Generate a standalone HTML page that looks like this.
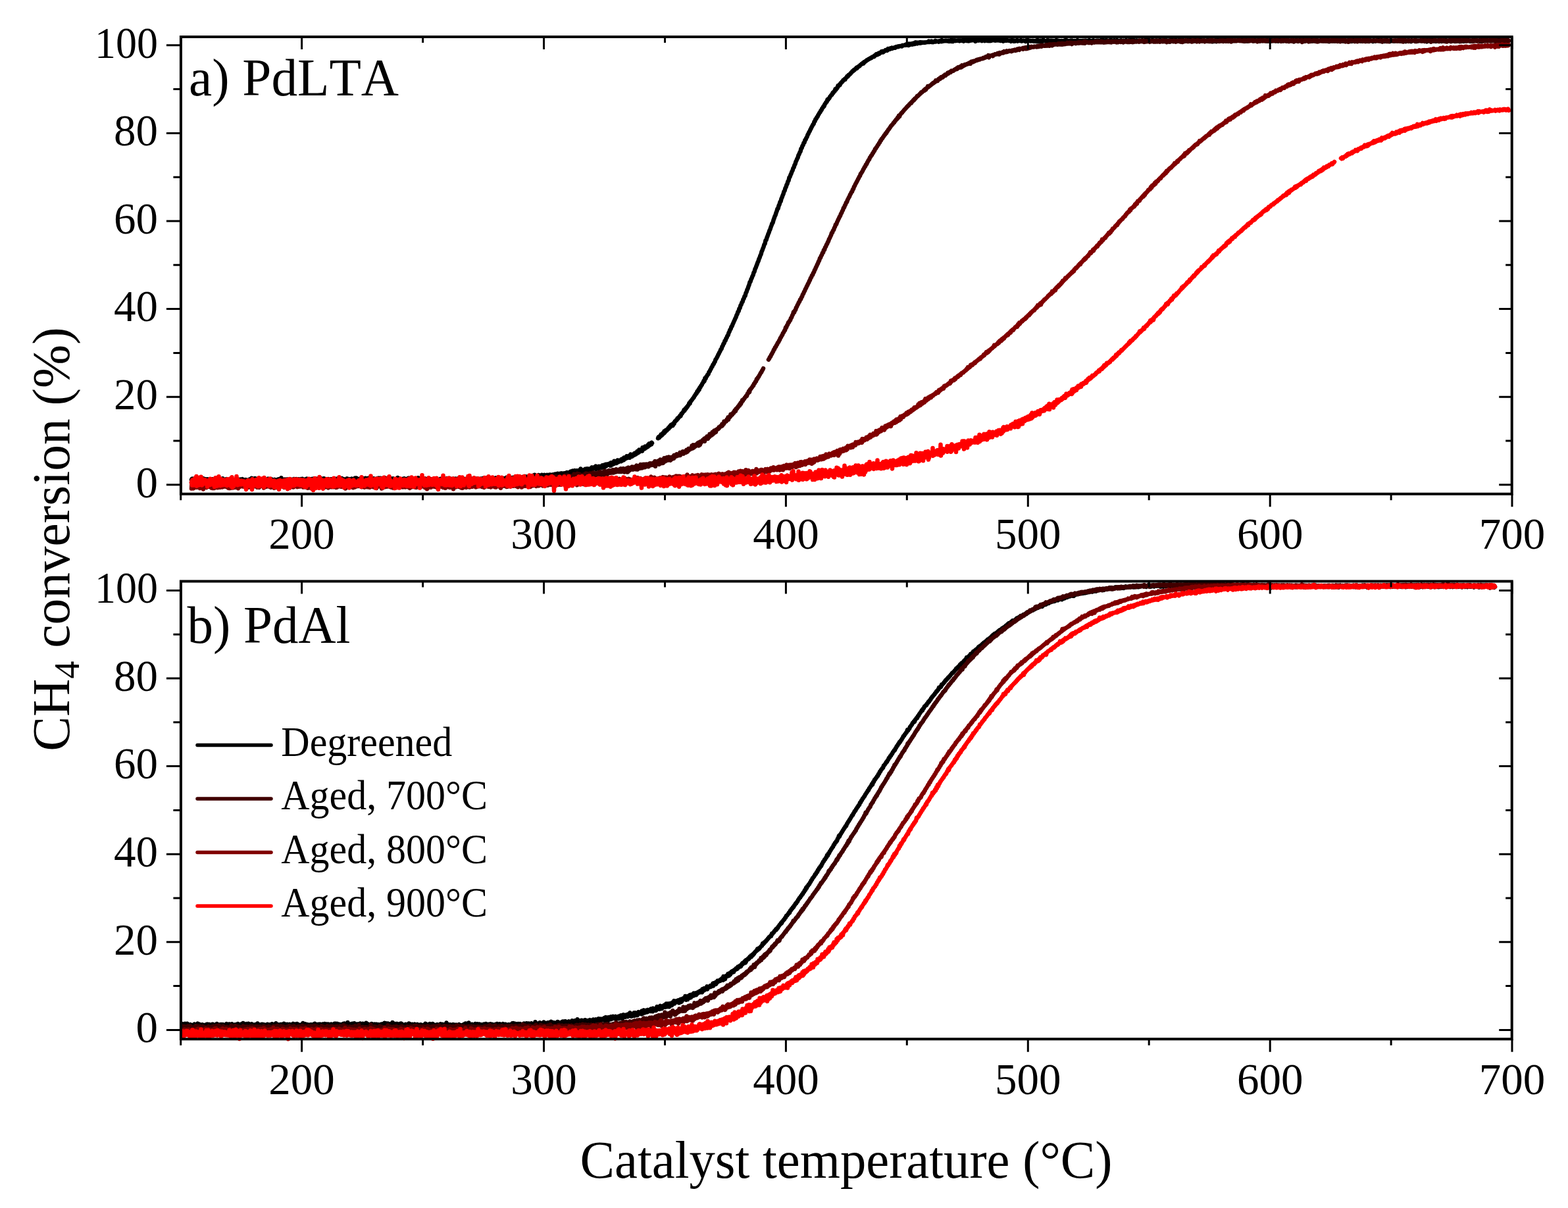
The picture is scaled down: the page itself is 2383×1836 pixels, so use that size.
<!DOCTYPE html>
<html><head><meta charset="utf-8"><title>CH4 conversion</title><style>html,body{margin:0;padding:0;background:#fff;overflow:hidden}svg{display:block}</style></head><body>
<svg xmlns="http://www.w3.org/2000/svg" width="2383" height="1836" viewBox="0 0 2383 1836">
<rect width="2383" height="1836" fill="#fff"/>
<g fill="none" stroke-linejoin="round" stroke-linecap="round">
<path d="M291 729.2l.5 -1.2l.5 1.2l.5 -1.7l.5 2.4l.5 -1.5l.5 1.1l.5 -1.2l.5 1l.5 -.7l.5 .4l.5 -.6l.5 1.4l.5 -1l.5 .7l.5 -1.1l.5 .7l.5 -.4l.5 1.2l.5 -1.1l.5 .3l.5 -.3l.5 1.7l.5 -2.5l.5 4.1l.5 -5l.5 2.2l.5 -.6l.5 .7l.5 -.5l.5 2.6l.5 -3.5l.5 1.6l.5 -2.6l.5 2.9l.5 -1.4l.5 1.3l.5 -2.4l.5 2.1l.5 -.3l.5 1.4l.5 -2.1l.5 .9l.5 -1.1l.5 1.1l.5 -.2l.5 .2l.5 -.6l.5 1.2l.5 -1.6l.5 1.3l.5 -1.2l.5 1.7l.5 -1.3l.5 1.5l.5 -2.2l.5 2.2l.5 -1l.5 1.4l.5 -1.7l.5 .4l.5 -.3l.5 1.4l.5 -2.3l.5 1.4l.5 -.7l.5 .8l.5 -1.1l.5 2.6l.5 -2.1l.5 1.7l.5 -1.7l.5 1.2l.5 -1.7l.5 1.1l.5 -1.2l.5 1.4l.5 -2l.5 1.7l.5 -.6l.5 1.4l.5 -1.1l.5 2l.5 -3.1l.5 2.3l.5 -1.7l.5 1.4l.5 -.7l.5 .5l.5 -1l.5 1.5l.5 -1.2l.5 .4l.5 -.4l.5 1.4l.5 -3.6l.5 2.6l.5 -.1l.5 1.6l.5 -2l.5 1.1l.5 -1.6l.5 1.1l.5 -.9l.5 2.1l.5 -1.8l.5 1.4l.5 -2.6l.5 3.6l.5 -2.1l.5 .9l.5 -.9l.5 .4l.5 -1.2l.5 1l.5 0l.5 .8l.5 -1.3l.5 1.6l.5 -1.8l.5 2.4l.5 -3.4l.5 4.4l.5 -3.4l.5 3.5l.5 -3.9l.5 2.5l.5 -2l.5 1.5l.5 -1.4l.5 .9l.5 -1l.5 1.1l.5 -.8l.5 .5l.5 -1.1l.5 1.3l.5 -1.4l.5 1.1l.5 -1.3l.5 2.5l.5 -2.8l.5 1.6l.5 -.1l.5 .6l.5 -1l.5 .7l.5 -.7l.5 .8l.5 -1.6l.5 2.2l.5 -1.6l.5 1.8l.5 -2.1l.5 1.4l.5 -2.2l.5 3.1l.5 -1.5l.5 2.5l.5 -2.3l.5 1l.5 -1.3l.5 1l.5 -1l.5 1.1l.5 -1.5l.5 2.9l.5 -2.4l.5 .9l.5 -.8l.5 .2l.5 -.2l.5 .1l.5 -.2l.5 2l.5 -2.7l.5 1.5l.5 -1.9l.5 2l.5 -2.1l.5 1.9l.5 -.7l.5 1.2l.5 -4.2l.5 4.2l.5 -2.2l.5 2.1l.5 -1l.5 1.8l.5 -1.9l.5 .7l.5 -1.8l.5 2.4l.5 -4.1l.5 3.1l.5 -1.9l.5 3l.5 -1.4l.5 .8l.5 -1.8l.5 3.2l.5 -4.2l.5 3.4l.5 -1.6l.5 1.1l.5 -.7l.5 1.4l.5 -3.5l.5 3.2l.5 -1.4l.5 .8l.5 -1.2l.5 1l.5 -.9l.5 .7l.5 -1.4l.5 1.8l.5 -.7l.5 .5l.5 -.4l.5 .4l.5 -1.2l.5 1.2l.5 -.5l.5 .9l.5 -1.3l.5 2l.5 -2l.5 1.8l.5 -2.1l.5 1.3l.5 -.9l.5 .9l.5 -2.7l.5 2.7l.5 -.7l.5 1.8l.5 -2.4l.5 1.6l.5 -2l.5 1.3l.5 -.3l.5 .5l.5 -2l.5 3.7l.5 -2.6l.5 2.3l.5 -2.4l.5 1.1l.5 -.7l.5 .7l.5 -.4l.5 .3l.5 -1.1l.5 1.6l.5 -1.3l.5 1.5l.5 -1.1l.5 .6l.5 -.8l.5 1.2l.5 -1.6l.5 2.6l.5 -3l.5 1.1l.5 -1.5l.5 1.5l.5 -.1l.5 1.1l.5 -2l.5 1.7l.5 -1.1l.5 3.1l.5 -6.2l.5 4.2l.5 -1.6l.5 1.8l.5 -1l.5 2l.5 -2.7l.5 1.7l.5 -1.5l.5 .8l.5 -.8l.5 1.5l.5 -1.5l.5 .7l.5 -.9l.5 2.2l.5 -1.7l.5 1.2l.5 -2.1l.5 1.2l.5 -1l.5 1l.5 -.4l.5 1.1l.5 -1.6l.5 2.7l.5 -2.3l.5 1l.5 -.8l.5 .7l.5 -1.3l.5 .9l.5 -.5l.5 1.9l.5 -1.6l.5 .4l.5 -1.4l.5 1.4l.5 -2l.5 2.3l.5 -1.6l.5 1.3l.5 -.5l.5 1.6l.5 -1.5l.5 1.8l.5 -3.3l.5 1.6l.5 -.8l.5 1.7l.5 -1.4l.5 .6l.5 -1.4l.5 2.2l.5 -1.2l.5 .7l.5 -1.6l.5 2.3l.5 -1.3l.5 .6l.5 -2l.5 2.1l.5 -.7l.5 .6l.5 -2.3l.5 4.2l.5 -2.8l.5 1.5l.5 -1.9l.5 2.1l.5 -2l.5 .8l.5 -.9l.5 .8l.5 -1l.5 1.5l.5 -1.6l.5 1l.5 -1.9l.5 2.8l.5 -1.4l.5 1.4l.5 -1.3l.5 1.2l.5 -2l.5 1.8l.5 -1.2l.5 1.3l.5 -1.9l.5 1.9l.5 -.8l.5 0l.5 -1.3l.5 2.1l.5 -2.2l.5 1.9l.5 -1.3l.5 3.1l.5 -4.2l.5 2.5l.5 -2.1l.5 3l.5 -2.9l.5 1.9l.5 -1.7l.5 1.9l.5 -1.4l.5 .8l.5 -1.8l.5 1.6l.5 -1.1l.5 2.1l.5 -1.2l.5 .3l.5 -1.3l.5 1.8l.5 -1.4l.5 1.5l.5 -1.6l.5 1l.5 -.4l.5 .5l.5 -2.1l.5 2.1l.5 -.5l.5 1.2l.5 -1.8l.5 2.4l.5 -2.2l.5 1.2l.5 -2.7l.5 3.9l.5 -2.4l.5 1.7l.5 -1.5l.5 1.7l.5 -2.4l.5 3.6l.5 -3.3l.5 2.1l.5 -1.7l.5 1.7l.5 -2.5l.5 2.1l.5 -1.7l.5 1.8l.5 -1.2l.5 .3l.5 -.2l.5 .3l.5 -.9l.5 1l.5 -.7l.5 1.5l.5 -1.8l.5 1l.5 -.8l.5 2.1l.5 -2.2l.5 2.4l.5 -2.1l.5 .4l.5 -.9l.5 1.4l.5 -.7l.5 1.2l.5 -2.4l.5 1.8l.5 -1.4l.5 2l.5 -2.7l.5 2.4l.5 -1.3l.5 .8l.5 -.5l.5 1l.5 -3.3l.5 3.4l.5 -1.4l.5 .4l.5 -.6l.5 1.4l.5 -1.1l.5 .5l.5 -2.3l.5 2.1l.5 -1.6l.5 3.5l.5 -2.1l.5 1.9l.5 -2.6l.5 1.3l.5 -.8l.5 .3l.5 -.2l.5 .4l.5 -.4l.5 .7l.5 -1.5l.5 1l.5 -1.7l.5 2l.5 -1l.5 .9l.5 -.5l.5 .9l.5 -1.4l.5 1l.5 -.8l.5 1.7l.5 -1.6l.5 3.3l.5 -2.9l.5 1.2l.5 -2.5l.5 1.5l.5 -1.1l.5 2.2l.5 -1.4l.5 1.4l.5 -1.6l.5 .5l.5 -.6l.5 1.1l.5 -3l.5 2.6l.5 -.3l.5 1.5l.5 -3.9l.5 3.9l.5 -2.7l.5 2.5l.5 -2.5l.5 2.2l.5 -1.7l.5 1.4l.5 -1l.5 1.7l.5 -2.1l.5 2.5l.5 -3.2l.5 2.3l.5 -1.1l.5 1.1l.5 -1.2l.5 1.1l.5 -2l.5 2.2l.5 -1.6l.5 2.3l.5 -3.4l.5 4.2l.5 -3.4l.5 .9l.5 -1.6l.5 3.2l.5 -3.8l.5 3.6l.5 -2l.5 1.2l.5 -1.3l.5 1l.5 -1.7l.5 2l.5 -2.7l.5 3.4l.5 -2.4l.5 1.1l.5 -1.1l.5 2.1l.5 -1.9l.5 1l.5 -1.4l.5 1.8l.5 -1.7l.5 1.3l.5 -1.5l.5 2.6l.5 -1.8l.5 1.4l.5 -2.5l.5 2.7l.5 -2.5l.5 2.4l.5 -1.2l.5 .3l.5 -.3l.5 1.1l.5 -1.8l.5 2.1l.5 -2.1l.5 1.6l.5 -.7l.5 .3l.5 -2.2l.5 2.2l.5 -2.3l.5 2.5l.5 -2.5l.5 2.8l.5 -1.7l.5 1l.5 -2.2l.5 4.2l.5 -3.4l.5 1.5l.5 -.4l.5 1.1l.5 -1.2l.5 1.5l.5 -1.4l.5 1.1l.5 -1.7l.5 1.9l.5 -4l.5 4.2l.5 -1.3l.5 3.5l.5 -3.8l.5 .8l.5 -1.9l.5 3.2l.5 -2.2l.5 1.1l.5 -2l.5 1.8l.5 -2.1l.5 2.7l.5 -1.7l.5 2.8l.5 -2.5l.5 .8l.5 -2.4l.5 2.1l.5 -.4l.5 1.9l.5 -2.1l.5 3l.5 -4l.5 1.6l.5 -1.6l.5 1.7l.5 -1.1l.5 1.3l.5 -1.1l.5 1.6l.5 -1.3l.5 2.4l.5 -2.8l.5 1.2l.5 -1l.5 1.6l.5 -1.4l.5 .9l.5 -3.4l.5 5.1l.5 -2.3l.5 .6l.5 -2.2l.5 3.9l.5 -2.5l.5 1.5l.5 -2l.5 1.5l.5 -.9l.5 1.1l.5 -.9l.5 .6l.5 -1.1l.5 .7l.5 -1.2l.5 2l.5 -2.4l.5 3.6l.5 -3.8l.5 2.4l.5 -1.7l.5 1.3l.5 -.8l.5 1.8l.5 -1.7l.5 1l.5 -1.1l.5 2.2l.5 -2.1l.5 1.7l.5 -3.5l.5 2.6l.5 -2.6l.5 2.6l.5 -1l.5 3.1l.5 -2.4l.5 2.1l.5 -2.1l.5 1.4l.5 -1.4l.5 2.5l.5 -2.9l.5 1l.5 -2.1l.5 2.5l.5 -1.2l.5 .9l.5 -1.5l.5 1.9l.5 -1.7l.5 1.8l.5 -1.6l.5 1.8l.5 -2.9l.5 1.9l.5 -1.8l.5 2.5l.5 -1.4l.5 1.4l.5 -3.9l.5 4.2l.5 -2.3l.5 1.6l.5 -1.6l.5 1.5l.5 -1l.5 1.4l.5 -2.3l.5 3.4l.5 -2.5l.5 1.2l.5 -1.3l.5 4.6l.5 -6l.5 2.7l.5 -.9l.5 1l.5 -1.6l.5 3.5l.5 -4.7l.5 3.4l.5 -3.1l.5 3.6l.5 -2l.5 .9l.5 -.7l.5 1.4l.5 -1.6l.5 .3l.5 -.6l.5 1.7l.5 -3l.5 2.3l.5 -1.5l.5 2l.5 -1.9l.5 1.7l.5 -1.7l.5 2.1l.5 -2.1l.5 2.4l.5 -1.4l.5 .4l.5 -1l.5 1.9l.5 -1.7l.5 .8l.5 -1.5l.5 1.8l.5 -2.5l.5 2.1l.5 -.9l.5 1.3l.5 -1.8l.5 2.2l.5 -1.6l.5 1.9l.5 -1.4l.5 1.5l.5 -1.8l.5 1.7l.5 -1.8l.5 1.8l.5 -1.6l.5 1l.5 -1.1l.5 .6l.5 -1.8l.5 1.8l.5 -.4l.5 .8l.5 -1.1l.5 .7l.5 -1.1l.5 1.9l.5 -1.8l.5 1.1l.5 -2.1l.5 2.9l.5 -3l.5 2.9l.5 -2l.5 1.9l.5 -2.5l.5 1.7l.5 -2l.5 2.3l.5 -2.8l.5 2.7l.5 -2.6l.5 2.6l.5 -1.9l.5 2l.5 -1.2l.5 1.6l.5 -1.8l.5 2.7l.5 -2.8l.5 1.3l.5 -1.9l.5 3.1l.5 -1.6l.5 .3l.5 -1.6l.5 3.5l.5 -2.7l.5 2l.5 -3.2l.5 3.4l.5 -1.6l.5 .9l.5 -.9l.5 3l.5 -4.8l.5 2.9l.5 -1.4l.5 .5l.5 -1.2l.5 1.7l.5 -2.5l.5 3.3l.5 -1.4l.5 .5l.5 -.8l.5 .4l.5 -.3l.5 1.2l.5 -1.1l.5 .8l.5 -.9l.5 .3l.5 -.8l.5 1.4l.5 -1.1l.5 1.5l.5 -1.4l.5 .6l.5 -1.2l.5 1.1l.5 -.3l.5 .2l.5 -1.6l.5 1.9l.5 -1.9l.5 2l.5 -2.3l.5 2l.5 -1.3l.5 1.3l.5 -.4l.5 1.5l.5 -2.8l.5 1.5l.5 -.9l.5 1.4l.5 -2.1l.5 2.7l.5 -2.9l.5 1.7l.5 -2.4l.5 2.9l.5 -1.3l.5 1.7l.5 -2.4l.5 1.9l.5 -.8l.5 .4l.5 -1.5l.5 3.1l.5 -2.2l.5 4.6l.5 -4.2l.5 .5l.5 -1.1l.5 1.4l.5 -1.3l.5 1.3l.5 -2.4l.5 1.6l.5 -1.7l.5 3.2l.5 -3l.5 2.6l.5 -2.3l.5 1.4l.5 -.3l.5 .3l.5 -1.2l.5 1.4l.5 -2l.5 3l.5 -1.8l.5 .5l.5 -.4l.5 .4l.5 -2.2l.5 3.3l.5 -2.3l.5 1.7l.5 -3.3l.5 2.8l.5 -1l.5 1l.5 -.9l.5 2.8l.5 -2.5l.5 .2l.5 -2.4l.5 3.2l.5 -2l.5 2.4l.5 -1.9l.5 1.6l.5 -1.9l.5 2.1l.5 -3.2l.5 2.1l.5 -1.9l.5 1.8l.5 -1.1l.5 2.5l.5 -3.5l.5 2.3l.5 -1.7l.5 1.5l.5 -1l.5 2.3l.5 -1.5l.5 1.5l.5 -2.9l.5 1.5l.5 -.7l.5 1.6l.5 -2.6l.5 1.9l.5 -2.5l.5 2.2l.5 -1.7l.5 1.7l.5 -1l.5 1l.5 -.3l.5 .5l.5 -1.4l.5 1.8l.5 -2.6l.5 1.7l.5 -.5l.5 1.2l.5 -2.8l.5 2.8l.5 -.9l.5 1.6l.5 -1.7l.5 .9l.5 -1.4l.5 1.3l.5 -1.8l.5 1.9l.5 -1l.5 2.4l.5 -3.2l.5 1.2l.5 -1l.5 1.3l.5 -1.6l.5 .8l.5 -2.1l.5 3.1l.5 -2.1l.5 1.5l.5 -1.4l.5 1.5l.5 -1.4l.5 1.6l.5 -2.2l.5 1.3l.5 -1l.5 1.2l.5 -.8l.5 1.7l.5 -2l.5 2.1l.5 -2.5l.5 2l.5 -2l.5 1.7l.5 -1.1l.5 2.8l.5 -3.9l.5 2.2l.5 -2l.5 2.1l.5 -1.3l.5 1.5l.5 -2.3l.5 1.3l.5 -1.3l.5 2l.5 -3.5l.5 3.4l.5 -1.7l.5 1l.5 -.7l.5 .6l.5 -.8l.5 3l.5 -2.7l.5 .5l.5 -.8l.5 .5l.5 -1.2l.5 .9l.5 -.9l.5 3.6l.5 -4l.5 3l.5 -3.2l.5 1.6l.5 -1.1l.5 1.7l.5 -1.8l.5 2.3l.5 -3.7l.5 3.5l.5 -3.3l.5 1.8l.5 -.4l.5 .7l.5 -1.6l.5 3.9l.5 -2.9l.5 .1l.5 -.6l.5 .8l.5 -1.1l.5 .8l.5 -1.1l.5 1.6l.5 -1.7l.5 1.6l.5 -1.6l.5 3l.5 -2.5l.5 .8l.5 -1.4l.5 2.3l.5 -3l.5 1.9l.5 -1l.5 .8l.5 -3.1l.5 2.8l.5 -3.4l.5 3.5l.5 -1l.5 1.2l.5 -2l.5 2.3l.5 -2l.5 2.2l.5 -2.5l.5 2l.5 -1.1l.5 1l.5 -3.3l.5 2.9l.5 -1.6l.5 1.1l.5 -.8l.5 2.2l.5 -2.8l.5 2.7l.5 -2l.5 1.7l.5 -3.6l.5 2.6l.5 -1.6l.5 1.6l.5 -1.3l.5 1.8l.5 -1.3l.5 0l.5 -1.7l.5 1.7l.5 -1l.5 1.6l.5 -1.5l.5 2.2l.5 -2l.5 .5l.5 -1.6l.5 1.8l.5 -1l.5 1.8l.5 -2.3l.5 2.6l.5 -3l.5 1.3l.5 -1.4l.5 1.2l.5 -1.3l.5 1l.5 -.6l.5 2.3l.5 -2.2l.5 .3l.5 -.6l.5 1.2l.5 -1.5l.5 .9l.5 -.5l.5 .8l.5 -1.1l.5 1.9l.5 -2.8l.5 2.4l.5 -2.4l.5 1l.5 -.6l.5 2.6l.5 -3.3l.5 1.3l.5 -1.9l.5 1.6l.5 -1.2l.5 1.3l.5 -.6l.5 1l.5 -1.7l.5 1l.5 -1.2l.5 .9l.5 -.4l.5 .8l.5 -1.9l.5 1.1l.5 -.8l.5 .9l.5 -.5l.5 1.1l.5 -1.3l.5 .9l.5 -1l.5 .9l.5 -1.3l.5 1.8l.5 -1.8l.5 1.9l.5 -2.3l.5 .5l.5 -1.3l.5 1.7l.5 -1.1l.5 .8l.5 -1l.5 .5l.5 -.5l.5 2.1l.5 -2.8l.5 .7l.5 -.5l.5 2.3l.5 -3.8l.5 4.1l.5 -4.4l.5 2.5l.5 -1.7l.5 1.7l.5 -3.1l.5 3.1l.5 -1.9l.5 2.3l.5 -2.3l.5 .9l.5 -2.6l.5 2.7l.5 -2l.5 2.2l.5 -1.3l.5 2l.5 -3.5l.5 3l.5 -2.1l.5 1.4l.5 -2.2l.5 2l.5 -1l.5 .2l.5 -1.7l.5 4l.5 -4.9l.5 3l.5 -4.3l.5 3.1l.5 -1.3l.5 3.3l.5 -2.5l.5 .9l.5 -1.4l.5 1.1l.5 -1l.5 .3l.5 -1l.5 2.4l.5 -2.6l.5 2l.5 -3.2l.5 2.5l.5 -2.1l.5 1.5l.5 -1.2l.5 .8l.5 -1.8l.5 2.7l.5 -1.9l.5 .8l.5 -1l.5 .8l.5 -1.1l.5 1.3l.5 -1.4l.5 1.1l.5 -.9l.5 1.3l.5 -1.7l.5 .9l.5 -2.9l.5 3.2l.5 -1.7l.5 .6l.5 -1.3l.5 1.2l.5 -2.2l.5 2.1l.5 -1.3l.5 1.1l.5 -1.2l.5 .8l.5 -3.2l.5 4.4l.5 -3.3l.5 1.6l.5 -2l.5 3.2l.5 -2.7l.5 1.3l.5 -1.9l.5 2.8l.5 -3l.5 2.2l.5 -2.1l.5 .9l.5 -.6l.5 .1l.5 -.4l.5 .3l.5 -.5l.5 2.1l.5 -3.6l.5 2l.5 -1.6l.5 1.2l.5 -2.1l.5 1.6l.5 -.8l.5 2.5l.5 -3.2l.5 2.6l.5 -3.8l.5 2.4l.5 -1.1l.5 .9l.5 -2.3l.5 1.6l.5 -1.2l.5 .6l.5 -1.3l.5 1.4l.5 -2l.5 1.1l.5 -.2l.5 -.1l.5 -.3l.5 2.6l.5 -4.5l.5 1.7l.5 -1.7l.5 2l.5 -1.3l.5 2.1l.5 -3.2l.5 2.4l.5 -2.2l.5 2l.5 -4.3l.5 3.3l.5 -1.9l.5 1.4l.5 -1.4l.5 .5l.5 -1.4l.5 2.7l.5 -2.9l.5 1.5l.5 -3.1l.5 2.8l.5 -2.7l.5 2.8l.5 -2.4l.5 .7l.5 -.6l.5 .8l.5 -1.2l.5 .5l.5 -.8l.5 1.9l.5 -3.2l.5 1l.5 -.8l.5 1.5l.5 -2.8l.5 2.6l.5 -2.3l.5 2.1l.5 -3.9l.5 2.5l.5 -.9l.5 -.1l.5 -.6l.5 .6l.5 -1l.5 .5l.5 -3.3l.5 2.5l.5 -.7l.5 .8l.5 -1l.5 .4l.5 -1.7l.5 1.3l.5 -2.3l.5 3.3l.5 -3.5l.5 2l.5 -3.8l.5 3.4l.5 -2.6l.5 2.3l.5 -1.6l.5 1.6l.5 -2.3l.5 .5l.5 -1l.5 .1l.5 -1.2l.5 2.1l.5 -2.9l.5 1.3l.5 -1.7l.5 2.2l.5 -2.3l.5 .3l.5 -1.3l.5 1.9l.5 -3.3l.5 1.9l.5 -1.3l.5 1.5l.5 -1.6l.5 1l.5 -3.9l.5 2.9l.5 -1.6l.5 .6l.5 -1.3l.5 .6l.5 -1.5l.5 1.3l.5 -1.7l.5 2.7l.5 -5.3l.5 3l.5 -1.2l.5 .7l.5 -2l.5 .6l.5 -1.4l.5 2.1l.5 -3.6l.5 2.7l.5 -1.7l.5 .4l.5 -1.2l.5 1.3l.5 -2l.5 1.3l.5 -2.8l.5 2.3l.5 -3.2l.5 1.7l.5 -3l.5 2.8l.5 -2.5l.5 .5l.5 -1.3l.5 2.1l.5 -2.1l.5 1.7l.5 -2.9l.5 .8M1000 666.2l.5 -1.6l.5 .8l.5 -1.6l.5 1.3l.5 -2l.5 .2l.5 -1l.5 .6l.5 -2.5l.5 1.3l.5 -1.3l.5 1.3l.5 -2.5l.5 .8l.5 -1.8l.5 1.3l.5 -2.3l.5 .8l.5 -2.8l.5 2.8l.5 -1.8l.5 .1l.5 -2.3l.5 1.2l.5 -1.5l.5 1l.5 -1.6l1 .1l1 -2.6l1 .7l1 -2.9l1 .7l1 -3l1 .7l1 -1.9l1 1.9l1 -3.5l1 .9l1 -3.7l1 0l1 -1.9l1 .1l1 -2.8l1 .3l1 -2.2l1 -.3l1 -2l1 .5l1 -3.4l1 .1l1 -2l1 -1.1l1 -2.7l1 .9l1 -2.9l1 .2l1 -2.5l1 -.2l1 -2.2l1 -.9l1 -3l1 .9l1 -3.5l1 -.5l1 -1.6l1 -1.3l1 -1.5l1 -.9l1 -2.5l1 -.7l1 -2.5l1 -.2l1 -3.2l1 .3l1 -3.2l1 .4l1 -3.5l1 -.5l1 -2.4l1 -.8l1 -2.6l1 -1.1l1 -2.7l1 .5l1 -4.9l1 .9l1 -3.2l1 -.8l1 -2.2l1 -.4l1 -3.4l1 -.7l1 -2.6l1 -1.4l1 -2.6l1 -1.1l1 -2.6l1 -.8l1 -2.6l1 -1.2l1 -3.5l1 -.9l1 -2l1 -1.8l1 -2.5l1 -1.5l1 -2.4l1 -1.5l1 -2.7l1 -.6l1 -3.6l1 -1.3l1 -2.9l1 -1l1 -3.5l1 -.4l1 -3.2l1 -1.4l1 -2.9l1 -.8l1 -3.5l1 -1.7l1 -3.1l1 -.9l1 -3.5l1 -.9l1 -2.9l1 -2l1 -2.5l1 -2.1l1 -2.4l1 -1.7l1 -3.4l1 -1.4l1 -3.6l1 -.7l1 -4l1 -.8l1 -4l1 -1.3l1 -3.3l1 -.9l1 -3.7l1 -1.3l1 -3.5l1 -.6l1 -4.3l1 -1.6l1 -3.4l1 -1.8l1 -3.3l1 -2.3l1 -4.1l1 -.8l1 -3.6l1 -1.7l1 -2.9l1 -1.7l1 -4l1 -1.1l1 -4.2l1 -1.7l1 -3l1 -2.3l1 -3.1l1 -1.8l1 -3.5l1 -1.8l1 -3.4l1 -1.7l1 -4.1l1 -1.9l1 -3.1l1 -2.3l1 -3.5l1 -1.2l1 -5.1l1 -.6l1 -3.7l1 -2.2l1 -3.2l1 -2.1l1 -3.3l1 -1.9l1 -3.3l1 -2.5l1 -3l1 -1l1 -4.1l1 -2.6l1 -3.1l1 -1.8l1 -3.5l1 -2.4l1 -3.9l1 -.2l1 -4.3l1 -1.8l1 -3.9l1 -.7l1 -4.3l1 -1.9l1 -3.1l1 -2.2l1 -3.7l1 -1.2l1 -3.9l1 -1.6l1 -3.4l1 -1.7l1 -3.6l1 -1.3l1 -4.6l1 -1.1l1 -2.9l1 -2l1 -3.1l1 -1.5l1 -3.7l1 -1l1 -3.7l1 -1.4l1 -3.7l1 -1.9l1 -2.5l1 -1.6l1 -3.8l1 -1.5l1 -2.9l1 -1.2l1 -4.6l1 -.6l1 -3.5l1 -.9l1 -3.5l1 -.5l1 -3.9l1 -.6l1 -2.8l1 -1.3l1 -3.2l1 -1.4l1 -2.6l1 -1.3l1 -2.5l1 -1.8l1 -2.2l1 -1.6l1 -2.2l1 -.6l1 -3.7l1 -.7l1 -3.3l1 -.6l1 -2.4l1 -.5l1 -2.8l1 -1.3l1 -2.1l1 -.8l1 -2.5l1 -.7l1 -2.7l1 -.8l1 -2.4l1 .1l1 -3.2l1 -1l1 -2l1 -.3l1 -3.7l1 .4l1 -1.9l1 -.6l1 -2.6l1 -.7l1 -1.7l1 -.1l1 -3.1l1 .1l1 -2.2l1 -.2l1 -3.3l1 .9l1 -2.4l1 .1l1 -3.7l1 .6l1 -2l1 .3l1 -2.8l1 -.3l1 -1.9l1 -.1l1 -2.4l1 .1l1 -1.6l1 .5l1 -2.2l1 -.8l1 -1.9l1 .6l1 -2.3l1 -.1l1 -1.6l1 0l1 -2l1 -.5l1 -1.9l1 .1l1 -1.8l1 .2l1 -1.4l1 -.4l1 -1.7l1 .7l1 -2l1 -.1l1 -1.2l1 0l1 -1.7l1 -.4l1 -1.3l1 0l1 -1.6l1 .9l1 -2.3l1 .2l1 -1.5l1 -.1l1 -1.4l1 0l1 -1.1l1 0l1 -1.1l1 0l1 -1.3l1 .2l1 -1.3l1 -.3l1 -.7l1 .6l1 -2l1 -.1l1 -1.6l1 .9l1 -1.6l1 1l1 -2l1 .8l1 -1.5l1 .2l1 -1.9l1 .9l1 -1.4l1 1.3l1 -1.5l1 0l1 -1.5l1 .6l1 -1l1 .9l1 -2.6l1 1.2l1 -1.2l1 .6l1 -1.3l1 .6l1 -1.2l1 .8l1 -.7l1 -.1l1 -.7l1 .6l1 -1.5l1 .3l1 -.8l1 .6l1 -.9l1 .4l1 -.8l1 .1l1 -.3l1 .6l1 -1.5l1 .4l1 -.5l1 0l1 -.7l1 .6l1 -1.2l1 .8l1 -1.1l1 1.7l1 -2.3l1 1.7l1 -1.7l1 .7l1 -.9l1 1.2l1 -1.6l1 1l1 -1.6l1 1.4l1 -2.4l1 1.6l1 -1.2l1 1.4l1 -1.3l1 .6l1 -1.1l1 1.1l1 -1.2l1 .8l1 -.6l1 .2l1 -.3l1 .5l1 -.6l1 .4l1 -.5l1 0l1 -.3l1 0l1 -1.2l1 1.2l1 -.8l1 .6l1 -1l1 1.3l1 -.8l1 .8l1 -1l1 .5l1 -1.6l1 1.4l1 -.8l1 .5l1 -.2l1 .7l1 -1.1l1 .6l1 -1.1l1 1.1l1 -1.9l1 1.7l1 -.5l1 .1l1 -.7l1 .6l1 -.8l1 .7l1 -.4l1 .7l1 -.9l1 1.2l1 -.9l1 .7l1 -1.9l1 2.3l1 -1.8l1 1.7l1 -1.6l1 .7l1 -.6l1 .7l1 -.7l1 .4l1 -.5l1 .6l1 -.5l1 .9l1 -1l1 .5l1 -.6l1 .7l1 -1.3l1 1.9l1 -1.8l1 1l1 -.8l1 .9l1 -.7l1 1l1 -1.4l1 1.5l1 -1.7l1 1.1l1 -.6l1 .4l1 -.3l1 .2l1 -.4l1 .6l1 -.7l1 2l1 -2.7l1 1.3l1 -1.1l1 1.2l1 -1.2l1 1.1l1 -.5l1 .6l1 -.9l1 1.4l1 -1.1l1 .4l1 -.2l1 .9l1 -1.2l1 .5l1 -.9l1 1.5l1 -1.5l1 1.6l1 -1.1l1 1.1l1 -1.3l1 1.1l1 -1.3l1 .8l1 -.3l1 .3l1 0l1 .4l1 -.7l1 .4l1 -1.8l1 1.8l1 -.5l1 .7l1 -.3l1 .7l1 -.9l1 .4l1 -.5l1 1.7l1 -1.3l1 .6l1 -1.1l1 .7l1 -1l1 1l1 -.4l1 .6l1 -.3l1 .3l1 -.3l1 1.4l1 -1.7l1 .8l1 -.6l1 1.1l1 -.9l1 1l1 -.9l1 .1l1 -.8l1 1.6l1 -1.1l1 .6l1 -.3l1 .3l1 -.9l1 1.3l1 -.7l1 .4l1 -.6l1 .5l1 -.1l1 1l1 -1.5l1 .9l1 -1l1 .8l1 -.7l1 .6l1 -.3l1 .7l1 -.6l1 .3l1 -.4l1 .9l1 -.6l1 .6l1 -.7l1 .9l1 -1.4l1 1.6l1 -2l1 2l1 -1l1 1.2l1 -1.7l1 1.4l1 -1l1 .7l1 -2.3l1 1.9l1 -.3l1 .4l1 -.1l1 .2l1 -1.1l1 1.4l1 -1.4l1 .9l1 -.2l1 1.1l1 -1.4l1 .9l1 -.8l1 1.1l1 -.9l1 .4l1 -.6l1 .6l1 -1.3l1 1.9l1 -1.5l1 .9l1 -.4l1 .4l1 -.3l1 1l1 -1.2l1 .4l1 -.1l1 .7l1 -1.4l1 1.5l1 -1.9l1 1.4l1 -1.2l1 1.1l1 -.2l1 .1l1 -.4l1 .8l1 -1l1 1.1l1 -1.3l1 1l1 -.4l1 .3l1 -.6l1 .4l1 -.3l1 .3l1 -1.2l1 1.5l1 -.6l1 1.1l1 -1l1 .3l1 -.5l1 .4l1 -.5l1 1.1l1 -1.1l1 .7l1 -.9l1 .6l1 -.4l1 .9l1 -.7l1 .8l1 -1.8l1 1.5l1 -.5l1 .3l1 -.5l1 .6l1 -1l1 1.8l1 -1.1l1 .1l1 -.2l1 .9l1 -1.2l1 1.1l1 -1.2l1 .6l1 -.2l1 .6l1 -1.6l1 1.3l1 -.8l1 2.2l1 -2.5l1 1.6l1 -1l1 1.5l1 -2.2l1 1.7l1 -1.2l1 1l1 -.6l1 .2l1 -1.3l1 1.7l1 -1.3l1 1l1 -.4l1 .5l1 -1.3l1 1.4l1 -.7l1 .7l1 -1.5l1 1.8l1 -1l1 .8l1 -.8l1 .4l1 -.7l1 1.3l1 -.9l1 .5l1 -.8l1 .7l1 -.5l1 .2l1 -1.1l1 1.1l1 -.3l1 .8l1 -1.1l1 .6l1 -.8l1 1.1l1 -1l1 1l1 -1l1 1.3l1 -1.4l1 .9l1 -.3l1 1.3l1 -1.8l1 .9l1 -.6l1 .8l1 -.7l1 .3l1 -.3l1 .3l1 -.7l1 1.6l1 -1.3l1 .7l1 -.9l1 1.7l1 -2l1 .8l1 -1l1 1.7l1 -1l1 .8l1 -.8l1 .3l1 -.3l1 .8l1 -1.8l1 1.3l1 -.4l1 .8l1 -.8l1 .9l1 -1l1 1.3l1 -1.1l1 .3l1 -.5l1 .9l1 -1.3l1 1.6l1 -1l1 1.2l1 -1.3l1 1.1l1 -1.4l1 1.3l1 -1.1l1 1.5l1 -1.6l1 .5l1 -.3l1 1.8l1 -1.9l1 1.9l1 -2.1l1 1l1 -1.6l1 2.2l1 -1.4l1 1.3l1 -2l1 1.3l1 -.9l1 .9l1 -.5l1 .4l1 -.7l1 1l1 -1.2l1 2.3l1 -2.2l1 2l1 -2.2l1 1l1 -.3l1 1.2l1 -1.2l1 .3l1 -.3l1 .1l1 -.6l1 1.4l1 -1.3l1 1.1l1 -1.2l1 .9l1 -.4l1 .3l1 -.5l1 .8l1 -1.1l1 1.1l1 -1.1l1 .6l1 -.3l1 .8l1 -1.2l1 1l1 -.7l1 .4l1 -.8l1 .8l1 -.3l1 .3l1 -.5l1 .5l1 -.3l1 .4l1 -.2l1 .5l1 -1.6l1 2.1l1 -1.3l1 .6l1 -.5l1 .4l1 -.9l1 2.4l1 -1.8l1 1.3l1 -1.2l1 .8l1 -1.3l1 1.9l1 -2.2l1 1.7l1 -1.2l1 1.1l1 -1.3l1 1.2l1 -1.7l1 1.4l1 -.5l1 .9l1 -1.5l1 1.2l1 -1.3l1 1.3l1 -.6l1 .9l1 -1.3l1 1l1 -.8l1 .8l1 -1.1l1 .7l1 -1.1l1 2.1l1 -1.3l1 .3l1 -.1l1 .4l1 -.6l1 .8l1 -.6l1 .1l1 -.4l1 .4l1 -.3l1 .6l1 -.6l1 .4l1 -1.4l1 1.7l1 -.8l1 1.2l1 -1.8l1 1.1l1 -.2l1 .8l1 -1.3l1 1.4l1 -1.2l1 .5l1 -.5l1 .4l1 -.5l1 .6l1 -.2l1 .8l1 -1.7l1 1.2l1 -.8l1 .6l1 -.3l1 .3l1 -.3l1 .5l1 -1.2l1 1l1 -.2l1 .5l1 -.7l1 .8l1 -1.4l1 1.1l1 -.4l1 .5l1 -.5l1 .8l1 -1.5l1 2l1 -1.2l1 .2l1 -.2l1 1.1l1 -1.7l1 1.4l1 -1l1 .9l1 -.9l1 .7l1 -.8l1 1.2l1 -1l1 .7l1 -1.2l1 1.8l1 -1.3l1 .3l1 -.6l1 .8l1 -.6l1 .6l1 -.9l1 1.4l1 -1.7l1 1.3l1 -.4l1 .4l1 -.9l1 1.2l1 -1.2l1 .7l1 -.3l1 .3l1 -.5l1 .9l1 -.8l1 .6l1 -1.1l1 2.4l1 -1.6l1 .1l1 -.8l1 .8l1 -.4l1 1.2l1 -.9l1 .4l1 -1l1 .7l1 -.7l1 .7l1 -.7l1 .8l1 -.8l1 1.6l1 -1.2l1 .6l1 -1l1 .8l1 -.6l1 .6l1 -.9l1 .9l1 -.8l1 1.1l1 -.9l1 1.2l1 -1.5l1 1l1 -.9l1 .9l1 -.7l1 1l1 -1.5l1 1.1l1 -.3l1 .4l1 -.3l1 .3l1 -1l1 1.1l1 -.4l1 .7l1 -.7l1 .5l1 -.9l1 .6l1 -.4l1 .5l1 -.7l1 1.4l1 -1.5l1 2l1 -1.5l1 .5l1 -.8l1 .6l1 -.6l1 1l1 -2.5l1 2.5l1 -1.7l1 1.2l1 -.8l1 1.4l1 -1.1l1 .6l1 -.6l1 1.2l1 -1.1l1 .8l1 -1.2l1 1.1l1 -1l1 1.4l1 -1.7l1 1.4l1 -.7l1 1.1l1 -1l1 .6l1 -1.2l1 1l1 -.3l1 .3l1 -.5l1 1.2l1 -1.9l1 1.1l1 -1l1 1.5l1 -.7l1 .5l1 -.5l1 .5l1 -.9l1 .7l1 -.7l1 .8l1 -.7l1 1.1l1 -.9l1 .8l1 -1.3l1 .9l1 -.2l1 .2l1 -.9l1 1.6l1 -1.7l1 .8l1 -.3l1 1.3l1 -1.6l1 .7l1 -.7l1 .7l1 -.3l1 1.3l1 -1.8l1 .8l1 -.5l1 1.1l1 -.7l1 .2l1 -1.4l1 1.3l1 -.8l1 .8l1 -1.5l1 1.8l1 -1l1 1.9l1 -1.6l1 1.1l1 -1l1 1.1l1 -1.2l1 .6l1 -1.4l1 1.3l1 -.4l1 .4l1 -.4l1 1.2l1 -1.8l1 1l1 -.2l1 .5l1 -.6l1 .9l1 -.9l1 .6l1 -.9l1 .5l1 -.4l1 .8l1 -.8l1 .4l1 -.8l1 1.3l1 -1.2l1 .9l1 -.9l1 1.6l1 -1.2l1 .6l1 -.8l1 1.5l1 -1.1l1 .3l1 -.8l1 .6l1 -.7l1 .9l1 -.3l1 1.1l1 -1.8l1 .7l1 0l1 0l1 -.2l1 .7l1 -1.1l1 1.4l1 -1.1l1 1l1 -1l1 .4l1 -.4l1 .5l1 -.2l1 .3l1 -.6l1 .4l1 -.9l1 .9l1 -1.2l1 1.1l1 -.2l1 1.5l1 -2.1l1 .9l1 -.7l1 .8l1 -.8l1 2l1 -2.1l1 1l1 -1.4l1 1.5l1 -1l1 1l1 -.9l1 1.5l1 -1.1l1 .1l1 -.5l1 .8l1 -.5l1 .5l1 -.7l1 1.3l1 -1.1l1 .7l1 -.5l1 .1l1 -.5l1 .7l1 -1.1l1 1.4l1 -.9l1 .6l1 -.4l1 .5l1 -1.1l1 .8l1 -.4l1 1.1l1 -.9l1 .2l1 -.2l1 .8l1 -1.1l1 1.2l1 -1.3l1 .6l1 -1.6l1 1.7l1 -.5l1 1.4l1 -1.4l1 1.1l1 -.9l1 .5l1 -1.5l1 2l1 -1l1 .6l1 -1l1 .8l1 -.4l1 .2l1 -.8l1 .9l1 -.5l1 1.2l1 -1.3l1 .6l1 -.8l1 .7l1 -1.1l1 1.2l1 -.9l1 .7l1 -.3l1 .3l1 -.4l1 .3l1 -.1l1 .9l1 -2l1 1.9l1 -1.1l1 1.2l1 -2l1 1.6l1 -.8l1 .6l1 -.3l1 .4l1 -1.2l1 .8l1 -.1l1 .2l1 -.3l1 .6l1 -.8l1 .9l1 -1l1 .7l1 -.4l1 .2l1 -.3l1 .6l1 -.7l1 .6l1 -1.4l1 1.8l1 -.8l1 .6l1 -1.7l1 2.1l1 -.9l1 .6l1 -1.1l1 .6l1 -.5l1 1.2l1 -.9l1 .4l1 -.6l1 .4l1 -.5l1 1.1" stroke="#000000" stroke-width="6.5"/>
<path d="M291 733.1l.5 -1.1l.5 1.5l.5 -4.6l.5 6.8l.5 -4.7l.5 2.3l.5 -1.7l.5 1.7l.5 -1.4l.5 2.5l.5 -2.1l.5 1.1l.5 -1.8l.5 2l.5 -.9l.5 1l.5 -1.8l.5 1.2l.5 -1.7l.5 2.8l.5 -1.6l.5 .8l.5 -1.2l.5 2.3l.5 -2.9l.5 4.6l.5 -5.9l.5 5.4l.5 -5.2l.5 3.8l.5 -1.6l.5 1.9l.5 -2.8l.5 1.5l.5 -.8l.5 .7l.5 -1.7l.5 3.2l.5 -2.4l.5 1l.5 -3.2l.5 4.1l.5 -3l.5 2.7l.5 -2.5l.5 1.9l.5 -2.5l.5 5.2l.5 -4.8l.5 3.4l.5 -3.9l.5 2.5l.5 -2.2l.5 2.1l.5 -1.7l.5 5.4l.5 -4.2l.5 .8l.5 -1.6l.5 2.2l.5 -1.3l.5 .6l.5 -.5l.5 1.2l.5 -2.7l.5 4.2l.5 -6.4l.5 5.8l.5 -2l.5 2.5l.5 -2.4l.5 1.2l.5 -1.9l.5 .9l.5 -2.2l.5 3.5l.5 -4.3l.5 3.4l.5 -1.2l.5 1.1l.5 -1.6l.5 2.6l.5 -1.6l.5 1.4l.5 -1.5l.5 1.7l.5 -1.7l.5 2.1l.5 -3.2l.5 3.6l.5 -3.3l.5 1.3l.5 -1.6l.5 1.7l.5 -.4l.5 .8l.5 -1.8l.5 2.2l.5 -2.4l.5 3.8l.5 -2.9l.5 1l.5 -2.1l.5 2.5l.5 -4.9l.5 4.4l.5 -1.2l.5 3.7l.5 -4.7l.5 3.2l.5 -3l.5 2.1l.5 -3.8l.5 4.6l.5 -1.7l.5 1.8l.5 -4.2l.5 3.9l.5 -1.3l.5 1.3l.5 -1.3l.5 .4l.5 -1.5l.5 2.5l.5 -2.4l.5 2l.5 -1.7l.5 3l.5 -3.1l.5 1.1l.5 -1.3l.5 3.2l.5 -3.4l.5 2.2l.5 -1.6l.5 4l.5 -3.4l.5 .9l.5 -2.3l.5 2.8l.5 -1.6l.5 .9l.5 -1.1l.5 3l.5 -3.5l.5 2.5l.5 -4.2l.5 3.2l.5 -2.2l.5 4l.5 -3l.5 2.1l.5 -2.2l.5 .9l.5 -.6l.5 1l.5 -1.7l.5 2.3l.5 -1.2l.5 2.3l.5 -3.5l.5 1.6l.5 -3.7l.5 4.6l.5 -1.6l.5 .8l.5 -1.9l.5 2.6l.5 -1.4l.5 1.9l.5 -2.1l.5 1.1l.5 -2l.5 3.1l.5 -2.5l.5 4l.5 -3.4l.5 2.3l.5 -3.9l.5 3.1l.5 -3l.5 3.1l.5 -1.5l.5 .5l.5 -2.8l.5 3.6l.5 -1.6l.5 1.3l.5 -4.1l.5 3.7l.5 -1.9l.5 1.7l.5 -1.4l.5 2l.5 -4l.5 3.5l.5 -2.2l.5 4.1l.5 -5.3l.5 3.8l.5 -1.7l.5 2.4l.5 -2.8l.5 3.4l.5 -2.6l.5 3.3l.5 -5.9l.5 3.6l.5 -2.6l.5 2.3l.5 -.3l.5 .5l.5 -1.6l.5 1.8l.5 -1l.5 2l.5 -3.5l.5 4.1l.5 -4.3l.5 5.8l.5 -4.8l.5 1.9l.5 -3.8l.5 4.1l.5 -2l.5 1.9l.5 -3.9l.5 4.7l.5 -2.7l.5 1.7l.5 -5.4l.5 8l.5 -4.9l.5 2.2l.5 -1.7l.5 4.6l.5 -3.8l.5 1.4l.5 -3.3l.5 4.6l.5 -3.3l.5 .9l.5 -.4l.5 1.6l.5 -2.7l.5 3.4l.5 -4.9l.5 3.4l.5 -1.7l.5 1.4l.5 -1.2l.5 2.9l.5 -2.7l.5 2l.5 -3.2l.5 4.9l.5 -4.3l.5 2.6l.5 -2.5l.5 1.4l.5 -2.4l.5 3l.5 -2.8l.5 2.7l.5 -2.3l.5 2.4l.5 -2.9l.5 4.7l.5 -4.1l.5 2.6l.5 -1.5l.5 .6l.5 -2.6l.5 3.8l.5 -1.8l.5 1.6l.5 -2.3l.5 3.5l.5 -3.2l.5 3l.5 -3.4l.5 2.5l.5 -5.6l.5 5.5l.5 -1.9l.5 3.8l.5 -4.8l.5 3.3l.5 -2.4l.5 1.3l.5 -4.7l.5 4.9l.5 -2.5l.5 2l.5 -.6l.5 2.3l.5 -4.9l.5 4.2l.5 -2.4l.5 3.8l.5 -3.5l.5 1.7l.5 -2.1l.5 3.8l.5 -4.6l.5 3l.5 -1l.5 1.7l.5 -3.9l.5 3l.5 -.8l.5 .8l.5 -1.4l.5 1.4l.5 -2.7l.5 4l.5 -4.8l.5 3.5l.5 -4.3l.5 6.3l.5 -2.9l.5 .8l.5 -2.2l.5 1.9l.5 -2.1l.5 3.7l.5 -2.9l.5 1.1l.5 -1.2l.5 1.8l.5 -3.6l.5 3.7l.5 -2.1l.5 1.4l.5 -.5l.5 2.1l.5 -2l.5 1.4l.5 -1.2l.5 3.1l.5 -3.4l.5 2l.5 -4.2l.5 4.4l.5 -1.9l.5 1.7l.5 -2.4l.5 3.3l.5 -4.6l.5 2.6l.5 -1l.5 2.2l.5 -3.7l.5 4.3l.5 -4.3l.5 3.5l.5 -1.9l.5 .8l.5 -2.3l.5 1.9l.5 -1l.5 1.1l.5 -1l.5 1.3l.5 -2.4l.5 4l.5 -3.6l.5 4.7l.5 -6.6l.5 3.6l.5 -.2l.5 .7l.5 -3.3l.5 2.7l.5 -.3l.5 2.2l.5 -2.2l.5 1.1l.5 -2.5l.5 1.9l.5 -1l.5 1.8l.5 -2.7l.5 2.9l.5 -2.2l.5 3.8l.5 -3.5l.5 1.1l.5 -1.1l.5 2.3l.5 -2.6l.5 3.7l.5 -3.3l.5 2l.5 -2.4l.5 2.5l.5 -3.6l.5 4l.5 -3.3l.5 3.3l.5 -4.9l.5 3.3l.5 -2l.5 2.2l.5 -.7l.5 1.3l.5 -4.3l.5 3.1l.5 -.5l.5 4.6l.5 -5l.5 1.8l.5 -1.7l.5 .9l.5 -.6l.5 1.8l.5 -1.9l.5 2.7l.5 -4.5l.5 2.7l.5 -.6l.5 1.4l.5 -1.9l.5 3l.5 -3.6l.5 1.4l.5 -.6l.5 2l.5 -6.3l.5 5.8l.5 -1.2l.5 .6l.5 -1l.5 2.7l.5 -2.8l.5 2.9l.5 -4l.5 3.5l.5 -3.3l.5 2.7l.5 -5.4l.5 4.9l.5 -2.1l.5 4.6l.5 -5.1l.5 3l.5 -2.6l.5 3.6l.5 -3.1l.5 1.5l.5 -2.7l.5 5l.5 -3.6l.5 2.4l.5 -3.9l.5 4.4l.5 -3.4l.5 2.6l.5 -1.5l.5 1.2l.5 -1.9l.5 1.5l.5 -.8l.5 .9l.5 -1.9l.5 2.3l.5 -1.7l.5 1.4l.5 -2.6l.5 4.3l.5 -2.5l.5 5l.5 -5.9l.5 2.4l.5 -2.1l.5 1.1l.5 -1.7l.5 2.6l.5 -1.5l.5 .5l.5 -.5l.5 1.2l.5 -2.6l.5 2.9l.5 -1.7l.5 1l.5 -2.4l.5 3l.5 -2l.5 1.9l.5 -1.7l.5 2.6l.5 -3l.5 2.3l.5 -2.5l.5 1.6l.5 -1.2l.5 4.7l.5 -5.7l.5 2.1l.5 -.9l.5 2l.5 -2.3l.5 3.1l.5 -2.9l.5 1.8l.5 -2.4l.5 2l.5 -1.4l.5 1.4l.5 -1.7l.5 2.8l.5 -3.2l.5 2l.5 -1.5l.5 2.7l.5 -4.7l.5 4.1l.5 -1.4l.5 1.3l.5 -3.5l.5 2.9l.5 -1l.5 2.8l.5 -4.2l.5 3.1l.5 -2.7l.5 2.4l.5 -1.6l.5 1l.5 -.5l.5 2.8l.5 -4.9l.5 2.8l.5 -2.5l.5 4l.5 -2.3l.5 .9l.5 -1.8l.5 2.4l.5 -1.4l.5 1.2l.5 -1l.5 1.3l.5 -2.2l.5 4.2l.5 -3.4l.5 1.8l.5 -2.6l.5 1l.5 -.6l.5 3.5l.5 -3.3l.5 2.6l.5 -2.5l.5 1.2l.5 -1.6l.5 1.7l.5 -2.2l.5 2l.5 -1.9l.5 4l.5 -4l.5 1.1l.5 -2l.5 2.4l.5 -1.1l.5 1.6l.5 -1.8l.5 3.4l.5 -3.5l.5 1l.5 -2.2l.5 4.6l.5 -3.2l.5 1l.5 -2.9l.5 3.2l.5 -2l.5 1.8l.5 -1.1l.5 1l.5 -.4l.5 1l.5 -1.2l.5 1.3l.5 -3l.5 4.1l.5 -4.3l.5 3l.5 -1.6l.5 3.3l.5 -4.9l.5 2.9l.5 -2.8l.5 4.1l.5 -3l.5 3.9l.5 -5.6l.5 4l.5 -1.8l.5 1.1l.5 -.6l.5 4.5l.5 -6l.5 2.3l.5 -.9l.5 1.5l.5 -3.2l.5 4.7l.5 -2.9l.5 3.1l.5 -3.9l.5 1.8l.5 -1.3l.5 2.9l.5 -2.4l.5 .6l.5 -1.1l.5 1.3l.5 -3.6l.5 5.9l.5 -3.3l.5 3.2l.5 -7.4l.5 4.8l.5 -2.2l.5 3.3l.5 -1.6l.5 1l.5 -2.4l.5 4.4l.5 -3.4l.5 2.9l.5 -2.9l.5 2.5l.5 -2.1l.5 1l.5 -2.4l.5 2.7l.5 -2l.5 2.2l.5 -3.2l.5 2.6l.5 -1.6l.5 1.3l.5 -1.7l.5 1.4l.5 -.2l.5 .3l.5 -.6l.5 1.5l.5 -2.1l.5 1.9l.5 -.8l.5 1.1l.5 -1.3l.5 1.1l.5 -.9l.5 1l.5 -2.2l.5 4.1l.5 -4.3l.5 3.2l.5 -3.1l.5 4.4l.5 -5.5l.5 2.7l.5 -2.1l.5 4.2l.5 -2.3l.5 1.2l.5 -4.2l.5 4.2l.5 -2.5l.5 3.1l.5 -2.8l.5 1.5l.5 -3.1l.5 3.2l.5 -2.7l.5 2.2l.5 -.7l.5 2.7l.5 -2.4l.5 1.6l.5 -5.1l.5 4.6l.5 -1.5l.5 1.8l.5 -2.3l.5 1.5l.5 -1.2l.5 1l.5 -2.3l.5 2.6l.5 -.7l.5 .6l.5 -.5l.5 1.2l.5 -3.1l.5 4.6l.5 -6l.5 3.6l.5 -1.2l.5 5.3l.5 -4.8l.5 1.6l.5 -1.6l.5 1.7l.5 -2.8l.5 3.7l.5 -2.4l.5 1.6l.5 -1.3l.5 .4l.5 -1.4l.5 1.2l.5 -1.2l.5 1.8l.5 -2l.5 1.9l.5 -2.4l.5 6.2l.5 -7.7l.5 3.4l.5 -.9l.5 1.6l.5 -2.9l.5 2.2l.5 -.4l.5 1.4l.5 -1.4l.5 1.3l.5 -4.7l.5 5.5l.5 -2.2l.5 2l.5 -2l.5 1.5l.5 -4.5l.5 4.9l.5 -4.1l.5 3l.5 -.5l.5 2.3l.5 -4l.5 2.1l.5 -1.5l.5 1.9l.5 -2.4l.5 4.6l.5 -3.7l.5 1.9l.5 -2.7l.5 2.3l.5 -1.3l.5 1.1l.5 -1.4l.5 1.4l.5 -2l.5 3.6l.5 -2.9l.5 4.6l.5 -6.5l.5 3l.5 -.4l.5 3.6l.5 -3.5l.5 .3l.5 -1.8l.5 3.2l.5 -2l.5 1.1l.5 -2.6l.5 3.3l.5 -3.4l.5 4.2l.5 -3.7l.5 2.5l.5 -2.3l.5 2.7l.5 -2.4l.5 4.3l.5 -5l.5 2.6l.5 -2.5l.5 3.3l.5 -2.9l.5 1.7l.5 -2.7l.5 4.4l.5 -4.5l.5 3.2l.5 -4.4l.5 3.9l.5 -1.2l.5 3.2l.5 -3.2l.5 2.3l.5 -1.9l.5 .8l.5 -2.9l.5 2.4l.5 -.2l.5 1.1l.5 -1l.5 1.7l.5 -4.7l.5 4.1l.5 -1.9l.5 .9l.5 -.6l.5 1.9l.5 -1.8l.5 1l.5 -1.1l.5 .5l.5 -.3l.5 .6l.5 -1.7l.5 1.6l.5 -.5l.5 2.3l.5 -2.2l.5 3.1l.5 -4.1l.5 2.6l.5 -3.5l.5 6.8l.5 -5.4l.5 2.7l.5 -2.7l.5 1.5l.5 -2.3l.5 2.3l.5 -3.2l.5 2.8l.5 -3l.5 4.1l.5 -2l.5 2.5l.5 -2.6l.5 1l.5 -2.5l.5 2.2l.5 -.4l.5 .4l.5 -3.2l.5 3.6l.5 -1.4l.5 2.2l.5 -3.4l.5 3.2l.5 -2.9l.5 2.1l.5 -2.8l.5 3.6l.5 -1.7l.5 1.4l.5 -1.6l.5 1.3l.5 -1.7l.5 2.6l.5 -2.8l.5 3.9l.5 -4.4l.5 2.2l.5 -2.4l.5 3.1l.5 -1.4l.5 .9l.5 -1.7l.5 3.4l.5 -3.1l.5 .7l.5 -4.2l.5 6l.5 -6.1l.5 6.8l.5 -3.3l.5 3.1l.5 -2.8l.5 1.7l.5 -2.7l.5 1.3l.5 -1.8l.5 4.1l.5 -2.9l.5 1.4l.5 -2l.5 3l.5 -2.3l.5 .3l.5 -.4l.5 3l.5 -3.1l.5 .4l.5 -.1l.5 1.8l.5 -4.9l.5 3.5l.5 -.9l.5 2.6l.5 -3.9l.5 4.1l.5 -2.9l.5 2.4l.5 -2.2l.5 1.3l.5 -2.5l.5 5.8l.5 -4.7l.5 2.4l.5 -4.3l.5 3.5l.5 -1.4l.5 .6l.5 -2l.5 3.6l.5 -3.1l.5 1.9l.5 -1.1l.5 .8l.5 -1.7l.5 1.6l.5 -1.9l.5 2.2l.5 -1.7l.5 1.1l.5 -1.9l.5 1.6l.5 -.9l.5 4.5l.5 -5.2l.5 6.2l.5 -5.7l.5 1.5l.5 -1.2l.5 3l.5 -3.7l.5 4.9l.5 -4.2l.5 .6l.5 -.9l.5 2.9l.5 -4l.5 3.5l.5 -4.4l.5 2.7l.5 -.7l.5 4.2l.5 -4.8l.5 3.8l.5 -3.8l.5 2.2l.5 -3.6l.5 3.6l.5 -2.6l.5 3.4l.5 -2.1l.5 1.7l.5 -3.9l.5 4.9l.5 -3.6l.5 2.2l.5 -2.9l.5 4l.5 -2.9l.5 .7l.5 -2.9l.5 3.1l.5 -1.7l.5 2.2l.5 -6.1l.5 6.3l.5 -3.4l.5 2.2l.5 -.6l.5 1.2l.5 -2.7l.5 3.8l.5 -4.1l.5 2.4l.5 -2.2l.5 2.9l.5 -2.6l.5 2.7l.5 -2.5l.5 2.3l.5 -1.2l.5 .1l.5 -3.1l.5 3l.5 -1.5l.5 2.9l.5 -3.4l.5 4.6l.5 -3.5l.5 1.4l.5 -4.6l.5 4.7l.5 -2.4l.5 1.9l.5 -1.8l.5 2.5l.5 -2l.5 4.1l.5 -4.5l.5 1.8l.5 -.7l.5 .3l.5 -.4l.5 .2l.5 -1.3l.5 3.7l.5 -3.5l.5 3.1l.5 -3.9l.5 2.5l.5 -1.7l.5 2.1l.5 -3.1l.5 2.2l.5 -1.8l.5 1.3l.5 -2.8l.5 6.1l.5 -4.7l.5 2.6l.5 -1.8l.5 2.1l.5 -4.1l.5 4.2l.5 -2.1l.5 .5l.5 -3.6l.5 4.3l.5 -3.8l.5 3.6l.5 -2.2l.5 1.2l.5 -2.6l.5 3l.5 -1.5l.5 2.1l.5 -1.6l.5 1l.5 -2.6l.5 2.5l.5 -1l.5 .6l.5 -.5l.5 3.7l.5 -3.7l.5 .5l.5 -2.2l.5 3.7l.5 -5.1l.5 3.4l.5 -.4l.5 1.6l.5 -4.1l.5 2.9l.5 -1.4l.5 3l.5 -2.7l.5 .6l.5 -.3l.5 1.3l.5 -2.4l.5 3.2l.5 -3.8l.5 2.4l.5 -1.8l.5 1.4l.5 -1l.5 2.6l.5 -4.6l.5 2.8l.5 -1.7l.5 2.1l.5 -.9l.5 .9l.5 -1.5l.5 .7l.5 -.4l.5 .7l.5 -1.5l.5 4l.5 -6.1l.5 3.2l.5 -2l.5 2.2l.5 -2.9l.5 3l.5 -3l.5 2.7l.5 -3l.5 3.8l.5 -3.8l.5 3l.5 -1.6l.5 1.4l.5 -3.1l.5 3.1l.5 -3.4l.5 3.5l.5 -1.3l.5 1.4l.5 -3.2l.5 2.6l.5 -1l.5 .9l.5 -1.5l.5 5.4l.5 -5.9l.5 2.4l.5 -3.1l.5 2.2l.5 -1.7l.5 4.4l.5 -3.6l.5 .7l.5 -.5l.5 2.6l.5 -3l.5 1.4l.5 -2.3l.5 1.8l.5 -1.6l.5 1.1l.5 -1.5l.5 2.4l.5 -3.9l.5 3.1l.5 -1.7l.5 1.2l.5 -.3l.5 1.2l.5 -2.1l.5 2l.5 -3.7l.5 5.7l.5 -3.5l.5 3.6l.5 -5.2l.5 2.5l.5 -1.8l.5 1.2l.5 -.9l.5 1.6l.5 -2.2l.5 2.2l.5 -2.1l.5 3.2l.5 -3l.5 .7l.5 -.4l.5 .3l.5 -1l.5 1.8l.5 -4.6l.5 4.3l.5 -1.7l.5 2l.5 -2.2l.5 1.9l.5 -1.3l.5 1.4l.5 -3.2l.5 1.9l.5 -3.8l.5 6.1l.5 -4.9l.5 3.5l.5 -2.9l.5 5.2l.5 -6.4l.5 2.7l.5 -.6l.5 3.1l.5 -3.7l.5 2.3l.5 -1.9l.5 1.3l.5 -1.5l.5 .6l.5 -.4l.5 3.8l.5 -3.7l.5 .3l.5 -1.3l.5 4.1l.5 -4.3l.5 2.2l.5 -1.5l.5 1.9l.5 -4.4l.5 4.9l.5 -3.8l.5 3.4l.5 -3.9l.5 2.5l.5 -1.4l.5 1.5l.5 -1.3l.5 .4l.5 -1.6l.5 4.5l.5 -3.7l.5 2.5l.5 -3.8l.5 1.6l.5 -.6l.5 2.1l.5 -3l.5 1.4l.5 -.6l.5 2.1l.5 -4.2l.5 2.9l.5 -2l.5 1.7l.5 -2.2l.5 3.7l.5 -3.3l.5 2.2l.5 -1.9l.5 2l.5 -2.1l.5 1.5l.5 -1l.5 .5l.5 -1.3l.5 3.7l.5 -4.5l.5 1.4l.5 -.2l.5 2.6l.5 -4l.5 2l.5 -3l.5 4l.5 -2.5l.5 3.6l.5 -4.5l.5 1.6l.5 -.7l.5 .6l.5 -.8l.5 1.8l.5 -2.5l.5 4l.5 -5.6l.5 3.3l.5 -1l.5 1.2l.5 -3.1l.5 1.8l.5 -1.2l.5 5.4l.5 -6.2l.5 3.3l.5 -3.1l.5 3.3l.5 -2.3l.5 1.5l.5 -4.1l.5 2.7l.5 -1.9l.5 1.9l.5 -2.4l.5 3.5l.5 -2.9l.5 2.6l.5 -3l.5 2.8l.5 -2.8l.5 3.1l.5 -4.5l.5 3.9l.5 -1.6l.5 2.1l.5 -2.9l.5 1.5l.5 -2.6l.5 2.9l.5 -3.1l.5 3.3l.5 -4.3l.5 3.6l.5 -2.1l.5 1.5l.5 -1.7l.5 2.2l.5 -1.8l.5 1.9l.5 -2.6l.5 2.8l.5 -3.4l.5 1.9l.5 -2.7l.5 3l.5 -3.4l.5 4.7l.5 -4.5l.5 2.5l.5 -.7l.5 1.7l.5 -3.5l.5 2.6l.5 -3.1l.5 3.9l.5 -3.2l.5 4.6l.5 -4.1l.5 2l.5 -1.7l.5 .5l.5 -2l.5 5.2l.5 -4.9l.5 4.1l.5 -3.7l.5 4.8l.5 -6.8l.5 5.4l.5 -5.4l.5 2.3l.5 -1.3l.5 3.3l.5 -3.2l.5 2l.5 -2.1l.5 1.7l.5 -1.8l.5 1.8l.5 -4l.5 2.7l.5 -.3l.5 1.8l.5 -4l.5 3.7l.5 -3.2l.5 1.6l.5 -1.9l.5 1.9l.5 -1.4l.5 2.7l.5 -2.8l.5 2.9l.5 -5.6l.5 3.4l.5 -1.1l.5 3.7l.5 -4l.5 1.5l.5 -1.3l.5 .7l.5 -1.2l.5 1.2l.5 -3l.5 4.2l.5 -5.8l.5 5.6l.5 -2.4l.5 1.4l.5 -2l.5 2.9l.5 -5.4l.5 4.7l.5 -3.1l.5 1.9l.5 -3.8l.5 3.1l.5 -1.5l.5 3l.5 -4.5l.5 3.9l.5 -2.1l.5 .5l.5 -2.6l.5 3l.5 -1.4l.5 .2l.5 -.5l.5 2.4l.5 -2.6l.5 2.5l.5 -4.2l.5 1.7l.5 -2.3l.5 3l.5 -2.1l.5 .8l.5 -1.6l.5 2.6l.5 -2.1l.5 1.8l.5 -2.1l.5 1l.5 -1.2l.5 2.5l.5 -3.7l.5 2.2l.5 -1.4l.5 2.9l.5 -5.9l.5 7.7l.5 -6.7l.5 3.2l.5 -2.6l.5 3.2l.5 -2.8l.5 .4l.5 -1.2l.5 1.6l.5 -3.3l.5 2.3l.5 -1.2l.5 4.2l.5 -6l.5 2.6l.5 -3.9l.5 3l.5 -2.3l.5 2.3l.5 -2.5l.5 5.1l.5 -4.2l.5 .9l.5 -1.9l.5 4.8l.5 -4l.5 .5l.5 -3.9l.5 4.2l.5 -2.2l.5 3.1l.5 -3.9l.5 1.8l.5 -.9l.5 .5l.5 -3.6l.5 3.4l.5 -1.6l.5 2.5l.5 -2.9l.5 1.6l.5 -3.7l.5 2.7l.5 -2l.5 3.1l.5 -3.3l.5 4.6l.5 -3.8l.5 1.4l.5 -2.2l.5 .4l.5 -.4l.5 2.4l.5 -3l.5 .3l.5 -1.5l.5 3.5l.5 -4.8l.5 3.3l.5 -3.3l.5 2.1l.5 -1.3l.5 .8l.5 -1.5l.5 1.4l.5 -3.2l.5 2.7l.5 -1.4l.5 .2l.5 -.9l.5 .4l.5 -1l.5 1.9l.5 -1.8l.5 .8l.5 -3.3l.5 4.1l.5 -3l.5 1.2l.5 -1.7l.5 1l.5 -1.9l.5 1l.5 -2.4l.5 1.9l.5 -.8l.5 2.3l.5 -2.8l.5 .9l.5 -1.4l.5 1.2l.5 -1.8l.5 2l.5 -2.5l.5 2.5l.5 -3.9l.5 3.3l.5 -2.7l.5 2l.5 -2.8l.5 .2l.5 -2l.5 2.6l.5 -1.9l.5 .9l.5 -1.6l.5 .9l.5 -1.3l.5 .2l.5 -.4l.5 .8l.5 -4.4l.5 3.4l.5 -3.8l.5 4l.5 -4.9l.5 3.5l.5 -2.3l.5 2.5l.5 -2.7l.5 1.1l.5 -1l.5 1l.5 -2.5l.5 1.6l.5 -1.4l.5 .3l.5 -2.2l.5 1.5l.5 -2.4l.5 3.4l.5 -3.2l.5 3.9l.5 -5.2l.5 1.5l.5 -1.4l.5 3.7l.5 -4.8l.5 2.6l.5 -2l.5 .2l.5 -1.1l.5 .3l.5 -2.1l.5 1.6l.5 -.9l.5 .2l.5 -2l.5 2.3l.5 -3.8l.5 4.2l.5 -3.1l.5 -.2l.5 -1.8l.5 1.4l.5 -1.6l.5 1l.5 -3l.5 3.1l.5 -1.8l.5 2.2l.5 -3.8l.5 1.9l.5 -2.1l.5 1.4l.5 -4.5l.5 3.1l.5 -2.8l.5 2.5l.5 -2.1l.5 1.5l.5 -3.2l.5 .9l.5 -2.8l.5 3.7l.5 -2.4l.5 .5l.5 -3l.5 3l.5 -4.3l.5 2.3l.5 -1.5l.5 .8l.5 -1.7l.5 2.6l.5 -4l.5 .8l.5 -.5l.5 -.1l.5 -1.3l.5 .4l.5 -1.1l.5 .6l.5 -2.3l.5 1.2l.5 -1.1l.5 -.3l.5 -1.2l.5 .4l.5 -.9l.5 0l.5 -1.3l.5 1.4l.5 -3.1l.5 2.5l.5 -3l.5 1l.5 -2l.5 1.4l.5 -3.9l.5 2.3l.5 -1.5l.5 .3l.5 -1.4l.5 .4l.5 -1.2l.5 .8l.5 -2.6l.5 1l.5 -2l.5 1l.5 -3.2l.5 3.5l.5 -2.8l.5 .1l.5 -1.5l.5 .6l.5 -2.3l.5 1.3l.5 -3.5l.5 2l.5 -1.1l.5 -.3l.5 -1.3l.5 1.1l.5 -1.8l.5 -.2l.5 -1.3l.5 1l.5 -1.8l.5 .3l.5 -2.7l.5 1.2l.5 -1.5l.5 1.5l.5 -3.4l.5 .4l.5 -1.2l.5 .4l.5 -1.5l.5 .3l.5 -1.7l.5 .3l.5 -1.4l.5 -.3l.5 -1.5l.5 1.2l.5 -2.3l.5 .2l.5 -2.2l.5 1.8l.5 -2.1l.5 .1l1 -3.6l1 .8l1 -2.6l1 -.3l1 -2.1l1 -.8l1 -1.8l1 .3l1 -3.5l1 -.6l1 -3.1l1 1.4l1 -4.3l1 -.4l1 -1.7l1 -1.1l1 -2l1 -.4l1 -3.1l1 -.5l1 -2.6l1 -.3l1 -3.8l1 .1l1 -2.5l1 -.8l1 -2.2l1 -1.5l1 -2.3l1 -.8l1 -2.3l1 -1.4l1 -2.2M1168 546.6l1 -1.4l1 -2.5l1 -.7l1 -2.6l1 -1.4l1 -2.1l1 -1.6l1 -2.8l1 -.7l1 -3l1 -.7l1 -2.3l1 -1.3l1 -2.6l1 -.7l1 -2.3l1 -1.5l1 -2.8l1 -1.1l1 -2.3l1 -1.1l1 -3l1 -.9l1 -2.4l1 -.8l1 -4.4l1 .3l1 -3.3l1 -1l1 -3.4l1 -.3l1 -2.4l1 -.6l1 -3.4l1 -.9l1 -3.2l1 -1.4l1 -3.8l1 .7l1 -3l1 -.9l1 -3.5l1 -1.3l1 -2.6l1 -1.4l1 -2.7l1 -1l1 -3.1l1 -.6l1 -2.8l1 -1.3l1 -3.2l1 -1.2l1 -2.7l1 -1.4l1 -2.9l1 -1.4l1 -2.6l1 -1.5l1 -2.5l1 -1.5l1 -2.7l1 -1.5l1 -3.1l1 -1l1 -3l1 -.6l1 -3l1 -1.2l1 -3.1l1 -1.5l1 -2.8l1 -1.7l1 -2.4l1 -1.8l1 -2.9l1 -1.3l1 -3.7l1 -.7l1 -3.1l1 -1.3l1 -3.1l1 -.4l1 -4l1 0l1 -3.9l1 -1l1 -2.9l1 -1.3l1 -2.7l1 -1.5l1 -3.3l1 -1.4l1 -2.6l1 -1.8l1 -3.5l1 -.6l1 -3l1 -.9l1 -3.3l1 -1.5l1 -3.5l1 -.2l1 -3.1l1 -2l1 -2.3l1 -1.9l1 -2.5l1 -1l1 -3.4l1 -1l1 -3l1 -1.4l1 -3.5l1 -.5l1 -3.2l1 -1.3l1 -3.2l1 -.6l1 -3l1 -1.9l1 -2.1l1 -1.5l1 -2.9l1 -1.3l1 -2.5l1 -.5l1 -3.4l1 -.8l1 -3.5l1 -1.3l1 -2.5l1 -1.6l1 -2l1 -1.8l1 -2.2l1 -1.6l1 -2.3l1 -1.1l1 -3.3l1 -.8l1 -1.9l1 -1.4l1 -2.5l1 -1.3l1 -2.4l1 -.8l1 -2.8l1 -.5l1 -2.6l1 -1.7l1 -2l1 -.9l1 -2.9l1 -1l1 -2.2l1 -.5l1 -2.4l1 -1l1 -2.2l1 -.9l1 -2.9l1 -.6l1 -2l1 -1l1 -2.3l1 -.8l1 -2.2l1 -.9l1 -2.7l1 -.6l1 -2.5l1 -.5l1 -1.8l1 -1.1l1 -2.1l1 -.4l1 -2.5l1 .1l1 -2.4l1 -1l1 -2l1 -.8l1 -1.7l1 -1.2l1 -2.1l1 -.4l1 -1.6l1 -.9l1 -1.9l1 -.1l1 -2.5l1 -.3l1 -2.1l1 -.1l1 -2.6l1 .3l1 -3.3l1 1.4l1 -3l1 -1l1 -1.6l1 -.3l1 -1.7l1 -.7l1 -1.7l1 -.8l1 -1.2l1 -1l1 -1.6l1 -.5l1 -1.5l1 -.2l1 -2.1l1 -.5l1 -1.3l1 .2l1 -2.3l1 -.3l1 -2l1 .2l1 -2.2l1 .1l1 -1.7l1 -.8l1 -1.9l1 .2l1 -1.2l1 -.8l1 -1.4l1 -.4l1 -2l1 .3l1 -1.1l1 -.7l1 -1.6l1 .5l1 -2.2l1 .9l1 -2.2l1 -.4l1 -2.5l1 1.1l1 -1.5l1 0l1 -1.3l1 -.3l1 -1.4l1 -.2l1 -1.7l1 .2l1 -1.2l1 -.1l1 -2.4l1 .8l1 -1.1l1 .7l1 -2.4l1 .3l1 -1.7l1 .7l1 -2.2l1 .7l1 -1.3l1 .4l1 -2.1l1 -.1l1 -1.3l1 1.1l1 -1.8l1 -.2l1 -1.9l1 1l1 -1.9l1 .3l1 -1.4l1 .7l1 -2l1 .5l1 -.6l1 .2l1 -1.5l1 -.2l1 -1.1l1 .3l1 -1.7l1 1.1l1 -2.3l1 .6l1 -1.1l1 .6l1 -1.5l1 1.2l1 -2.9l1 1.6l1 -1.2l1 .1l1 -1.4l1 .4l1 -1.1l1 .1l1 -.9l1 .3l1 -1.1l1 .6l1 -1.4l1 1.5l1 -2.9l1 .7l1 -1.1l1 .7l1 -1.3l1 .4l1 -1l1 -.1l1 -1.1l1 .6l1 -1.2l1 .5l1 -1l1 .5l1 -1.1l1 0l1 -.5l1 .3l1 -1.1l1 .5l1 -1.1l1 .2l1 -1.3l1 .6l1 -1.1l1 .4l1 -2.2l1 3.3l1 -2.9l1 .5l1 -.4l1 -.2l1 -.6l1 1.4l1 -1.9l1 0l1 -.9l1 .5l1 -.6l1 0l1 -1.2l1 1.2l1 -1.5l1 1.7l1 -2.3l1 .9l1 -.9l1 .2l1 -1.2l1 1.1l1 -2.1l1 1.1l1 -.8l1 .6l1 -1.8l1 1.5l1 -.8l1 0l1 -.9l1 .4l1 -.3l1 .9l1 -1.4l1 .7l1 -1.1l1 0l1 -.7l1 1.3l1 -1.3l1 .8l1 -1.8l1 .6l1 -.9l1 1.6l1 -2l1 .6l1 -.4l1 0l1 -.8l1 1.4l1 -1.9l1 .6l1 -1l1 1.7l1 -1.9l1 1.7l1 -1.6l1 .9l1 -1.8l1 1.4l1 -1.7l1 1l1 -1.2l1 .7l1 -.4l1 .4l1 -1.1l1 .6l1 -.4l1 .7l1 -1.1l1 .7l1 -1.1l1 1l1 -1.1l1 .6l1 -1l1 1.1l1 -1.6l1 .8l1 -.5l1 .6l1 -.7l1 .5l1 -1.4l1 1.3l1 -1.1l1 1l1 -1.7l1 1.9l1 -2.2l1 1.2l1 -.9l1 1.5l1 -1.9l1 .8l1 -1l1 .6l1 -.5l1 .4l1 -.3l1 .5l1 -1.4l1 1l1 -1.3l1 1.3l1 -1l1 1.2l1 -1.8l1 1.7l1 -1.4l1 1l1 -.8l1 .7l1 -.7l1 .2l1 -1.5l1 1.4l1 -1l1 .8l1 -1.3l1 1.2l1 -.8l1 1.7l1 -1.7l1 .6l1 -.7l1 .3l1 -.3l1 1l1 -.9l1 .1l1 -.8l1 1l1 -1.2l1 1l1 -1l1 .7l1 -.5l1 .9l1 -.7l1 .7l1 -2.4l1 2.6l1 -2.2l1 1.2l1 -.7l1 .7l1 -.2l1 .7l1 -.9l1 .4l1 -.6l1 1.3l1 -1.1l1 .2l1 -.3l1 .5l1 -1.4l1 1l1 -.3l1 .3l1 -1.4l1 1.4l1 -.4l1 .4l1 -1l1 .9l1 -1.3l1 1.2l1 -.6l1 1l1 -.8l1 .7l1 -.6l1 .5l1 -.9l1 .6l1 -1.3l1 1.3l1 -.6l1 .8l1 -.7l1 .9l1 -1.3l1 .5l1 -.5l1 .6l1 -.7l1 .6l1 -.5l1 1.2l1 -1.1l1 1l1 -.8l1 .1l1 -.5l1 .9l1 -1.1l1 .8l1 -.8l1 1.6l1 -1.5l1 .7l1 -.7l1 .6l1 -.6l1 .9l1 -1.3l1 1.4l1 -1.4l1 1.4l1 -.9l1 .7l1 -1l1 1.3l1 -1.7l1 1.5l1 -.8l1 .4l1 -.6l1 .5l1 -.4l1 .3l1 -.6l1 1l1 -2l1 1.5l1 -.8l1 .7l1 -.8l1 .8l1 -1.1l1 2l1 -1.1l1 .4l1 -.8l1 .9l1 -.5l1 .1l1 -.1l1 .9l1 -1.9l1 1.4l1 -.6l1 .2l1 -.4l1 1l1 -1.3l1 1.1l1 -1.3l1 1.5l1 -1l1 .8l1 -1.3l1 1.1l1 -.9l1 1.5l1 -1.2l1 .5l1 -.3l1 .6l1 -1.8l1 1.7l1 -.8l1 .7l1 -.7l1 1.8l1 -1.9l1 .4l1 0l1 .7l1 -1.3l1 .8l1 -.7l1 .6l1 -.3l1 .7l1 -1.5l1 1l1 -.2l1 1.2l1 -1.4l1 .7l1 -.9l1 .7l1 -.6l1 1l1 -1.1l1 1.2l1 -1.5l1 2.3l1 -2.1l1 1.1l1 -.8l1 .5l1 -1.4l1 1.3l1 -.6l1 1l1 -1.4l1 1.2l1 -.7l1 .4l1 -.3l1 1.2l1 -1.9l1 1.5l1 -1.5l1 .8l1 -.6l1 .6l1 -.5l1 1.5l1 -2.1l1 1.1l1 -.4l1 1.3l1 -1.2l1 .3l1 -.4l1 .8l1 -1l1 .7l1 -.7l1 1.6l1 -1.4l1 .6l1 -.7l1 .8l1 -.7l1 .9l1 -1.4l1 1.3l1 -1.1l1 1.2l1 -2.1l1 1.6l1 -.5l1 .6l1 -.6l1 .5l1 -.5l1 .6l1 -.3l1 .5l1 -.6l1 .9l1 -1.2l1 .8l1 -.8l1 .7l1 -.7l1 1.2l1 -1.3l1 .5l1 -.3l1 1l1 -1.1l1 .4l1 -1.3l1 2.1l1 -1.4l1 .9l1 -.9l1 1.8l1 -1.8l1 .7l1 -.6l1 .5l1 -.8l1 .9l1 -.3l1 .2l1 -.8l1 .7l1 -.3l1 .3l1 -1.6l1 1.6l1 -.4l1 .7l1 -.4l1 .4l1 -.9l1 1.3l1 -1.3l1 1.1l1 -.8l1 .3l1 -.8l1 1l1 -1l1 1.2l1 -.7l1 .3l1 -.7l1 .7l1 -1l1 1.4l1 -.9l1 .8l1 -.5l1 .3l1 -.5l1 1.7l1 -1.7l1 1l1 -.9l1 .9l1 -1.4l1 .7l1 -.2l1 .4l1 -.9l1 1l1 -.6l1 .8l1 -1l1 .8l1 -.7l1 .6l1 -.4l1 .9l1 -1.5l1 1.2l1 -.4l1 .2l1 -.4l1 .4l1 -.6l1 .5l1 -.5l1 .7l1 -1l1 .8l1 -.7l1 .7l1 -.1l1 .2l1 -.5l1 1.2l1 -1.9l1 1.4l1 -1.3l1 1.1l1 -.4l1 .5l1 -1.2l1 1.7l1 -1.8l1 1l1 -.4l1 1.5l1 -1.4l1 .8l1 -.8l1 .5l1 -1.2l1 1.9l1 -1.1l1 1.2l1 -1.3l1 .7l1 -.7l1 .7l1 -.9l1 1.4l1 -1l1 .2l1 -.4l1 .6l1 -.9l1 2.7l1 -2.3l1 1.2l1 -1.1l1 .9l1 -1.8l1 1.2l1 -.7l1 .6l1 -.8l1 2.1l1 -2.7l1 2.4l1 -1.4l1 1l1 -.9l1 .3l1 -.8l1 1l1 -1.1l1 1.5l1 -1l1 1.4l1 -1.7l1 2l1 -1.5l1 .8l1 -1l1 .4l1 -.7l1 1.1l1 -1.6l1 1.5l1 -1.2l1 1.2l1 -1.2l1 1.4l1 -1.5l1 1.6l1 -.8l1 .6l1 -1.1l1 1.4l1 -.8l1 .5l1 -1.8l1 2l1 -1.3l1 .7l1 -1l1 1.6l1 -1.2l1 .9l1 -1.1l1 1.7l1 -1l1 .6l1 -.7l1 1.4l1 -1.7l1 1l1 -1.1l1 .6l1 -.9l1 1.6l1 -1.6l1 2.2l1 -1.7l1 .5l1 -.5l1 1.9l1 -2l1 1.7l1 -2.5l1 1.3l1 -.9l1 1.1l1 -.5l1 .5l1 -.5l1 1.3l1 -2.3l1 1.9l1 -1l1 1.6l1 -2.3l1 1.3l1 -1.4l1 1.6l1 -1.1l1 .8l1 -.2l1 .8l1 -1.4l1 1l1 -1.5l1 2.2l1 -1.7l1 .8l1 -.8l1 1.5l1 -1.3l1 1.1l1 -.9l1 .3l1 -.1l1 .4l1 -.6l1 .3l1 -.4l1 .6l1 -.4l1 .4l1 -.8l1 .7l1 -.1l1 .3l1 -.4l1 .7l1 -1.1l1 .9l1 -.6l1 1.5l1 -1.6l1 .6l1 -.9l1 .9l1 -.6l1 1.1l1 -1.2l1 1.2l1 -1l1 1.3l1 -1.4l1 .6l1 -.8l1 .6l1 -.3l1 .2l1 -.4l1 .5l1 -.8l1 .8l1 -.6l1 1l1 -.9l1 .6l1 -1.4l1 1.8l1 -1.7l1 1.1l1 -.8l1 1.8l1 -1.3l1 1.5l1 -2l1 1.1l1 -1l1 .9l1 -.5l1 .7l1 -.5l1 1l1 -1.3l1 .7l1 -.7l1 .8l1 -.6l1 .2l1 -.3l1 .3l1 -1l1 1.9l1 -1.1l1 1.1l1 -1.1l1 .3l1 -.2l1 .2l1 -.5l1 .6l1 -1.4l1 1.7l1 -.8l1 .6l1 -.8l1 1.3l1 -1.4l1 1.1l1 -.6l1 .1l1 -.5l1 .6l1 -.6l1 1l1 -.8l1 1.8l1 -1.7l1 .8l1 -.7l1 .5l1 -1.3l1 1.2l1 -1.1l1 .8l1 -.2l1 .6l1 -.6l1 1.2l1 -2.4l1 1.6l1 -1.2l1 1.4l1 -1l1 .7l1 -.9l1 1.4l1 -.7l1 1.1l1 -1.4l1 1.8l1 -1.5l1 .1l1 -.6l1 .8l1 -.6l1 1.4l1 -1.9l1 .8l1 -1.6l1 1.6l1 -.3l1 1.2l1 -1.5l1 1.2l1 -1l1 1l1 -1.1l1 1l1 -1l1 .9l1 -1.2l1 1.7l1 -.9l1 0l1 -1.1l1 1.4l1 -.8l1 .6l1 -1l1 1.5l1 -.9l1 .4l1 -.5l1 .5l1 -.5l1 .5l1 -.3l1 1.1l1 -1.2l1 1.2l1 -1.4l1 .7l1 -.3l1 .4l1 -.9l1 1.2l1 -1l1 .7l1 -.4l1 .2l1 -.8l1 .7l1 -.2l1 .6l1 -1.5l1 1.4l1 -1l1 1l1 -.8l1 .6l1 -.9l1 1.3l1 -.8l1 .4l1 -.9l1 1l1 -.8l1 .8l1 -1l1 .8l1 -.9l1 1.4l1 -1.1l1 1.7l1 -2.2l1 1.2l1 -.5l1 .4l1 -.3l1 .5l1 -.5l1 .1l1 -.9l1 1.2l1 -.4l1 .4l1 -1l1 .6l1 -.4l1 .7l1 -.9l1 .6l1 -.4l1 .5" stroke="#400000" stroke-width="6.5"/>
<path d="M291 742.5l.5 -7.3l.5 4.7l.5 -1.6l.5 1.6l.5 -1l.5 3.5l.5 -3.6l.5 1.8l.5 -6.8l.5 5.7l.5 -.9l.5 1l.5 -1.5l.5 2.7l.5 -2.3l.5 1.4l.5 -1.2l.5 1.9l.5 -1.8l.5 .3l.5 -2.5l.5 3.3l.5 -1.7l.5 1.1l.5 -1.1l.5 3.9l.5 -3.5l.5 .8l.5 -2l.5 3l.5 -1.9l.5 1.9l.5 -2.4l.5 1.1l.5 -1.2l.5 5.6l.5 -6.2l.5 3.1l.5 -4.2l.5 3.1l.5 -1.5l.5 1.8l.5 -2.5l.5 1.8l.5 -.1l.5 2.3l.5 -3.5l.5 1.5l.5 -2.1l.5 2.1l.5 -1.8l.5 2.4l.5 -1.8l.5 1.2l.5 -1.6l.5 1.6l.5 -4.3l.5 5.1l.5 -1.9l.5 3.4l.5 -2.8l.5 1.7l.5 -2.8l.5 4.5l.5 -4.8l.5 2.6l.5 -3l.5 5.3l.5 -4.2l.5 1.3l.5 -1.5l.5 3.5l.5 -4.5l.5 2.5l.5 -2.2l.5 3.9l.5 -2.3l.5 .6l.5 -3.3l.5 5.4l.5 -3.9l.5 2.4l.5 -3l.5 2.3l.5 -1.5l.5 2.3l.5 -2.6l.5 3.5l.5 -4.6l.5 3.3l.5 -1.5l.5 .9l.5 -1.3l.5 2.9l.5 -4.7l.5 2.7l.5 -1.9l.5 3.1l.5 -1.5l.5 .8l.5 -1l.5 .9l.5 -1.7l.5 2.5l.5 -1.4l.5 .3l.5 -1l.5 1.2l.5 -4.4l.5 6.4l.5 -4.8l.5 5.7l.5 -3.8l.5 1.5l.5 -1.8l.5 4.5l.5 -5.6l.5 3.6l.5 -3.8l.5 3.7l.5 -2.9l.5 1.4l.5 -1.1l.5 4.2l.5 -3.5l.5 1.5l.5 -1.5l.5 3.1l.5 -4l.5 3.3l.5 -3.9l.5 2l.5 -1.6l.5 3.7l.5 -3.4l.5 1.5l.5 -1.2l.5 1.5l.5 -1.9l.5 2.6l.5 -2.3l.5 4.7l.5 -4.3l.5 1.3l.5 -2.8l.5 4l.5 -3l.5 2.2l.5 -1.3l.5 .5l.5 -.7l.5 .4l.5 -2.7l.5 3.2l.5 -.9l.5 1.4l.5 -2l.5 2l.5 -1.8l.5 1.9l.5 -2l.5 .9l.5 -1.6l.5 2.4l.5 -3.8l.5 6.1l.5 -4.8l.5 2.2l.5 -1l.5 1.5l.5 -3l.5 3.4l.5 -2l.5 2.9l.5 -3.1l.5 .7l.5 -1.5l.5 2.2l.5 -4.4l.5 5.1l.5 -5.1l.5 3.5l.5 -.6l.5 .8l.5 -1.4l.5 2.1l.5 -1.6l.5 .7l.5 -2.6l.5 3.6l.5 -2.7l.5 2.7l.5 -2.6l.5 2.7l.5 -3.1l.5 2.2l.5 -1.9l.5 1.9l.5 -1.3l.5 3.6l.5 -3l.5 .7l.5 -.7l.5 3l.5 -3.8l.5 4l.5 -3.8l.5 1l.5 -1.8l.5 1.9l.5 -1.4l.5 1.9l.5 -1.5l.5 1.2l.5 -.4l.5 .3l.5 -.5l.5 1.6l.5 -1.6l.5 3.7l.5 -3.7l.5 2.2l.5 -3.7l.5 3.8l.5 -5.1l.5 3.3l.5 -.4l.5 1.9l.5 -2.6l.5 1.6l.5 -3.6l.5 3.3l.5 -.7l.5 .4l.5 -2.1l.5 3l.5 -2.2l.5 3l.5 -2.9l.5 1.2l.5 -1l.5 3.7l.5 -3.2l.5 2l.5 -2.9l.5 1.4l.5 -3.8l.5 3.9l.5 -.4l.5 1l.5 -.9l.5 3.7l.5 -4.5l.5 2l.5 -1.4l.5 1.2l.5 -2.8l.5 4.7l.5 -3l.5 .2l.5 -1.5l.5 2.6l.5 -2.1l.5 2.5l.5 -2.8l.5 3.2l.5 -3.1l.5 1.2l.5 -1.4l.5 2.3l.5 -1.1l.5 1.3l.5 -3.2l.5 2.4l.5 -.9l.5 1.7l.5 -4.2l.5 3.4l.5 -.5l.5 .4l.5 -2.2l.5 4.9l.5 -3.5l.5 2.5l.5 -3.3l.5 3.7l.5 -3.2l.5 1.7l.5 -1.2l.5 2.8l.5 -3.4l.5 3.9l.5 -4.4l.5 4.4l.5 -3.1l.5 1.7l.5 -1.6l.5 3.6l.5 -4.5l.5 1.3l.5 -2.2l.5 4l.5 -2.7l.5 1.6l.5 -3.8l.5 3.8l.5 -2.4l.5 2.1l.5 -2.2l.5 3.9l.5 -2.5l.5 1.9l.5 -3.9l.5 2.1l.5 -1.5l.5 1.9l.5 -1.3l.5 1.6l.5 -1.2l.5 1.2l.5 -1.3l.5 2.6l.5 -4.6l.5 3.3l.5 -2.5l.5 3.3l.5 -2.6l.5 1.2l.5 -4.8l.5 6.2l.5 -2.5l.5 2.2l.5 -1.8l.5 1.7l.5 -2.9l.5 3l.5 -6.1l.5 6.1l.5 -2.2l.5 3.4l.5 -3.5l.5 3l.5 -4.4l.5 4.2l.5 -2l.5 2.6l.5 -2.5l.5 .3l.5 -.3l.5 1.5l.5 -2.6l.5 2.3l.5 -1.9l.5 4.6l.5 -4.2l.5 2l.5 -2.7l.5 1.8l.5 -1.1l.5 .7l.5 -2.1l.5 3l.5 -1.2l.5 4.2l.5 -5.5l.5 3.9l.5 -3.6l.5 2.2l.5 -3l.5 2.8l.5 -1.2l.5 2.2l.5 -2.9l.5 1.4l.5 -1.6l.5 2.3l.5 -3.9l.5 3.5l.5 -.9l.5 1.1l.5 -1.3l.5 1.8l.5 -1.8l.5 2.2l.5 -2.7l.5 3.1l.5 -3.5l.5 1.4l.5 -3.1l.5 3.5l.5 -1.7l.5 1.5l.5 -1.1l.5 1.6l.5 -1.4l.5 2.2l.5 -3.7l.5 2.4l.5 -1l.5 2.9l.5 -2.4l.5 2.6l.5 -3.1l.5 1.9l.5 -3.4l.5 4.6l.5 -3.9l.5 2.8l.5 -3.1l.5 2.7l.5 -2.1l.5 2.5l.5 -3.6l.5 2.8l.5 -3.7l.5 6.6l.5 -4.4l.5 2.7l.5 -2.2l.5 1.3l.5 -1.9l.5 2.1l.5 -1.8l.5 1.1l.5 -1.8l.5 3.7l.5 -2.2l.5 .2l.5 -.4l.5 2l.5 -3.4l.5 3.8l.5 -2.3l.5 2l.5 -2.7l.5 1.1l.5 -.9l.5 2.4l.5 -2.9l.5 4.1l.5 -3.7l.5 3.4l.5 -4.6l.5 3.1l.5 -1.7l.5 1.9l.5 -2l.5 1.5l.5 -.8l.5 .1l.5 -1.7l.5 2.8l.5 -1.9l.5 1.6l.5 -2.7l.5 3.5l.5 -3.7l.5 2.1l.5 -.3l.5 1.6l.5 -2l.5 2l.5 -2.5l.5 2.3l.5 -1.2l.5 .3l.5 -3l.5 6.9l.5 -4.3l.5 .2l.5 -3.7l.5 4l.5 -.3l.5 1.7l.5 -3l.5 3.8l.5 -2.8l.5 .5l.5 -2.2l.5 3.4l.5 -3.1l.5 3.9l.5 -4.4l.5 3.2l.5 -1l.5 2l.5 -2.4l.5 .6l.5 -.4l.5 1.6l.5 -2l.5 3.5l.5 -5.1l.5 3.3l.5 -2.8l.5 3.9l.5 -3.3l.5 3.1l.5 -3.3l.5 1.5l.5 -2.7l.5 2.7l.5 -1l.5 1.4l.5 -3.2l.5 3l.5 -.8l.5 1l.5 -1.2l.5 .9l.5 -.2l.5 .4l.5 -3.5l.5 3.7l.5 -.7l.5 .4l.5 -1.4l.5 3l.5 -3l.5 1.2l.5 -1l.5 1l.5 -.9l.5 2.2l.5 -2.2l.5 3.1l.5 -2.8l.5 .8l.5 -1l.5 2.2l.5 -2l.5 .9l.5 -.9l.5 .6l.5 -2l.5 3.7l.5 -4.5l.5 3.2l.5 -1.1l.5 1.1l.5 -1.7l.5 3.6l.5 -4.9l.5 3.3l.5 -2.8l.5 2.2l.5 -.8l.5 .9l.5 -1.7l.5 2.8l.5 -1.9l.5 1.3l.5 -3.5l.5 4.8l.5 -3l.5 1l.5 -1.9l.5 3.4l.5 -1.7l.5 2.9l.5 -4.3l.5 5.1l.5 -8.9l.5 7l.5 -3.3l.5 2.4l.5 -1.1l.5 1.4l.5 -2.4l.5 1.7l.5 -1.6l.5 2l.5 -1.3l.5 1.6l.5 -1.8l.5 1.5l.5 -2.8l.5 6.2l.5 -5.3l.5 4.7l.5 -4.2l.5 1.3l.5 -2.3l.5 3.4l.5 -2.9l.5 2.5l.5 -3.3l.5 3.8l.5 -3.5l.5 2.1l.5 -1.6l.5 2.3l.5 -2.3l.5 2.5l.5 -2.9l.5 2.1l.5 -.5l.5 .5l.5 -2.4l.5 2.4l.5 -1.6l.5 2.3l.5 -1.7l.5 1.7l.5 -2.5l.5 3.2l.5 -2.3l.5 .8l.5 -2.5l.5 2.5l.5 -1.5l.5 4l.5 -4.8l.5 4.6l.5 -3.2l.5 1.3l.5 -4.6l.5 5.8l.5 -3.4l.5 1.5l.5 -.3l.5 .5l.5 -4l.5 5l.5 -2.3l.5 1.3l.5 -.5l.5 1.7l.5 -1.9l.5 1.7l.5 -2.1l.5 3.1l.5 -2.7l.5 2.7l.5 -2.7l.5 1.3l.5 -3.3l.5 3.8l.5 -3l.5 2.5l.5 -1.6l.5 2.7l.5 -3.3l.5 3.1l.5 -2l.5 .3l.5 -.7l.5 1.4l.5 -3l.5 4.1l.5 -2.1l.5 1.6l.5 -2.4l.5 1.2l.5 -.3l.5 .5l.5 -3l.5 4.3l.5 -3.6l.5 2l.5 -.8l.5 3.1l.5 -2.9l.5 3.9l.5 -4.3l.5 2.2l.5 -3.8l.5 4.1l.5 -2.9l.5 2.2l.5 -2.1l.5 2.6l.5 -1.5l.5 1.6l.5 -5.5l.5 5.6l.5 -5.2l.5 4l.5 -.8l.5 2.6l.5 -4.9l.5 3.7l.5 -1l.5 2.4l.5 -2.6l.5 1.7l.5 -1.6l.5 1.1l.5 -3.2l.5 2.9l.5 -1.9l.5 2.2l.5 -1.3l.5 2.4l.5 -4.8l.5 2.9l.5 -.4l.5 1.5l.5 -4.7l.5 3.6l.5 -.3l.5 .8l.5 -2.8l.5 2.9l.5 -3.7l.5 3.5l.5 -.9l.5 .6l.5 -2.3l.5 4.7l.5 -3.5l.5 1.4l.5 -.6l.5 2.8l.5 -5.6l.5 7.5l.5 -5.2l.5 3.9l.5 -3.6l.5 .6l.5 -2.2l.5 4l.5 -4.2l.5 2.5l.5 -.7l.5 1.9l.5 -3.1l.5 3.7l.5 -3.3l.5 1.1l.5 -.7l.5 1.4l.5 -2.2l.5 1.9l.5 -1.3l.5 1.7l.5 -1.4l.5 1.8l.5 -1.6l.5 1l.5 -.8l.5 1.5l.5 -2.7l.5 3l.5 -1.7l.5 2.4l.5 -4.1l.5 1.8l.5 -2.6l.5 3.3l.5 -3.2l.5 3l.5 -1.4l.5 1l.5 -2.7l.5 3l.5 -1.5l.5 1.1l.5 -.5l.5 1.7l.5 -4.2l.5 3l.5 -2.7l.5 3.4l.5 -1.7l.5 3.5l.5 -3.3l.5 1.7l.5 -3l.5 3.5l.5 -1.9l.5 3.6l.5 -3.6l.5 2l.5 -2.6l.5 1.3l.5 -3.1l.5 3l.5 -1.4l.5 1.7l.5 -1.5l.5 3l.5 -4.8l.5 4.8l.5 -3.8l.5 4.2l.5 -2.8l.5 .4l.5 -.9l.5 1.2l.5 -1.2l.5 1.1l.5 -.5l.5 .3l.5 -3l.5 7.7l.5 -6.1l.5 3.9l.5 -3l.5 1.5l.5 -1.5l.5 1l.5 -.7l.5 2l.5 -3.1l.5 2.7l.5 -2.7l.5 1.6l.5 -2.8l.5 3.5l.5 -2.6l.5 2.9l.5 -2.7l.5 2.9l.5 -2.4l.5 2.2l.5 -1.5l.5 1.9l.5 -3.6l.5 4.7l.5 -3.3l.5 2.9l.5 -3.5l.5 4.4l.5 -3.7l.5 2.7l.5 -4.9l.5 2.6l.5 -1.9l.5 2.7l.5 -3.6l.5 2.8l.5 -1.9l.5 4l.5 -3.4l.5 3.7l.5 -5.1l.5 3.4l.5 -4l.5 3.2l.5 -.2l.5 1.3l.5 -2.1l.5 1.6l.5 -3.1l.5 4.7l.5 -2.4l.5 1.4l.5 -2.6l.5 1.9l.5 -2.2l.5 2.7l.5 -3.2l.5 3.5l.5 -1.5l.5 .9l.5 -3.2l.5 3.1l.5 -1.1l.5 .6l.5 -1.7l.5 1.5l.5 -.6l.5 2.7l.5 -3.2l.5 3l.5 -5.6l.5 3.7l.5 -2.1l.5 2.2l.5 -1.7l.5 2.1l.5 -2.9l.5 3.4l.5 -1.4l.5 1.2l.5 -3.3l.5 2.5l.5 -1.3l.5 2.3l.5 -2.2l.5 1.9l.5 -1.9l.5 2.9l.5 -2.1l.5 1.3l.5 -2.9l.5 3.3l.5 -4l.5 5.3l.5 -4.3l.5 2.4l.5 -2.9l.5 2.1l.5 -1.5l.5 2.4l.5 -2.8l.5 1.7l.5 -2.7l.5 2.9l.5 -2.8l.5 4.2l.5 -3.3l.5 3.5l.5 -4.3l.5 3.2l.5 -2.1l.5 2l.5 -2.4l.5 4.2l.5 -2.7l.5 1.9l.5 -2.1l.5 1.8l.5 -2.7l.5 2.1l.5 -4.3l.5 4.8l.5 -1.5l.5 .9l.5 -1.9l.5 3.4l.5 -7.2l.5 5.8l.5 -2.6l.5 4.5l.5 -3.2l.5 1.8l.5 -3.3l.5 2.7l.5 -2.2l.5 2.1l.5 -.9l.5 .3l.5 -.5l.5 .5l.5 -2.5l.5 5l.5 -5.4l.5 6.8l.5 -4.6l.5 2.5l.5 -3.2l.5 1.7l.5 -1.1l.5 .7l.5 -1.8l.5 2.6l.5 -2.6l.5 1.5l.5 -1.3l.5 2.5l.5 -1.7l.5 .8l.5 -.5l.5 1.8l.5 -3.6l.5 4.5l.5 -3.1l.5 .8l.5 -1.4l.5 3.3l.5 -5.2l.5 3.2l.5 -1.2l.5 2l.5 -4l.5 4.5l.5 -2.8l.5 3.3l.5 -2.8l.5 1.4l.5 -1.4l.5 1.6l.5 -1.7l.5 1.8l.5 -1.1l.5 1.4l.5 -4.8l.5 3.6l.5 -1l.5 1.8l.5 -2.3l.5 2.9l.5 -2.2l.5 2l.5 -3.8l.5 2.8l.5 -1.2l.5 .8l.5 -1l.5 4l.5 -8.3l.5 6.4l.5 -1.9l.5 2l.5 -2.9l.5 2l.5 -5.1l.5 6.2l.5 -3l.5 2.7l.5 -3l.5 5.3l.5 -5.7l.5 2.9l.5 -2.3l.5 1.5l.5 -.3l.5 1.9l.5 -2.2l.5 .9l.5 -1.4l.5 2.9l.5 -2.1l.5 .7l.5 -1.3l.5 1.6l.5 -3l.5 3.9l.5 -2.5l.5 .8l.5 -1.3l.5 2.8l.5 -2.8l.5 1.8l.5 -.9l.5 .8l.5 -1.9l.5 4.7l.5 -4l.5 1.9l.5 -2.9l.5 1.9l.5 -1.3l.5 .9l.5 -2.3l.5 4l.5 -2.5l.5 1.3l.5 -1.1l.5 .6l.5 -1.2l.5 1.1l.5 -.7l.5 2.3l.5 -4.4l.5 5.3l.5 -3.4l.5 2.8l.5 -4.1l.5 3.5l.5 -4l.5 3.7l.5 -2.1l.5 3l.5 -3.9l.5 2l.5 -2.5l.5 2.7l.5 -2l.5 1.9l.5 -2l.5 1.8l.5 -1.4l.5 2.4l.5 -3l.5 4l.5 -3.5l.5 2.9l.5 -4.2l.5 4.1l.5 -4.2l.5 3.5l.5 -2l.5 .9l.5 -3.5l.5 3.4l.5 -.4l.5 1.9l.5 -1.7l.5 2.1l.5 -2l.5 1.8l.5 -3.4l.5 2.3l.5 -1.3l.5 1.2l.5 -2.6l.5 2.7l.5 -1.9l.5 2.3l.5 -2.4l.5 1.9l.5 -2.5l.5 1.9l.5 -.4l.5 1.7l.5 -2.7l.5 3.6l.5 -4.5l.5 4.2l.5 -2.8l.5 3.9l.5 -5.5l.5 2.2l.5 -1.6l.5 2.3l.5 -1l.5 1l.5 -2.7l.5 2.9l.5 -4.2l.5 4.3l.5 -3.3l.5 3.7l.5 -2.7l.5 1.1l.5 -1.9l.5 3.2l.5 -2.7l.5 2.9l.5 -3.7l.5 3.6l.5 -3.1l.5 2.1l.5 -2.5l.5 2.2l.5 -1.2l.5 1l.5 -2.6l.5 3.2l.5 -3.2l.5 2.6l.5 -1.9l.5 1.8l.5 -.8l.5 .8l.5 -2.5l.5 3.9l.5 -5.2l.5 5l.5 -3.8l.5 4.6l.5 -2.9l.5 1.4l.5 -1.2l.5 2.3l.5 -3l.5 1.7l.5 -1.7l.5 4l.5 -5.6l.5 3.1l.5 -2.5l.5 2.7l.5 -2.7l.5 3.8l.5 -3.2l.5 3.5l.5 -3.1l.5 1.5l.5 -1.7l.5 2.2l.5 -1.6l.5 1.6l.5 -2.1l.5 1l.5 -2.3l.5 1.9l.5 -.9l.5 4.1l.5 -4.5l.5 3.1l.5 -3.6l.5 2.4l.5 -.9l.5 .6l.5 -1l.5 1.3l.5 -1.4l.5 1.8l.5 -3.1l.5 3l.5 -1.5l.5 .9l.5 -1.9l.5 1.2l.5 -.9l.5 1.2l.5 -1.2l.5 3.2l.5 -4.2l.5 2.9l.5 -1.9l.5 .9l.5 -1.8l.5 2.5l.5 -3.9l.5 5l.5 -2.4l.5 2.9l.5 -4.6l.5 2.5l.5 -1.2l.5 2.4l.5 -2.3l.5 2.1l.5 -2.4l.5 1.9l.5 -1.7l.5 1.1l.5 -1.2l.5 1.6l.5 -3.8l.5 3.2l.5 -2.7l.5 3.1l.5 -1.1l.5 1l.5 -2.3l.5 2.5l.5 -1.8l.5 .7l.5 -1.8l.5 2.9l.5 -3l.5 4.1l.5 -3.7l.5 1.2l.5 -2l.5 2.8l.5 -4.3l.5 4.1l.5 -.8l.5 1.7l.5 -3.3l.5 2.6l.5 -1.3l.5 1.4l.5 -3.5l.5 6l.5 -3.8l.5 .6l.5 -1.7l.5 1.3l.5 -4.1l.5 5.7l.5 -2.4l.5 1l.5 -1.3l.5 1.2l.5 -1.6l.5 2l.5 -3.6l.5 2.7l.5 -.3l.5 1.8l.5 -4.7l.5 4.5l.5 -2.5l.5 1.1l.5 -.2l.5 .7l.5 -1.6l.5 1.1l.5 -2.4l.5 5.1l.5 -5.1l.5 3.5l.5 -2.5l.5 3.3l.5 -4.1l.5 2.6l.5 -1.6l.5 .8l.5 -1.6l.5 2.4l.5 -1.2l.5 .5l.5 -1.6l.5 2.5l.5 -4.3l.5 5.5l.5 -5.2l.5 4.2l.5 -3.3l.5 3.9l.5 -3.4l.5 2.2l.5 -1.5l.5 2.2l.5 -2.8l.5 2.3l.5 -1.9l.5 2.5l.5 -2.9l.5 3.3l.5 -3.4l.5 1.1l.5 -3.4l.5 4.7l.5 -3l.5 3.4l.5 -2.4l.5 1.2l.5 -1.7l.5 2.3l.5 -1.5l.5 .9l.5 -2.6l.5 3l.5 -2.7l.5 3l.5 -2.9l.5 1.3l.5 -2.6l.5 3.7l.5 -2.6l.5 1.6l.5 -2.8l.5 2.4l.5 -.7l.5 4.8l.5 -4.2l.5 .1l.5 -1.7l.5 2.5l.5 -3.5l.5 2.6l.5 -2l.5 3.2l.5 -1.5l.5 1.3l.5 -2.4l.5 2.3l.5 -2l.5 1.4l.5 -1.6l.5 1.9l.5 -1.7l.5 .9l.5 -1.1l.5 2.8l.5 -2.3l.5 1.1l.5 -2.6l.5 1.7l.5 -.3l.5 .5l.5 -1.4l.5 1.4l.5 -1l.5 1.1l.5 -2.2l.5 2.2l.5 -3.9l.5 4.6l.5 -2.1l.5 1.2l.5 -2.2l.5 1.9l.5 -.9l.5 2.2l.5 -3.7l.5 3.5l.5 -1.7l.5 1.5l.5 -2l.5 1.2l.5 -1l.5 1.6l.5 -1.5l.5 .4l.5 -.4l.5 1.8l.5 -2.4l.5 1.4l.5 -2.6l.5 2l.5 -2.3l.5 2.3l.5 -1.9l.5 2.7l.5 -2.5l.5 2.1l.5 -2.3l.5 2.2l.5 -.7l.5 4l.5 -4.3l.5 .8l.5 -1.7l.5 1.4l.5 -.4l.5 .7l.5 -4.4l.5 6l.5 -3.9l.5 3.4l.5 -2.6l.5 .8l.5 -2l.5 2.3l.5 -2.2l.5 3l.5 -3.6l.5 3.7l.5 -2l.5 .8l.5 -.7l.5 1.9l.5 -1.6l.5 1.2l.5 -1.6l.5 3.1l.5 -2.7l.5 .5l.5 -.7l.5 .5l.5 -1l.5 .7l.5 -.4l.5 1.5l.5 -2.6l.5 1.9l.5 -1.8l.5 2.6l.5 -1.5l.5 1.4l.5 -2.4l.5 1.9l.5 -3.4l.5 3.7l.5 -2.2l.5 3.5l.5 -4.5l.5 3.9l.5 -3.3l.5 4.1l.5 -4.2l.5 3l.5 -3.5l.5 4.7l.5 -3.5l.5 1.9l.5 -2.2l.5 1.4l.5 -1.4l.5 2.9l.5 -3.1l.5 2.4l.5 -4.2l.5 3l.5 -2.4l.5 2.4l.5 -.9l.5 2.1l.5 -2.1l.5 2.1l.5 -2.7l.5 1.7l.5 -2.3l.5 2.4l.5 -2.8l.5 1.9l.5 -2.1l.5 2.5l.5 -.7l.5 1.8l.5 -2.5l.5 1l.5 -3.4l.5 5.8l.5 -3.4l.5 2l.5 -4.1l.5 2.6l.5 -1.7l.5 2.4l.5 -3.3l.5 4l.5 -2.8l.5 1.9l.5 -3l.5 3.1l.5 -1.5l.5 1.5l.5 -1l.5 1.6l.5 -1.6l.5 3.2l.5 -3.4l.5 .9l.5 -1.8l.5 1.2l.5 -.3l.5 .3l.5 -1.7l.5 2.2l.5 -2.2l.5 3.1l.5 -2.2l.5 1.4l.5 -2.9l.5 3.1l.5 -5.5l.5 4.8l.5 -1.9l.5 2.6l.5 -2.2l.5 3.3l.5 -3.8l.5 1.5l.5 -.6l.5 .3l.5 -1.4l.5 2.9l.5 -1.7l.5 2.3l.5 -3.4l.5 1.4l.5 -3.1l.5 2.9l.5 -2l.5 2.4l.5 -1.1l.5 .5l.5 -.5l.5 .8l.5 -.6l.5 1.2l.5 -3.1l.5 2.1l.5 -1.3l.5 2.6l.5 -3.2l.5 4l.5 -5.1l.5 4.8l.5 -2.3l.5 .7l.5 -2.1l.5 3.6l.5 -2.8l.5 2.9l.5 -3.9l.5 2.5l.5 -1.6l.5 3.6l.5 -6.2l.5 3.4l.5 -2.1l.5 3.3l.5 -2.5l.5 1.5l.5 -3l.5 3.1l.5 -1.8l.5 1.1l.5 -2.2l.5 2.1l.5 -2.6l.5 2.5l.5 -1l.5 2.2l.5 -2.6l.5 3.1l.5 -4.5l.5 5l.5 -4.7l.5 2.8l.5 -1.6l.5 2l.5 -2.6l.5 2.6l.5 -2.9l.5 3.9l.5 -3.3l.5 2.2l.5 -3.3l.5 2.4l.5 -2.1l.5 4.1l.5 -2.7l.5 .2l.5 -.8l.5 1.4l.5 -2.4l.5 1.7l.5 -1.1l.5 1.3l.5 -2.4l.5 2.3l.5 -1.3l.5 2.8l.5 -3.7l.5 2l.5 -1.5l.5 4l.5 -3l.5 2.3l.5 -5l.5 6.7l.5 -5.3l.5 1.7l.5 -2.3l.5 2l.5 -.5l.5 .9l.5 -.9l.5 2.5l.5 -4.1l.5 2.9l.5 -2.9l.5 4l.5 -2.9l.5 1.5l.5 -1.4l.5 1.4l.5 -2.4l.5 1.7l.5 -2.2l.5 5l.5 -4.8l.5 3.4l.5 -2.4l.5 .2l.5 -2.7l.5 3.4l.5 -3.3l.5 3.4l.5 -4.6l.5 7.2l.5 -5.2l.5 4.3l.5 -3.8l.5 1.5l.5 -1l.5 1.3l.5 -3l.5 2.9l.5 -2.4l.5 1.6l.5 -2l.5 2.7l.5 -1.9l.5 1.5l.5 -3.8l.5 3.4l.5 -1l.5 .9l.5 -3l.5 2.5l.5 -.6l.5 3.9l.5 -4.6l.5 .9l.5 -1.2l.5 1.7l.5 -2.3l.5 2.4l.5 -4.1l.5 4.4l.5 -2.8l.5 2.7l.5 -2.3l.5 1.3l.5 -4.1l.5 3.8l.5 -1.4l.5 1.5l.5 -.9l.5 4.3l.5 -6.9l.5 5.5l.5 -5l.5 3l.5 -.7l.5 1l.5 -2.6l.5 4.3l.5 -4.5l.5 2.7l.5 -5.6l.5 6.8l.5 -2.6l.5 2.7l.5 -4.3l.5 2.1l.5 -.8l.5 .5l.5 -3.8l.5 7l.5 -6l.5 2.8l.5 -2.1l.5 3.6l.5 -3.2l.5 1.8l.5 -1.8l.5 2.2l.5 -1.9l.5 2.9l.5 -4.2l.5 1.7l.5 -1.6l.5 3.5l.5 -2.5l.5 2.9l.5 -3.7l.5 3.1l.5 -3.7l.5 2.1l.5 -1.2l.5 .6l.5 -4.2l.5 6.4l.5 -3.1l.5 2.1l.5 -2.8l.5 1.4l.5 -2.1l.5 2.2l.5 -1.5l.5 1.6l.5 -2.2l.5 1.9l.5 -1.4l.5 .8l.5 -2.3l.5 1.9l.5 -1.9l.5 2.2l.5 -.7l.5 .2l.5 -.5l.5 4.1l.5 -4.2l.5 1l.5 -1.2l.5 2.4l.5 -2.2l.5 1.3l.5 -3.3l.5 2.7l.5 -2.1l.5 3.6l.5 -3.7l.5 2.1l.5 -2.8l.5 3.7l.5 -2.8l.5 1.9l.5 -2.3l.5 1.5l.5 -1.6l.5 2.9l.5 -2.3l.5 .5l.5 -2.8l.5 2.3l.5 -2l.5 2l.5 -1.9l.5 2.3l.5 -3.1l.5 3.3l.5 -4.3l.5 3.7l.5 -2l.5 2.5l.5 -2.2l.5 1.4l.5 -2l.5 1.6l.5 -1.7l.5 2.4l.5 -2l.5 2.4l.5 -3.7l.5 3.2l.5 -3.6l.5 2.7l.5 -3.5l.5 4.6l.5 -4.3l.5 4.7l.5 -5l.5 4.4l.5 -2.4l.5 1.2l.5 -1.6l.5 2.7l.5 -3.3l.5 3.2l.5 -4.8l.5 5.4l.5 -4.6l.5 3.3l.5 -4.9l.5 3.1l.5 -1.8l.5 1.8l.5 -2.1l.5 1.3l.5 -.8l.5 2l.5 -4.9l.5 4.9l.5 -3.1l.5 1.3l.5 -.5l.5 .1l.5 -1l.5 2.1l.5 -3.7l.5 5.3l.5 -3.9l.5 .8l.5 -2.4l.5 2.9l.5 -1.4l.5 .5l.5 -1.6l.5 3l.5 -3.1l.5 2.8l.5 -3.6l.5 1.7l.5 -.6l.5 .9l.5 -2l.5 1.8l.5 -3.9l.5 3.1l.5 -.7l.5 3.7l.5 -4.9l.5 1.9l.5 -.7l.5 2.6l.5 -5.3l.5 2.7l.5 -.7l.5 2.5l.5 -3l.5 .7l.5 -1.6l.5 3.8l.5 -5.8l.5 3.1l.5 -1l.5 1.2l.5 -3.4l.5 4.7l.5 -3.6l.5 1.2l.5 -.4l.5 .7l.5 -2l.5 2.8l.5 -3.5l.5 2.5l.5 -3.3l.5 4.8l.5 -4.1l.5 2.5l.5 -2.8l.5 2.6l.5 -3.3l.5 2.3l.5 -2.7l.5 2.1l.5 -1.7l.5 2.3l.5 -3.2l.5 3.6l.5 -5.2l.5 3.5l.5 -2.8l.5 3.8l.5 -4.2l.5 3.7l.5 -1.8l.5 4.2l.5 -6l.5 3.3l.5 -2.8l.5 1.6l.5 -1.5l.5 3.5l.5 -5.4l.5 2.8l.5 -1.5l.5 1.3l.5 -2l.5 1.7l.5 -1.1l.5 .2l.5 -2.3l.5 2.5l.5 -1.6l.5 2.1l.5 -2.1l.5 .3l.5 -.7l.5 1.6l.5 -2.6l.5 1.6l.5 -3.8l.5 3.3l.5 -1.9l.5 3l.5 -2.2l.5 1.9l.5 -4.6l.5 3.6l.5 -3.2l.5 2.8l.5 -3.6l.5 4.4l.5 -3.7l.5 1.1l.5 -1.1l.5 .9l.5 -1.4l.5 2.4l.5 -5.2l.5 3.7l.5 -3.2l.5 3.4l.5 -2.4l.5 1.5l.5 -1.6l.5 2.6l.5 -2.5l.5 .8l.5 -3.1l.5 2.6l.5 -2.2l.5 1.8l.5 -1.2l.5 1.9l.5 -2.7l.5 1.1l.5 -.6l.5 .7l.5 -2.7l.5 3.2l.5 -1.8l.5 .3l.5 -2.8l.5 4.6l.5 -3.4l.5 1.9l.5 -3.5l.5 2.5l.5 -1.2l.5 1.6l.5 -1.8l.5 .9l.5 -3.7l.5 4.1l.5 -2.8l.5 6.1l.5 -7.2l.5 1.2l.5 -1l.5 4.4l.5 -6.4l.5 2.3l.5 -2.5l.5 3.6l.5 -2.8l.5 2.2l.5 -2.5l.5 1.1l.5 -1.4l.5 .5l.5 -2.2l.5 3.8l.5 -3.6l.5 2.9l.5 -2.7l.5 .9l.5 -1.3l.5 .6l.5 -1.8l.5 3.6l.5 -3.5l.5 1.1l.5 -.8l.5 1.8l.5 -5l.5 3.1l.5 -1.9l.5 1.1l.5 -1.7l.5 1.1l.5 -1.6l.5 1.9l.5 -1.1l.5 1.7l.5 -3.6l.5 1.5l.5 -2l.5 1.8l.5 -1.4l.5 3l.5 -4.1l.5 2.2l.5 -1.6l.5 .8l.5 -1.5l.5 .2l.5 -1l.5 2.1l.5 -4.8l.5 2.6l.5 -.8l.5 .5l.5 -1.3l.5 .9l.5 -2.2l.5 1.5l.5 -.5l.5 1.1l.5 -2.3l.5 .7l.5 -.5l.5 .9l.5 -2l.5 .7l.5 -1.6l.5 1.4l.5 -2l.5 3.6l.5 -5.8l.5 2.7l.5 -1.8l.5 2.1l.5 -2.3l.5 2l.5 -2.2l.5 1.7l.5 -1.7l.5 .3l.5 -1l.5 .9l.5 -2.7l.5 2l.5 -1.9l.5 2.7l.5 -3.3l.5 1.1l.5 -1.3l.5 .6l.5 -1.6l.5 2.3l.5 -1.7l.5 1l.5 -4l.5 3.8l.5 -1.9l.5 .6l.5 -1.3l.5 .7l.5 -2.1l.5 .8l.5 -.5l.5 1.1l.5 -3.1l.5 1.6l.5 -.9l.5 .8l.5 -1.4l.5 .3l.5 -1.1l.5 1.9l.5 -5.1l.5 5.6l.5 -3.3l.5 2.3l.5 -2.6l.5 .5l.5 -1.9l.5 1.1l.5 -2.6l.5 2.7l.5 -3.2l.5 2.1l.5 -2.4l.5 1.7l.5 -1.6l.5 1.9l.5 -3.3l.5 1.8l.5 -3.8l.5 2.8l.5 -1.4l.5 1.5l.5 -1.5l.5 .8l.5 -1.2l.5 2.5l.5 -3.4l.5 .7l.5 -3.2l.5 3l.5 -1.5l.5 .1l.5 -2.3l.5 2.2l.5 -1.9l.5 .5l.5 -1.5l.5 1.8l.5 -2.8l.5 1.8l.5 -2.2l.5 1.6l.5 -1.2l.5 .5l.5 -1.1l.5 3.3l.5 -4.3l.5 .9l.5 -2l.5 1.9l.5 -2l.5 1.2l.5 -1.8l.5 .5l.5 -1.6l.5 .9l.5 -1.3l.5 2.5l.5 -3.3l.5 .7l.5 -2l.5 3.7l.5 -4.4l.5 1.9l.5 -1.3l.5 .3l.5 -1l.5 2.3l.5 -2.9l.5 1.5l.5 -2.4l.5 3l.5 -3.9l.5 1.5l.5 -3.4l.5 4.2l.5 -3.6l.5 1.1l.5 -2.2l.5 1.9l.5 -1.8l.5 1.1l.5 -1.9l.5 1.9l.5 -2l.5 -.1l.5 -1l.5 .4l.5 -1.3l.5 .6l.5 -1.2l.5 .9l.5 -2.5l.5 2.5l.5 -2.4l.5 1.6l.5 -2.2l.5 1.7l.5 -3l.5 2.1l.5 -2.4l.5 1.6l.5 -1.6l.5 .8l.5 -1.7l.5 1.4l.5 -1.7l.5 .2l.5 -1.7l.5 1.7l.5 -1.6l.5 .4l.5 -1.2l.5 .7l.5 -1.8l.5 .4l.5 -2.2l.5 2.3l.5 -2l.5 .7l.5 -.9l.5 .1l.5 -.8l.5 .9l.5 -1.3l.5 0l.5 -1.3l.5 1.2l.5 -3.2l.5 2.2l.5 -1.3l.5 .4l.5 -3.4l.5 3.6l.5 -1.9l.5 1.2l.5 -3.7l.5 2.3l.5 -3l.5 2.3l.5 -1.5l.5 1.3l.5 -1.6l.5 -.2l.5 -1.2l.5 1.3l.5 -2.2l.5 2.1l.5 -3.5l.5 1.9l.5 -4l.5 3.1l.5 -1.5l.5 1.2l.5 -1.5l.5 .5l.5 -1.3l.5 .7l.5 -2.8l.5 2.2l.5 -2.7l.5 1.6l.5 -2.2l.5 1.6l.5 -2.3l.5 1.3l.5 -.8l.5 1.1l.5 -2.3l.5 .4l.5 -1.1l.5 .3l.5 -.9l.5 .8l1 -1.9l1 0l1 -1.4l1 .6l1 -2.6l1 .2l1 -.9l1 1.4l1 -4.1l1 1.5l1 -2.1l1 .6l1 -2l1 -.3l1 -1.1l1 1.2l1 -3.6l1 .6l1 -1.5l1 .3l1 -1.3l1 -.2l1 -1.5l1 .1l1 -1.6l1 .9l1 -3.8l1 1.1l1 -1.9l1 .2l1 -1.4l1 .9l1 -3l1 1.5l1 -2.5l1 -.3l1 -1.5l1 .8l1 -2.3l1 .3l1 -1.6l1 .7l1 -2.6l1 0l1 -1.1l1 .1l1 -1.7l1 -.3l1 -1.3l1 0l1 -2.3l1 .4l1 -3.1l1 1.4l1 -1.4l1 0l1 -3.1l1 .9l1 -1.8l1 .6l1 -1.5l1 -.4l1 -1.9l1 .8l1 -2.2l1 -.2l1 -1.3l1 -.1l1 -1.5l1 .1l1 -1.7l1 .5l1 -2.3l1 -.1l1 -1.2l1 -.2l1 -2.3l1 .7l1 -2.3l1 .1l1 -2.6l1 1.5l1 -2l1 .5l1 -2.4l1 .5l1 -1.9l1 -.6l1 -1l1 -.2l1 -1.6l1 -.5l1 -2.8l1 1.3l1 -1.5l1 -.6l1 -.9l1 .1l1 -2.5l1 .8l1 -2.9l1 .5l1 -2l1 .9l1 -2.7l1 .9l1 -2.2l1 .5l1 -2.3l1 -.4l1 -1.6l1 0l1 -1.8l1 1.1l1 -2.6l1 .1l1 -2l1 .7l1 -3l1 0l1 -1.5l1 .8l1 -2.2l1 -.6l1 -2l1 0l1 -1.2l1 .9l1 -3.4l1 .7l1 -3.3l1 1.4l1 -1.6l1 -.9l1 -1.9l1 .6l1 -2.2l1 .1l1 -1.6l1 .3l1 -2.2l1 .4l1 -2.3l1 -.4l1 -1.6l1 .4l1 -2.3l1 .1l1 -2.2l1 -.2l1 -1.5l1 -.4l1 -1.2l1 .2l1 -2.4l1 -.4l1 -1.9l1 .5l1 -3.3l1 .9l1 -1.7l1 .4l1 -2.7l1 2l1 -3.3l1 -.3l1 -1.8l1 -.2l1 -2.1l1 -.1l1 -1.1l1 -.9l1 -1l1 -1l1 -1.7l1 0l1 -1.8l1 -.2l1 -1.6l1 .5l1 -3.6l1 1.5l1 -2.1l1 -.4l1 -1.9l1 1.3l1 -3.6l1 -.1l1 -1.8l1 .4l1 -2.5l1 .4l1 -2.1l1 .2l1 -2.5l1 .1l1 -2.9l1 .6l1 -1.9l1 0l1 -2.8l1 .8l1 -1.7l1 -.6l1 -1.8l1 -.1l1 -1.8l1 0l1 -1.8l1 -.1l1 -2.1l1 .3l1 -2l1 .4l1 -3.3l1 -.1l1 -1.8l1 .4l1 -1.8l1 -.5l1 -2l1 -.4l1 -1.8l1 .8l1 -2.8l1 -.4l1 -1.4l1 -.7l1 -1.9l1 .4l1 -2.4l1 .7l1 -2.3l1 -.4l1 -1.7l1 .1l1 -2.2l1 -.9l1 -2.5l1 1.5l1 -2.3l1 -.2l1 -2.7l1 1.4l1 -3.1l1 -.2l1 -1.5l1 -.5l1 -2.1l1 .7l1 -2.3l1 -.5l1 -2.4l1 .3l1 -2l1 .2l1 -3.8l1 1.5l1 -2.1l1 -.4l1 -1.7l1 .3l1 -2.4l1 -.6l1 -1.5l1 -.8l1 -2.2l1 1.2l1 -2.5l1 .4l1 -2.4l1 -.4l1 -2.7l1 .3l1 -1.5l1 -.7l1 -2l1 -.5l1 -1.4l1 .4l1 -2.8l1 -.3l1 -2.4l1 .1l1 -1.8l1 -.5l1 -1.3l1 -.3l1 -2.1l1 -.7l1 -1.2l1 -.1l1 -2.7l1 -.4l1 -2.1l1 0l1 -1.8l1 .1l1 -3.1l1 1l1 -3l1 .1l1 -1.3l1 -.4l1 -1.8l1 .4l1 -3.1l1 .5l1 -2.5l1 .9l1 -3.7l1 .2l1 -1.4l1 .3l1 -2.7l1 -.4l1 -1.7l1 -.4l1 -1.9l1 .7l1 -2.8l1 .5l1 -2.7l1 -.2l1 -1.6l1 -.6l1 -2.3l1 .1l1 -1.4l1 .2l1 -3.5l1 1.3l1 -3.5l1 .7l1 -2l1 .4l1 -3l1 1.5l1 -3.4l1 .4l1 -1.8l1 .1l1 -2.1l1 -.6l1 -1.6l1 .4l1 -2.1l1 -.9l1 -1.5l1 .2l1 -2.1l1 .2l1 -2.4l1 .6l1 -3.2l1 .8l1 -1.8l1 -.7l1 -1.9l1 .3l1 -1.8l1 .1l1 -1.7l1 -.4l1 -1.7l1 -.2l1 -2.6l1 .9l1 -1.9l1 0l1 -2.2l1 .9l1 -2.6l1 -.5l1 -1.2l1 -.3l1 -1.7l1 -.5l1 -1.1l1 -.1l1 -2.4l1 1.3l1 -3.8l1 1l1 -1.8l1 .8l1 -2.4l1 .4l1 -2.6l1 .5l1 -1.5l1 -.7l1 -1.2l1 0l1 -1.9l1 .1l1 -2l1 -.2l1 -1.8l1 .3l1 -1.4l1 .5l1 -2.2l1 -.2l1 -2.6l1 .9l1 -1.3l1 -.2l1 -1.5l1 -.5l1 -1.2l1 .2l1 -2l1 .1l1 -1.8l1 .1l1 -1.1l1 -.5l1 -1.6l1 1.1l1 -2.9l1 .3l1 -2.3l1 .7l1 -1.2l1 0l1 -1.9l1 .7l1 -2.6l1 .7l1 -2.4l1 1.4l1 -2.7l1 .5l1 -1.9l1 .6l1 -1.5l1 0l1 -1.2l1 .6l1 -2.1l1 -.1l1 -1.5l1 .4l1 -2.8l1 2l1 -2.4l1 -.1l1 -2.2l1 1.2l1 -2.3l1 1.6l1 -2.2l1 -.3l1 -1.3l1 .9l1 -2l1 .6l1 -2.6l1 .9l1 -1.6l1 .2l1 -1.3l1 .5l1 -1.9l1 -.2l1 -1.1l1 .5l1 -1.9l1 0l1 -1.4l1 .9l1 -2.4l1 .2l1 -1.1l1 -.1l1 -1.1l1 0l1 -1.2l1 -.1l1 -1.1l1 -.3l1 -2.5l1 2l1 -2l1 .2l1 -1.1l1 -.2l1 -1.9l1 .7l1 -1.7l1 1l1 -2.1l1 .7l1 -1.2l1 .3l1 -2.3l1 .5l1 -1.3l1 1.5l1 -2.9l1 1.5l1 -1.9l1 .3l1 -3.5l1 1.9l1 -.8l1 -.1l1 -1.2l1 .8l1 -2l1 .5l1 -2.6l1 1.2l1 -1.2l1 .9l1 -2.4l1 .5l1 -1.1l1 .6l1 -2.3l1 .8l1 -.8l1 .2l1 -1.6l1 .3l1 -1.2l1 1.4l1 -2.2l1 .2l1 -1.7l1 .4l1 -.7l1 .8l1 -2l1 .1l1 -1l1 .7l1 -2.6l1 1.1l1 -1.8l1 1.4l1 -1.5l1 .7l1 -2.3l1 1.2l1 -2.1l1 1.9l1 -2.3l1 .2l1 -2.2l1 1.3l1 -2.2l1 1.5l1 -1.7l1 1.9l1 -2.9l1 .8l1 -1l1 .3l1 -.8l1 -.3l1 -1l1 1l1 -1.8l1 .9l1 -1.9l1 .4l1 -.6l1 0l1 -.9l1 1.2l1 -2.3l1 .9l1 -1.9l1 .9l1 -1l1 .4l1 -1.1l1 -.1l1 -1.3l1 .6l1 -1l1 .9l1 -1.5l1 1.1l1 -2.2l1 1.1l1 -1.4l1 .4l1 -1.4l1 .5l1 -1.5l1 1.5l1 -1.7l1 .4l1 -1l1 .4l1 -1l1 1.9l1 -3l1 1.3l1 -1.9l1 1l1 -1.8l1 2.4l1 -2.5l1 1.1l1 -2l1 .7l1 -.9l1 .1l1 -1.4l1 1l1 -1l1 .8l1 -1.7l1 1.2l1 -2.4l1 1.1l1 -.5l1 .6l1 -1.9l1 1.3l1 -1.2l1 0l1 -1.7l1 2.5l1 -2.2l1 .5l1 -.7l1 .1l1 -2l1 2.1l1 -1.2l1 1.2l1 -2.5l1 .9l1 -.8l1 .3l1 -.7l1 .5l1 -1.2l1 .5l1 -1.3l1 1.6l1 -1.6l1 .4l1 -1.3l1 .7l1 -.6l1 1.3l1 -2.6l1 .8l1 -.5l1 .7l1 -1.5l1 1.1l1 -1.6l1 .6l1 -.8l1 1.6l1 -2l1 .3l1 -.6l1 .8l1 -1.6l1 .9l1 -1l1 .4l1 -1.5l1 1.7l1 -1.5l1 1.5l1 -1.8l1 .5l1 -.9l1 .8l1 -.9l1 1.3l1 -1.9l1 .9l1 -1.2l1 .7l1 -1.1l1 1.1l1 -1.4l1 1.1l1 -1.7l1 1.3l1 -1.3l1 1.4l1 -2.8l1 2l1 -2.5l1 2.1l1 -.9l1 .2l1 -2.4l1 2.6l1 -1.6l1 1.2l1 -2.3l1 2.2l1 -1.4l1 .9l1 -.9l1 0l1 -1l1 .9l1 -1l1 1.2l1 -1.1l1 .5l1 -1.3l1 1.4l1 -2.6l1 1.9l1 -1.2l1 1l1 -.7l1 .2l1 -1.1l1 .8l1 -1.4l1 1.4l1 -1.6l1 1.7l1 -1.7l1 .9l1 -.8l1 1.9l1 -2.7l1 1.2l1 -.8l1 1l1 -.9l1 .4l1 -1.8l1 1.4l1 -.6l1 .4l1 -.7l1 2l1 -2.5l1 1.6l1 -1.7l1 1l1 -1l1 .3l1 -.2l1 .1l1 -.6l1 1l1 -1.2l1 2.3l1 -2.7l1 1.4l1 -1.6l1 1.4l1 -2.4l1 2l1 -.9l1 .5l1 -.8l1 .4l1 -.5l1 .6l1 -1l1 .7l1 -1.8l1 2.2l1 -1.1l1 .7l1 -2.6l1 2.8l1 -1.5l1 .6l1 -.9l1 .7l1 -1.3l1 1.3l1 -.8l1 .7l1 -.8l1 1l1 -2.3l1 1.3l1 -.2l1 .5l1 -1.1l1 1.5l1 -1.1l1 1l1 -1.4l1 1.3l1 -1.2l1 .1l1 -.8l1 1.9l1 -2.2l1 2l1 -2.5l1 1.5l1 -.8l1 1.3l1 -1.5l1 .4l1 -1l1 1.2l1 -1.1l1 .8l1 -.3l1 .3l1 -.4l1 .1l1 -.5l1 1l1 -1.2l1 1.2l1 -1.6l1 2.2l1 -2.7l1 2.7l1 -2.5l1 .9l1 -.8l1 1.1l1 -1.9l1 2.1l1 -1.5l1 1l1 -1.4l1 1.6l1 -1.4l1 1.1l1 -.7l1 .5l1 -1.4l1 1.1l1 -.7l1 .7l1 -1.5l1 1.4l1 -.6l1 .7l1 -.9l1 1.5l1 -1.5l1 .6l1 -.9l1 .5l1 -.5l1 2.5l1 -2.3l1 .5l1 -1.1l1 1.7l1 -2l1 2.2l1 -2.2l1 .7l1 -.9l1 .8l1 -1.8l1 2.4l1 -.9l1 .6l1 -1.2l1 1.3l1 -1.5l1 1.2l1 -.9l1 .8l1 -.8" stroke="#800000" stroke-width="6.5"/>
<path d="M291 734l.5 -2.9l.5 6.5l.5 -8.2l.5 8.1l.5 -5.7l.5 2.2l.5 -2.7l.5 6.1l.5 -6.4l.5 1.7l.5 -6.3l.5 6.6l.5 -2.9l.5 7l.5 -13.1l.5 14.6l.5 -10.5l.5 5l.5 -4.2l.5 5.4l.5 -4.6l.5 3.7l.5 -1.7l.5 5.5l.5 -11.5l.5 6.4l.5 -3.1l.5 5.8l.5 -10.1l.5 8.6l.5 -1.9l.5 6l.5 -8.7l.5 4.1l.5 -4.1l.5 6.9l.5 -6.8l.5 6.2l.5 -3.5l.5 3.4l.5 -5.6l.5 5.5l.5 -4.6l.5 4.9l.5 -4.8l.5 2.9l.5 -1.3l.5 7.7l.5 -9l.5 2.8l.5 -2.6l.5 5l.5 -4.7l.5 1.4l.5 -2.7l.5 7.3l.5 -9.4l.5 6l.5 -1.8l.5 3.6l.5 -5.3l.5 6.1l.5 -4.3l.5 .6l.5 -1.1l.5 4.6l.5 -7.7l.5 6.9l.5 -7.1l.5 11.6l.5 -7.6l.5 4.6l.5 -10.6l.5 7.6l.5 -4.8l.5 6.6l.5 -3.7l.5 6.7l.5 -12.5l.5 10.1l.5 -3.7l.5 3.1l.5 -11.3l.5 12.1l.5 -7.1l.5 5.6l.5 -2.6l.5 5.7l.5 -10.3l.5 7.9l.5 -6.9l.5 4.2l.5 -2.5l.5 6.9l.5 -4.9l.5 1.1l.5 -4.5l.5 5.8l.5 -2l.5 .5l.5 -.7l.5 4.2l.5 -6.5l.5 4l.5 -4.1l.5 4.7l.5 -3.7l.5 6.8l.5 -9.7l.5 5.1l.5 -1l.5 2.8l.5 -2.1l.5 .9l.5 -5.1l.5 4.6l.5 -3.6l.5 4.8l.5 -7.5l.5 11.7l.5 -6.3l.5 .7l.5 -8l.5 15.4l.5 -7.9l.5 2.6l.5 -6l.5 9.7l.5 -6.3l.5 .9l.5 -4.7l.5 5.2l.5 -3.6l.5 4.8l.5 -6.1l.5 7l.5 -12.2l.5 10.1l.5 -5.6l.5 8.6l.5 -8.2l.5 7.8l.5 -3.6l.5 .2l.5 -.3l.5 3.3l.5 -4l.5 1.1l.5 -2.3l.5 5l.5 -5.4l.5 5.5l.5 -5.6l.5 3.3l.5 -1.9l.5 1.4l.5 -.5l.5 1.4l.5 -2.9l.5 4.3l.5 -3l.5 4l.5 -3.7l.5 7.1l.5 -7.4l.5 11.1l.5 -11.9l.5 7.3l.5 -5.8l.5 1.6l.5 -4.6l.5 7.7l.5 -8.2l.5 5.9l.5 -3.8l.5 6.5l.5 -7.9l.5 7.2l.5 -7l.5 3.3l.5 -1l.5 3.1l.5 -2.8l.5 10.4l.5 -15.7l.5 9.1l.5 -4.1l.5 1.7l.5 -2l.5 5.2l.5 -5.5l.5 1.9l.5 -2.1l.5 4.5l.5 -5.6l.5 6.3l.5 -8.6l.5 6.5l.5 -2l.5 3.3l.5 -5.6l.5 8.2l.5 -11.3l.5 9.7l.5 -11.6l.5 8.7l.5 -2.5l.5 6.1l.5 -10.1l.5 6l.5 -3.7l.5 4.7l.5 -6.3l.5 7.4l.5 -8.9l.5 6.6l.5 -1.2l.5 2.9l.5 -3.2l.5 7.6l.5 -14.2l.5 9.6l.5 -2.5l.5 4.7l.5 -6.7l.5 2.7l.5 -.4l.5 .5l.5 -.2l.5 1.8l.5 -6.5l.5 8.3l.5 -7.5l.5 6.9l.5 -4.8l.5 6.4l.5 -6.9l.5 3.3l.5 -7.3l.5 9.3l.5 -3l.5 3.8l.5 -6.2l.5 2.8l.5 -.9l.5 4.8l.5 -4.7l.5 1l.5 -.8l.5 3.2l.5 -6.2l.5 10.1l.5 -7l.5 4.7l.5 -6.7l.5 4.4l.5 -2.7l.5 6.7l.5 -8.4l.5 3.7l.5 -3.6l.5 3.5l.5 -2.3l.5 1.8l.5 -4l.5 13l.5 -10.5l.5 4.2l.5 -7.5l.5 7.6l.5 -4l.5 .7l.5 -3.3l.5 6.3l.5 -5.4l.5 7.6l.5 -8.5l.5 6.3l.5 -6.5l.5 4.6l.5 -2.9l.5 7.7l.5 -8.5l.5 3.1l.5 -4.6l.5 7.7l.5 -4.1l.5 3.1l.5 -5.2l.5 4.9l.5 -5.2l.5 11.8l.5 -14.2l.5 9.7l.5 -5.1l.5 1.3l.5 -1.5l.5 8.4l.5 -13.8l.5 8.2l.5 -5.7l.5 5l.5 -4.7l.5 7.7l.5 -5.7l.5 2.9l.5 -1.8l.5 3.5l.5 -4.1l.5 .9l.5 -5.5l.5 9.3l.5 -9.4l.5 6.3l.5 -4.5l.5 6.4l.5 -5.1l.5 4.9l.5 -6.9l.5 4.9l.5 -6.1l.5 7.9l.5 -2.4l.5 2.4l.5 -4.3l.5 3.7l.5 -4l.5 4.7l.5 -2.7l.5 3.5l.5 -8.3l.5 5.3l.5 -1.2l.5 4.1l.5 -4.8l.5 1.9l.5 -.9l.5 4.5l.5 -8.4l.5 5.7l.5 -5.4l.5 4.9l.5 -2.1l.5 7.1l.5 -6.9l.5 2.9l.5 -1.8l.5 6.4l.5 -10l.5 6.2l.5 -4.4l.5 5.9l.5 -7.8l.5 6.2l.5 -2.9l.5 1.9l.5 -7.6l.5 8.9l.5 -3.1l.5 1.5l.5 -3.6l.5 4.8l.5 -4.3l.5 4.4l.5 -7.1l.5 13.2l.5 -9.2l.5 1.9l.5 -4.3l.5 14.1l.5 -11.1l.5 .1l.5 -3.4l.5 5l.5 -8.7l.5 7.1l.5 -3l.5 10.9l.5 -13.1l.5 5.9l.5 -1l.5 2.9l.5 -3.5l.5 1.4l.5 -5.6l.5 5.9l.5 -5.7l.5 12.7l.5 -16.8l.5 12l.5 -4l.5 7.3l.5 -12l.5 7.5l.5 -2.4l.5 1.7l.5 -2.3l.5 1.3l.5 -2.9l.5 11.5l.5 -12.6l.5 9.3l.5 -7.6l.5 6.4l.5 -6.8l.5 3.7l.5 -4.7l.5 4.4l.5 -1.1l.5 1.4l.5 -6.9l.5 9.1l.5 -5.5l.5 7.5l.5 -8.8l.5 5.4l.5 -2.6l.5 .7l.5 -5.4l.5 5.9l.5 -2.7l.5 6.7l.5 -5.1l.5 3.9l.5 -5.6l.5 2.7l.5 -2.4l.5 4.8l.5 -4.8l.5 7.7l.5 -11.4l.5 9.9l.5 -11.4l.5 9.6l.5 -4.2l.5 6.9l.5 -6l.5 2.3l.5 -2.2l.5 4.3l.5 -6.9l.5 5.3l.5 -5l.5 5.6l.5 -3.8l.5 5.5l.5 -5.3l.5 2.2l.5 -9.8l.5 8.7l.5 -3.3l.5 7.6l.5 -9.7l.5 8.8l.5 -6.7l.5 3.8l.5 -5.7l.5 8.1l.5 -6.5l.5 5.2l.5 -5l.5 8l.5 -8l.5 10.4l.5 -9.2l.5 3.6l.5 -2.4l.5 .8l.5 -1l.5 3l.5 -4.3l.5 5.2l.5 -3.1l.5 5.3l.5 -8.8l.5 6l.5 -5l.5 9.2l.5 -11.1l.5 12.2l.5 -11.6l.5 5.7l.5 -5l.5 7.5l.5 -5.3l.5 1.8l.5 -3.2l.5 6.9l.5 -6.5l.5 3.1l.5 -1.7l.5 .8l.5 -4.3l.5 7.6l.5 -3.6l.5 .5l.5 -1.3l.5 4.6l.5 -5l.5 5.5l.5 -5.4l.5 1.8l.5 -1.1l.5 4.5l.5 -5.8l.5 5.4l.5 -5.8l.5 2.7l.5 -4.2l.5 4.5l.5 -1.7l.5 4.3l.5 -3.8l.5 1.4l.5 -2.4l.5 7.7l.5 -14.7l.5 11.9l.5 -3.7l.5 3l.5 -3.7l.5 2.9l.5 -2.3l.5 1l.5 -2.9l.5 6.9l.5 -6.7l.5 3.6l.5 -4.2l.5 4.8l.5 -6.3l.5 6.9l.5 -4.7l.5 3.1l.5 -2.5l.5 2.7l.5 -4.7l.5 6.3l.5 -8.2l.5 5.7l.5 -5.3l.5 6l.5 -1.9l.5 4.8l.5 -14.3l.5 14.8l.5 -7.9l.5 4.2l.5 -4l.5 5.5l.5 -2.9l.5 2.1l.5 -2.2l.5 2.8l.5 -3.2l.5 1.2l.5 -5.6l.5 10l.5 -5.8l.5 9.3l.5 -11.2l.5 8.9l.5 -11.8l.5 6.8l.5 -6.9l.5 6.5l.5 -4.5l.5 5.3l.5 -2.6l.5 3.5l.5 -5.5l.5 3.7l.5 -1.9l.5 3.1l.5 -7.7l.5 6.6l.5 -1.8l.5 7.1l.5 -10.1l.5 7.3l.5 -3.4l.5 7.9l.5 -9.6l.5 2.2l.5 -7.9l.5 9.7l.5 -5.1l.5 5.9l.5 -7.8l.5 8.6l.5 -6.7l.5 6.9l.5 -4.9l.5 2l.5 -1.6l.5 3.9l.5 -3.9l.5 3.3l.5 -10.4l.5 9.3l.5 -10.8l.5 14.8l.5 -9.9l.5 7.6l.5 -5.7l.5 7.5l.5 -7.6l.5 2.5l.5 -1.6l.5 4.2l.5 -3l.5 1.7l.5 -2.1l.5 2.6l.5 -2.5l.5 3.8l.5 -4.7l.5 10.2l.5 -14.3l.5 5.7l.5 -2l.5 4.8l.5 -7.4l.5 12.4l.5 -11.9l.5 5.5l.5 -3l.5 6l.5 -4.8l.5 4.9l.5 -6.1l.5 9.8l.5 -9.2l.5 2.2l.5 -7.1l.5 6.4l.5 -2.4l.5 4.1l.5 -5.5l.5 4.8l.5 -4.1l.5 6.8l.5 -5.3l.5 5.8l.5 -5.7l.5 1.2l.5 -4.9l.5 6.2l.5 -2.3l.5 3.1l.5 -6.1l.5 3.7l.5 -3.9l.5 9.2l.5 -8.4l.5 7.6l.5 -6.2l.5 6.8l.5 -7.1l.5 3l.5 -6.9l.5 9l.5 -5.6l.5 3.4l.5 -1.9l.5 6.6l.5 -9.1l.5 4.6l.5 -8.9l.5 11l.5 -5.5l.5 3.2l.5 -2.1l.5 1.8l.5 -3.4l.5 9.3l.5 -7.5l.5 2l.5 -5.6l.5 6.9l.5 -9l.5 9.8l.5 -7.5l.5 6.2l.5 -2.9l.5 2.4l.5 -3.9l.5 2.7l.5 -2.2l.5 1.6l.5 -.4l.5 3.4l.5 -6.5l.5 12.2l.5 -12.3l.5 5l.5 -4.8l.5 6.2l.5 -4.6l.5 1.8l.5 -10.6l.5 12.3l.5 -5.2l.5 4.2l.5 -2.6l.5 4l.5 -7.6l.5 10.4l.5 -8.7l.5 3.8l.5 -3.9l.5 7.2l.5 -3.8l.5 5.4l.5 -7.9l.5 7.7l.5 -7l.5 5.3l.5 -5.4l.5 6l.5 -10.1l.5 10.7l.5 -5.3l.5 4.3l.5 -3.5l.5 .1l.5 -1.3l.5 1.6l.5 -2.4l.5 4.8l.5 -3.4l.5 4.9l.5 -8.9l.5 5.4l.5 -2.4l.5 2.3l.5 -6.3l.5 7.7l.5 -4.4l.5 6.5l.5 -8.8l.5 5.6l.5 -2.1l.5 4.3l.5 -9l.5 12.1l.5 -8.9l.5 5l.5 -4.8l.5 13.7l.5 -12l.5 1.5l.5 -3.8l.5 3.8l.5 -2.4l.5 2.3l.5 -.9l.5 1.8l.5 -2.7l.5 2.3l.5 -4.9l.5 7.2l.5 -6.6l.5 5.8l.5 -12.5l.5 10.1l.5 -.9l.5 3.9l.5 -5.6l.5 7.3l.5 -9.6l.5 5.8l.5 -3.1l.5 6.8l.5 -6.8l.5 2.9l.5 -5.8l.5 6.5l.5 -7l.5 9l.5 -8.5l.5 9.5l.5 -10.6l.5 8.6l.5 -4.3l.5 6.6l.5 -8.5l.5 5.2l.5 -3l.5 2.9l.5 -4.5l.5 8.4l.5 -7.3l.5 6.2l.5 -9.4l.5 9.1l.5 -6l.5 4.4l.5 -6.4l.5 7l.5 -4.1l.5 3.6l.5 -6.4l.5 3.7l.5 -3.9l.5 10.5l.5 -8.9l.5 2.7l.5 -3.5l.5 3.3l.5 -.7l.5 .6l.5 -3.1l.5 6l.5 -10.1l.5 9.8l.5 -5.3l.5 9.2l.5 -7.2l.5 1.8l.5 -4l.5 4.9l.5 -9.1l.5 7.2l.5 -3.3l.5 4.3l.5 -3l.5 6.8l.5 -5.9l.5 1l.5 -1.8l.5 2.4l.5 -3.2l.5 2.6l.5 -4.6l.5 5.3l.5 -4.1l.5 4.1l.5 -2l.5 1.6l.5 -9l.5 14.2l.5 -8.9l.5 9.7l.5 -15.8l.5 12.3l.5 -5.4l.5 2.9l.5 -4.2l.5 5.2l.5 -3l.5 4.9l.5 -7l.5 3.9l.5 -4.4l.5 4.7l.5 -3.7l.5 3.2l.5 -6.2l.5 7.7l.5 -2.9l.5 2.2l.5 -1.4l.5 1.3l.5 -2l.5 1.2l.5 -2.2l.5 2.8l.5 -2.7l.5 4l.5 -6.9l.5 11.6l.5 -7.5l.5 6.6l.5 -8.7l.5 4.9l.5 -3.8l.5 5.9l.5 -8.3l.5 5.3l.5 -4.2l.5 3.2l.5 -2.2l.5 3.6l.5 -2.2l.5 3.6l.5 -3.4l.5 .5l.5 -2.1l.5 4.9l.5 -9l.5 10.2l.5 -5.1l.5 8.2l.5 -9.1l.5 3.8l.5 -6.4l.5 6.9l.5 -4.2l.5 1.9l.5 -.6l.5 5.5l.5 -12.8l.5 12.6l.5 -7.6l.5 5.7l.5 -8.7l.5 7.8l.5 -5.5l.5 4.6l.5 -3.6l.5 6.7l.5 -6.1l.5 2l.5 -6.7l.5 7.7l.5 -4.2l.5 6.6l.5 -5.5l.5 2.1l.5 -3.8l.5 6.2l.5 -3.4l.5 4.6l.5 -7.4l.5 3.6l.5 -4.2l.5 8.2l.5 -5.1l.5 1.9l.5 -4l.5 7.2l.5 -11.1l.5 13.2l.5 -6.7l.5 4.9l.5 -8.3l.5 7.1l.5 -5.5l.5 6.3l.5 -6.8l.5 6.1l.5 -9.4l.5 11.7l.5 -5.9l.5 3.9l.5 -5.6l.5 3l.5 -2.9l.5 6.2l.5 -5.2l.5 4.9l.5 -4.4l.5 1.8l.5 -3l.5 4.1l.5 -4.4l.5 1.6l.5 -1.5l.5 8.4l.5 -12.5l.5 7.4l.5 -3.6l.5 5.6l.5 -12.3l.5 12.8l.5 -6l.5 8.8l.5 -7.3l.5 8.2l.5 -9.5l.5 3l.5 -2.1l.5 3.5l.5 -7.3l.5 7.5l.5 -3.5l.5 1.4l.5 -3.3l.5 8.3l.5 -8l.5 4.7l.5 -4.2l.5 6.2l.5 -12.3l.5 10l.5 -6.5l.5 5.5l.5 -7.6l.5 10.7l.5 -12.3l.5 8.4l.5 -2.7l.5 2.7l.5 -3.4l.5 5.5l.5 -10.4l.5 11l.5 -10.3l.5 9.2l.5 -4l.5 5.9l.5 -6.2l.5 6.8l.5 -5l.5 3.4l.5 -5.9l.5 2.7l.5 -3.8l.5 5.5l.5 -9.3l.5 9.3l.5 -3.9l.5 3.3l.5 -3.9l.5 3.9l.5 -1.7l.5 2.9l.5 -5l.5 2.8l.5 -1.5l.5 4.1l.5 -4.8l.5 11l.5 -11.8l.5 4.8l.5 -10.9l.5 13.9l.5 -5l.5 1.4l.5 -7.1l.5 6.6l.5 -.9l.5 5.4l.5 -13.7l.5 8.7l.5 -5.5l.5 7.5l.5 -3.4l.5 2.9l.5 -3l.5 6.6l.5 -7.8l.5 7.7l.5 -5.7l.5 4.1l.5 -8.8l.5 6.9l.5 -2.8l.5 3.3l.5 -11l.5 8.9l.5 -1.8l.5 1.9l.5 -4.8l.5 8.3l.5 -6.1l.5 5.4l.5 -6.4l.5 3.4l.5 -.2l.5 4.3l.5 -9.1l.5 7.4l.5 -7.1l.5 6l.5 -4.2l.5 7.7l.5 -5.9l.5 5.2l.5 -7l.5 6.8l.5 -4.5l.5 7.9l.5 -9.7l.5 4.6l.5 -4.7l.5 4.1l.5 -7.7l.5 6.7l.5 -3.8l.5 7.3l.5 -4.3l.5 1.5l.5 -1.5l.5 3.3l.5 -8.6l.5 8.5l.5 -8.5l.5 7.1l.5 -2.3l.5 1l.5 -1.4l.5 2.5l.5 -9l.5 9.9l.5 -8.7l.5 8.8l.5 -8.8l.5 9.2l.5 -3.3l.5 14.7l.5 -16.8l.5 7.7l.5 -9.2l.5 11.4l.5 -11l.5 4.1l.5 -.6l.5 6l.5 -9.6l.5 6.6l.5 -4.9l.5 5.3l.5 -4.2l.5 3.5l.5 -6.5l.5 6.2l.5 -9l.5 8.1l.5 -2l.5 3l.5 -6.9l.5 7.2l.5 -2.7l.5 5l.5 -7l.5 3.4l.5 -2.4l.5 2.6l.5 -4l.5 3.5l.5 -8l.5 12.1l.5 -8.7l.5 10.5l.5 -8l.5 12.8l.5 -16.1l.5 6.2l.5 -5.2l.5 8.4l.5 -5.7l.5 2l.5 -1.4l.5 7.5l.5 -15.1l.5 10.5l.5 -3l.5 1.8l.5 -1.8l.5 2.6l.5 -4l.5 4.2l.5 -3.3l.5 3.4l.5 -5.1l.5 9.1l.5 -8.9l.5 2.9l.5 -4.6l.5 5.5l.5 -3.3l.5 5.2l.5 -6.4l.5 7l.5 -6.8l.5 4.1l.5 -5.9l.5 5.3l.5 -.9l.5 3.1l.5 -5.8l.5 3.6l.5 -4.2l.5 4.2l.5 -8l.5 7.5l.5 -4.6l.5 5.2l.5 -2.4l.5 6.3l.5 -6.3l.5 3.7l.5 -3l.5 2.5l.5 -9.2l.5 10.3l.5 -7l.5 7.3l.5 -6.5l.5 4.2l.5 -3.5l.5 5.8l.5 -5.1l.5 4.5l.5 -6.7l.5 9.6l.5 -10.8l.5 10.9l.5 -6.7l.5 4.6l.5 -3.6l.5 1.3l.5 -8.8l.5 12.1l.5 -8.6l.5 9.2l.5 -13.4l.5 9l.5 -2.5l.5 4.5l.5 -7l.5 8.9l.5 -6.6l.5 3l.5 -3.6l.5 3.5l.5 -4.4l.5 5.8l.5 -6.9l.5 5.2l.5 -.3l.5 5.3l.5 -8.8l.5 7.2l.5 -6.1l.5 3.4l.5 -4.6l.5 6.1l.5 -3.7l.5 3.1l.5 -1.7l.5 1.7l.5 -4.4l.5 3.9l.5 -6.1l.5 7.8l.5 -4.2l.5 5l.5 -8.5l.5 9.3l.5 -4.5l.5 4.6l.5 -6.7l.5 3.8l.5 -3.9l.5 3l.5 -5.2l.5 5.5l.5 -3.3l.5 11.5l.5 -13.5l.5 9.1l.5 -8.4l.5 7.1l.5 -3.5l.5 4.9l.5 -7l.5 8.5l.5 -12.1l.5 8.4l.5 -3.5l.5 1.8l.5 -3.8l.5 9.1l.5 -8.6l.5 6.3l.5 -5.3l.5 2.7l.5 -6.9l.5 11.2l.5 -6.2l.5 8.1l.5 -10l.5 5.5l.5 -9.5l.5 12.1l.5 -9.7l.5 9.8l.5 -11.5l.5 10.5l.5 -4.7l.5 4.7l.5 -6.6l.5 6.4l.5 -4.7l.5 .6l.5 -3.2l.5 6.8l.5 -10.3l.5 7.3l.5 -2.6l.5 6.3l.5 -5.6l.5 1.1l.5 -1.6l.5 4.7l.5 -5.4l.5 6.3l.5 -5.2l.5 2.4l.5 -3.5l.5 4.4l.5 -2.9l.5 5.2l.5 -8.4l.5 7.3l.5 -4.9l.5 5.4l.5 -7.7l.5 6.1l.5 -9.1l.5 7.5l.5 -6.9l.5 8l.5 -3.7l.5 6.7l.5 -5.2l.5 1.8l.5 -1.4l.5 2l.5 -3.9l.5 3.1l.5 -2.9l.5 3.3l.5 -3.9l.5 4.3l.5 -3.2l.5 2.1l.5 -1l.5 .9l.5 -1.5l.5 4.6l.5 -4l.5 2.7l.5 -4.6l.5 5.2l.5 -4.9l.5 3.9l.5 -5.4l.5 5.1l.5 -2.5l.5 2.2l.5 -2.1l.5 1.5l.5 -8.8l.5 8.6l.5 -4.7l.5 4.5l.5 -2.7l.5 3.2l.5 -2.6l.5 2l.5 -1.9l.5 4.7l.5 -5.5l.5 4l.5 -7.1l.5 5.7l.5 -3.1l.5 5.7l.5 -2.9l.5 .2l.5 -4.8l.5 4.9l.5 -1l.5 9.9l.5 -9.6l.5 1.4l.5 -1.5l.5 1.5l.5 -5l.5 6.9l.5 -3.7l.5 4.2l.5 -5.2l.5 5.9l.5 -7.3l.5 4.8l.5 -7.6l.5 6.9l.5 -4.5l.5 4.4l.5 -1l.5 .6l.5 -6.2l.5 6.7l.5 -1.9l.5 8.1l.5 -9.2l.5 3.9l.5 -2.6l.5 3.2l.5 -2.8l.5 .7l.5 -4.9l.5 6.5l.5 -3.5l.5 5.1l.5 -4.9l.5 8.1l.5 -10.9l.5 5.9l.5 -3.9l.5 7.3l.5 -8.5l.5 7.7l.5 -5.1l.5 5.2l.5 -5.3l.5 3.2l.5 -6.8l.5 6.4l.5 -2.1l.5 4.1l.5 -8.6l.5 5.8l.5 -1.4l.5 2.6l.5 -2.4l.5 2.6l.5 -2.4l.5 .1l.5 -1.7l.5 7l.5 -11.2l.5 6.7l.5 -3.7l.5 4l.5 -6.5l.5 6.4l.5 -2.2l.5 1.9l.5 -6.4l.5 12.2l.5 -8.3l.5 2.8l.5 -4.8l.5 7.9l.5 -8.1l.5 6.3l.5 -3.1l.5 6.3l.5 -9.2l.5 9.5l.5 -10l.5 7.2l.5 -5.7l.5 6.2l.5 -4.9l.5 4.6l.5 -7.9l.5 5.8l.5 -2.9l.5 4.5l.5 -5.4l.5 3.4l.5 -1l.5 .4l.5 -1.2l.5 2.6l.5 -2.9l.5 3.3l.5 -5.4l.5 7.2l.5 -8.2l.5 9l.5 -7.2l.5 8.3l.5 -11.9l.5 6.4l.5 -3.7l.5 4.1l.5 -4.1l.5 4.9l.5 -2l.5 1l.5 -5.7l.5 6.3l.5 -7.2l.5 13.4l.5 -8.3l.5 2.3l.5 -7.4l.5 8.3l.5 -3.9l.5 5.6l.5 -7.2l.5 4.9l.5 -2.3l.5 2.2l.5 -7.1l.5 5.8l.5 -8.4l.5 11l.5 -4.9l.5 3.3l.5 -3.5l.5 5.4l.5 -5.7l.5 6.3l.5 -4.8l.5 3l.5 -2.5l.5 3.6l.5 -7.1l.5 9l.5 -9.8l.5 10.2l.5 -12.1l.5 6.9l.5 -2.2l.5 3.6l.5 -2.5l.5 4.6l.5 -3.8l.5 6.1l.5 -7.8l.5 7.1l.5 -8.6l.5 8.6l.5 -11.7l.5 9.5l.5 -5.7l.5 3.6l.5 -2.6l.5 4.9l.5 -3.7l.5 .9l.5 -.9l.5 .6l.5 -6.8l.5 8.8l.5 -4.8l.5 3.7l.5 -2.6l.5 2.7l.5 -1.9l.5 1.9l.5 -2.2l.5 4.7l.5 -4.3l.5 3.3l.5 -5.2l.5 5.2l.5 -5.3l.5 6.7l.5 -7.8l.5 3.8l.5 -1l.5 1.1l.5 -2.3l.5 3.6l.5 -7l.5 6.2l.5 -1.1l.5 2.5l.5 -2.6l.5 4.1l.5 -4.7l.5 3.5l.5 -4.3l.5 5.1l.5 -6l.5 5l.5 -3.7l.5 1.6l.5 -4.8l.5 7.7l.5 -5.3l.5 3.7l.5 -6.7l.5 8.9l.5 -5.1l.5 7.6l.5 -12.8l.5 10.4l.5 -4.9l.5 7.3l.5 -11.7l.5 7.8l.5 -10.6l.5 9.5l.5 -5l.5 4.3l.5 -3.4l.5 4.6l.5 -9.3l.5 13.4l.5 -11.7l.5 5.9l.5 -5.6l.5 6.4l.5 -1.5l.5 2l.5 -4l.5 6.8l.5 -6.6l.5 3.3l.5 -2.7l.5 2.4l.5 -8.2l.5 7.9l.5 -4.3l.5 3.7l.5 -4.1l.5 4.4l.5 -5.1l.5 5.1l.5 -1.8l.5 2.5l.5 -2l.5 1.7l.5 -3.6l.5 2.6l.5 -4.5l.5 8.5l.5 -6.7l.5 3.9l.5 -4.8l.5 4l.5 -1.8l.5 7.5l.5 -9l.5 3.7l.5 -6.8l.5 12.7l.5 -9.3l.5 2.3l.5 -3.5l.5 3.6l.5 -1.1l.5 1.1l.5 -2.3l.5 4.1l.5 -3.5l.5 4.1l.5 -3.6l.5 2.5l.5 -7.4l.5 10.9l.5 -9.1l.5 4.6l.5 -4.7l.5 10.4l.5 -8.4l.5 5.5l.5 -4.9l.5 2.6l.5 -2.4l.5 1l.5 -2.5l.5 3l.5 -2.5l.5 4.9l.5 -4.2l.5 3.8l.5 -8l.5 6.7l.5 -3.8l.5 3.7l.5 -4.1l.5 5l.5 -7.7l.5 6.2l.5 -4.9l.5 4.9l.5 -8.5l.5 10.1l.5 -5.5l.5 3.7l.5 -.9l.5 .4l.5 -6.4l.5 9.1l.5 -3.5l.5 6.1l.5 -6.2l.5 .8l.5 -3l.5 6.3l.5 -4.2l.5 1.4l.5 -3.3l.5 5.9l.5 -3.9l.5 2.7l.5 -4.5l.5 5l.5 -3.5l.5 2.6l.5 -7.5l.5 7l.5 -3.9l.5 5.8l.5 -4.9l.5 4.6l.5 -4.9l.5 7.7l.5 -8l.5 2.8l.5 -1.3l.5 5l.5 -6.7l.5 7.5l.5 -6.1l.5 4.8l.5 -6.1l.5 2.1l.5 -6.2l.5 7.2l.5 -1.6l.5 7.2l.5 -7.8l.5 2.6l.5 -4.3l.5 7.4l.5 -6.4l.5 5.4l.5 -5.3l.5 4.5l.5 -4.4l.5 1l.5 -.5l.5 1.9l.5 -1.7l.5 1.3l.5 -4.6l.5 9.5l.5 -9.9l.5 4.6l.5 -5.4l.5 9.5l.5 -12.4l.5 9.6l.5 -4.2l.5 2.9l.5 -2.5l.5 3.3l.5 -4.4l.5 7.1l.5 -5.3l.5 5.5l.5 -9.2l.5 9.4l.5 -6.1l.5 4.6l.5 -4.9l.5 1.5l.5 -2.2l.5 4.7l.5 -5.9l.5 5.9l.5 -9.1l.5 10.1l.5 -6.8l.5 7.8l.5 -7.7l.5 5.3l.5 -5.4l.5 5.3l.5 -3.1l.5 2.2l.5 -4.7l.5 4.6l.5 -4.5l.5 5.2l.5 -4l.5 2.4l.5 -3.8l.5 3.5l.5 -4.2l.5 3.5l.5 -2.3l.5 3.6l.5 -2.3l.5 5.3l.5 -7.1l.5 6.7l.5 -6.4l.5 2.2l.5 -1l.5 4.9l.5 -5.9l.5 5.5l.5 -6.2l.5 4.7l.5 -4.8l.5 3.8l.5 -1.7l.5 .6l.5 -5.1l.5 10.1l.5 -6.9l.5 3.3l.5 -3.6l.5 2.7l.5 -3.9l.5 3.6l.5 -3.3l.5 6.4l.5 -5.4l.5 5.8l.5 -5.1l.5 5.8l.5 -8l.5 9.1l.5 -6.8l.5 .1l.5 -3.8l.5 4.4l.5 -2.5l.5 2.2l.5 -1.5l.5 3l.5 -3.3l.5 3.2l.5 -2.1l.5 .9l.5 -1.4l.5 2l.5 -5.3l.5 5.6l.5 -9.5l.5 11.5l.5 -9.7l.5 6.5l.5 -10.3l.5 10.8l.5 -3.1l.5 3l.5 -2.2l.5 1.2l.5 -3.7l.5 3.4l.5 -.5l.5 3.3l.5 -4.8l.5 2.9l.5 -1.9l.5 2.8l.5 -6.1l.5 4.7l.5 -9.4l.5 13.3l.5 -8l.5 3.9l.5 -3.6l.5 6.2l.5 -5.8l.5 2.6l.5 -4.9l.5 5.2l.5 -3.8l.5 4.2l.5 -7.1l.5 10.1l.5 -4.8l.5 3.1l.5 -8.1l.5 8.7l.5 -4.5l.5 1.4l.5 -1.1l.5 .7l.5 -2.4l.5 3.6l.5 -6.3l.5 9.1l.5 -8.1l.5 4.5l.5 -3.9l.5 6.1l.5 -7.5l.5 6.6l.5 -4.8l.5 3.1l.5 -7.9l.5 8.9l.5 -8.3l.5 7.4l.5 -3.5l.5 4l.5 -4.3l.5 4.4l.5 -4.8l.5 9l.5 -8.3l.5 3l.5 -1.8l.5 2.1l.5 -3l.5 7.9l.5 -8.8l.5 4.6l.5 -7.4l.5 5.6l.5 -3.4l.5 4.7l.5 -5.2l.5 8.1l.5 -6.7l.5 4l.5 -8.2l.5 10.4l.5 -12.2l.5 10.7l.5 -6.1l.5 3.1l.5 -.9l.5 4.9l.5 -11.3l.5 12.2l.5 -8.3l.5 2.7l.5 -7.5l.5 7.6l.5 -2.8l.5 3.9l.5 -5.4l.5 6.5l.5 -5.7l.5 4.5l.5 -2.3l.5 3.9l.5 -9.6l.5 8l.5 -4.5l.5 4.3l.5 -2.1l.5 2.1l.5 -4.6l.5 4.8l.5 -5.3l.5 7.5l.5 -5.8l.5 3.1l.5 -2.7l.5 1.5l.5 -6.3l.5 5.9l.5 -4.5l.5 5.2l.5 -2.3l.5 2.1l.5 -3.5l.5 5.5l.5 -7l.5 6l.5 -4.2l.5 7.2l.5 -6.2l.5 6.8l.5 -10.7l.5 4.8l.5 -3.1l.5 2.3l.5 -3.9l.5 4.1l.5 -8.4l.5 8.5l.5 -2l.5 1.4l.5 -7.1l.5 10.5l.5 -6.3l.5 6.9l.5 -6.3l.5 1.6l.5 -4.1l.5 6.9l.5 -3.9l.5 5.4l.5 -7.1l.5 2.5l.5 -3l.5 10l.5 -9.5l.5 5.7l.5 -4.7l.5 3.9l.5 -3.7l.5 2.8l.5 -11.4l.5 12.5l.5 -4.9l.5 5.3l.5 -6.7l.5 5.4l.5 -3.5l.5 5.6l.5 -9.4l.5 9.8l.5 -8.1l.5 5.9l.5 -7.5l.5 7.8l.5 -7.8l.5 5.8l.5 -7.4l.5 11.2l.5 -8.7l.5 3.3l.5 -3.7l.5 5.3l.5 -6.9l.5 7.5l.5 -6l.5 7l.5 -9.2l.5 5.8l.5 -4.2l.5 7.1l.5 -4.8l.5 2.7l.5 -6.5l.5 5.8l.5 -8.6l.5 8.1l.5 -7.2l.5 7.4l.5 -6.5l.5 8.8l.5 -7.3l.5 3.8l.5 -7.2l.5 10l.5 -5.6l.5 9.2l.5 -9.3l.5 8.6l.5 -8.3l.5 3l.5 -2.2l.5 7.8l.5 -11.8l.5 8.7l.5 -9.1l.5 4.4l.5 -4.3l.5 6.9l.5 -5.4l.5 11.3l.5 -11.7l.5 4.1l.5 -3.3l.5 7l.5 -7.8l.5 5.5l.5 -8.8l.5 6.4l.5 -7.4l.5 8.3l.5 -5.9l.5 4.7l.5 -1.3l.5 2.2l.5 -5.9l.5 6l.5 -11.5l.5 10l.5 -7.6l.5 6.8l.5 -4l.5 3.8l.5 -1l.5 1.4l.5 -3l.5 3.5l.5 -5.1l.5 3.5l.5 -6l.5 8.6l.5 -3.7l.5 1.8l.5 -6.2l.5 5.9l.5 -4.4l.5 4.3l.5 -4.9l.5 6.3l.5 -5.9l.5 3.1l.5 -9.8l.5 10l.5 -4.5l.5 4.4l.5 -3.4l.5 5.7l.5 -6.7l.5 5.3l.5 -2.6l.5 2.6l.5 -3.8l.5 5.8l.5 -4.6l.5 .4l.5 -3.7l.5 3.4l.5 -4.7l.5 7.5l.5 -8.6l.5 9.8l.5 -5.5l.5 .7l.5 -3.8l.5 7.6l.5 -6l.5 3.7l.5 -7.7l.5 6l.5 -5.5l.5 8.3l.5 -4.7l.5 5.6l.5 -5.7l.5 1.4l.5 -4.1l.5 4.7l.5 -1.7l.5 3l.5 -6l.5 5.1l.5 -6.9l.5 7l.5 -4.3l.5 2.5l.5 -2.1l.5 9.1l.5 -8.4l.5 1.7l.5 -6.1l.5 5.6l.5 -2.6l.5 2.9l.5 -3.5l.5 3.8l.5 -4.9l.5 6l.5 -4.8l.5 2.5l.5 -3.4l.5 5.9l.5 -6.6l.5 6.1l.5 -6.9l.5 4.1l.5 -3.3l.5 2.4l.5 -4.3l.5 7.6l.5 -7.8l.5 3.7l.5 -.9l.5 2.4l.5 -7l.5 6l.5 -4.6l.5 3.9l.5 -.7l.5 2.6l.5 -8.1l.5 10.1l.5 -10.2l.5 9.1l.5 -9l.5 5.6l.5 -3.9l.5 4.6l.5 -3.3l.5 3l.5 -2.6l.5 7.1l.5 -10.3l.5 7l.5 -3.9l.5 3.7l.5 -8l.5 4.6l.5 -2l.5 2.8l.5 -3.8l.5 7.9l.5 -10.3l.5 5.9l.5 -7.8l.5 7.1l.5 -3.9l.5 5.9l.5 -8.5l.5 5.3l.5 -1.6l.5 4.3l.5 -5l.5 2.9l.5 -2.7l.5 3.2l.5 -2.3l.5 3.9l.5 -7.2l.5 3.8l.5 -8.9l.5 8.3l.5 -2l.5 3.5l.5 -4.2l.5 5.4l.5 -5.1l.5 7l.5 -8.6l.5 8.2l.5 -6.9l.5 3.3l.5 -8.5l.5 9.6l.5 -9.1l.5 9l.5 -5.5l.5 2.8l.5 -6.6l.5 10.1l.5 -6l.5 7.2l.5 -7.4l.5 1.3l.5 -2.4l.5 2.5l.5 -4.6l.5 5.6l.5 -8.4l.5 7.6l.5 -2.9l.5 1.3l.5 -2.6l.5 2.7l.5 -5.3l.5 4.6l.5 -6.3l.5 12.7l.5 -7.3l.5 5l.5 -5.6l.5 .7l.5 -2.3l.5 2.4l.5 -3.4l.5 3.2l.5 -1.6l.5 2l.5 -3.4l.5 2.5l.5 -9.8l.5 11.9l.5 -3.5l.5 1.7l.5 -2.6l.5 3.3l.5 -2.9l.5 .6l.5 -.7l.5 1.8l.5 -4.9l.5 4.3l.5 -3.5l.5 2l.5 -4.2l.5 4l.5 -1.9l.5 4.6l.5 -5.6l.5 2.6l.5 -4.1l.5 5.6l.5 -5.8l.5 5.5l.5 -13.4l.5 16.8l.5 -8.9l.5 5.8l.5 -4.3l.5 2.4l.5 -5.7l.5 6.9l.5 -3.6l.5 2.1l.5 -4.9l.5 2.8l.5 -2.4l.5 3l.5 -3.2l.5 2.6l.5 -2.2l.5 2.8l.5 -1.9l.5 .8l.5 -6.7l.5 8.8l.5 -3.9l.5 1.1l.5 -1.5l.5 2l.5 -2.5l.5 2.2l.5 -6.1l.5 5.2l.5 -1.8l.5 5.2l.5 -7.9l.5 6.8l.5 -10.4l.5 7.3l.5 -3.2l.5 4.3l.5 -6.6l.5 4l.5 -.6l.5 1.5l.5 -3l.5 3.3l.5 -2.1l.5 2.8l.5 -4.7l.5 8.8l.5 -10.3l.5 4.1l.5 -4.9l.5 5l.5 -4.4l.5 2.5l.5 -3.1l.5 5.5l.5 -6.1l.5 3.8l.5 -2.1l.5 1.3l.5 -3.4l.5 3l.5 -1.2l.5 1.5l.5 -1.4l.5 .7l.5 -7l.5 8.3l.5 -2.7l.5 2.7l.5 -8.3l.5 12l.5 -11.9l.5 7.1l.5 -4.1l.5 3l.5 -2.9l.5 5.2l.5 -7.2l.5 7.8l.5 -7.8l.5 8.7l.5 -6.9l.5 2.6l.5 -6.5l.5 6l.5 -2.4l.5 1.5l.5 -4.6l.5 5.3l.5 -4.1l.5 2.1l.5 -4.1l.5 3.7l.5 -1.1l.5 1l.5 -3l.5 2.2l.5 -1.1l.5 .9l.5 -2.2l.5 2.6l.5 -2.4l.5 .9l.5 -2.1l.5 3.9l.5 -7.6l.5 6.3l.5 -3.5l.5 2.2l.5 -5.1l.5 6.5l.5 -3.6l.5 4.9l.5 -7.4l.5 6.4l.5 -4.9l.5 1.7l.5 -7.7l.5 10.1l.5 -5.7l.5 2.2l.5 -5.5l.5 5.7l.5 -4.3l.5 5.4l.5 -2.7l.5 1.7l.5 -2.9l.5 2.2l.5 -5.6l.5 6.4l.5 -8l.5 6l.5 -5l.5 4.4l.5 -1.2l.5 2.1l.5 -4.7l.5 2.5l.5 -4.4l.5 8.7l.5 -6.8l.5 2.1l.5 -1.9l.5 1.1l.5 -1.6l.5 4.2l.5 -9.1l.5 7.7l.5 -5.9l.5 3.5l.5 -3.2l.5 4.3l.5 -3.5l.5 2.1l.5 -4.3l.5 7.6l.5 -7.8l.5 3.5l.5 -3.4l.5 4l.5 -2.3l.5 1.1l.5 -.9l.5 2.2l.5 -3.6l.5 2.6l.5 -2l.5 1.9l.5 -4.3l.5 6.3l.5 -6.3l.5 4l.5 -3.5l.5 2.3l.5 -4.3l.5 3.2l.5 -2.5l.5 3.3l.5 -4.3l.5 2.2l.5 -1.9l.5 5.8l.5 -5.4l.5 3.5l.5 -4.1l.5 4.5l.5 -5.6l.5 3.7l.5 -6.5l.5 5.7l.5 -6.6l.5 4.8l.5 -1.3l.5 .9l.5 -1.5l.5 .7l.5 -1.3l.5 2l.5 -2.5l.5 1.3l.5 -3.8l.5 4.8l.5 -3.1l.5 1.6l.5 -2.3l.5 1.2l.5 -1.9l.5 2.1l.5 -1.8l.5 .7l.5 -2.1l.5 3.7l.5 -5.5l.5 3l.5 -2.3l.5 1.2l.5 -1l.5 .9l.5 -3.6l.5 3.2l.5 -1.4l.5 2.3l.5 -4.1l.5 5.4l.5 -5.8l.5 3l.5 -5.7l.5 3.9l.5 -3.2l.5 5.6l.5 -3.5l.5 2.4l.5 -3.2l.5 6.3l.5 -9.1l.5 8.5l.5 -7.5l.5 4.9l.5 -6.8l.5 6.3l.5 -6.2l.5 2.3l.5 -1.2l.5 1.1l.5 -1.4l.5 2.4l.5 -5.1l.5 7l.5 -6.5l.5 2.9l.5 -4.2l.5 4.2l.5 -4l.5 3.6l.5 -2.3l.5 1.5l.5 -4.4l.5 3.6l.5 -2.6l.5 2l.5 -3.9l.5 2.2l.5 -1.8l.5 3.3l.5 -4.9l.5 2.8l.5 -2.4l.5 4l.5 -4.8l.5 3.7l.5 -4.1l.5 3.3l.5 -5l.5 5.8l.5 -4.1l.5 1.6l.5 -6.4l.5 7.5l.5 -4.4l.5 1.4l.5 -1.8l.5 2.5l.5 -2.8l.5 2l.5 -2.2l.5 .9l.5 -3.2l.5 4.4l.5 -4.3l.5 3.5l.5 -2.5l.5 1.6l.5 -2.7l.5 1.3l.5 -3.6l.5 4.2l.5 -3.7l.5 3.6l.5 -2.6l.5 3.3l.5 -5.1l.5 1.9l.5 -3.3l.5 2.3l.5 -1.1l.5 .3l.5 -1.2l.5 1.1l.5 -2.2l.5 2l.5 -1.8l.5 1.5l.5 -2.6l.5 2.8l.5 -4.2l.5 1.8l.5 -2.2l.5 2.5l.5 -2.2l.5 1.8l.5 -4.2l.5 4l.5 -3.8l.5 1.7l.5 -3.1l.5 5.4l.5 -3.8l.5 2.9l.5 -7.2l.5 8.5l.5 -7l.5 3.8l.5 -3.4l.5 1.9l.5 -2l.5 1.2l.5 -1.8l.5 1.1l.5 -2.1l.5 2.8l.5 -3.6l.5 6.4l.5 -6.9l.5 3.1l.5 -4.5l.5 3.3l.5 -3l.5 3.9l.5 -3.9l.5 1.1l.5 -2.5l.5 1.1l.5 -3.8l.5 5l.5 -3.5l.5 .8l.5 -1l.5 2.1l.5 -3.6l.5 2.2l.5 -2.2l.5 .9l.5 -1l.5 .3l.5 -.7l.5 1.2l.5 -2.9l.5 .9l.5 -1.4l.5 1.7l.5 -2.5l.5 1.3l.5 -2.4l.5 1.6l.5 -2.6l.5 2.2l.5 -1.6l.5 2.5l.5 -3.9l.5 1.7l.5 -4l.5 2.8l.5 -1.5l.5 1.4l.5 -1.2l.5 .7l.5 -2l.5 1.2l.5 -2.1l.5 .9l.5 -1.8l.5 1.6l.5 -1.9l.5 2.1l.5 -2.1l.5 2l.5 -4.5l.5 4.8l.5 -6.9l.5 5.1l.5 -5.5l.5 3.9l.5 -4.3l.5 4.1l.5 -2.6l.5 1.5l.5 -2.4l.5 1.8l.5 -3.1l.5 1.5l.5 -2.4l.5 3.4l.5 -4.1l.5 1.3l.5 -.6l.5 -.1l.5 -3l.5 3l.5 -1.8l.5 .7l.5 -2.4l.5 1.5l.5 -1.7l.5 1.6l.5 -2.6l.5 3l.5 -4.5l.5 2l.5 -1.7l.5 1.1l.5 -1.6l.5 .2l.5 -1.3l.5 1.5l.5 -1.6l.5 .1l.5 -.8l.5 .9l.5 -2.2l.5 .4l.5 -1.5l.5 2.8l.5 -3.3l.5 1.2l.5 -2l.5 .6l.5 -2.4l.5 1.5l.5 -.8l.5 .3l.5 -2.8l.5 1.8l.5 -1.3l.5 1.1l1 -2.2l1 .4l1 -2.9l1 1.2l1 -1.5l1 -.2l1 -1.5l1 .1l1 -2.5l1 .3l1 -1.5l1 -.2l1 -2.1l1 1.2l1 -2.6l1 -.1l1 -1.5l1 .7l1 -2.6l1 .4l1 -3.2l1 1.3l1 -2.1l1 .5l1 -3.2l1 1.1l1 -1.6l1 .2l1 -1.6l1 .3l1 -2.4l1 -.6l1 -1.5l1 .7l1 -2.5l1 .5l1 -2l1 0l1 -3l1 1.4l1 -2.7l1 0l1 -2.1l1 .8l1 -2.1l1 -.5l1 -2.1l1 .5l1 -1.5l1 -.5l1 -1.3l1 -.8l1 -1.5l1 -.4l1 -1.6l1 -.5l1 -1.2l1 -.5l1 -2.5l1 .7l1 -2.8l1 .5l1 -1.5l1 0l1 -2l1 -.3l1 -1.7l1 .2l1 -2.5l1 .2l1 -1.7l1 -.7l1 -1.7l1 -.4l1 -3.1l1 1.4l1 -2.2l1 .2l1 -1.8l1 -.3l1 -2.8l1 1.9l1 -2.7l1 -.9l1 -1.4l1 .4l1 -2.4l1 -.1l1 -2l1 -.2l1 -3.2l1 1.9l1 -3l1 .5l1 -2.3l1 1.8l1 -4.4l1 0l1 -1.6l1 -.1l1 -2.3l1 0l1 -2.3l1 1l1 -2.6l1 .5l1 -3.2l1 .2l1 -2.2l1 .6l1 -1.9l1 -.6l1 -2l1 -.2l1 -3l1 .6l1 -2.1l1 1.7l1 -3.3l1 -.3l1 -2.1l1 .3l1 -2.8l1 1.4l1 -3l1 0l1 -3.3l1 1l1 -1.7l1 .3l1 -2.8l1 .5l1 -1.8l1 -.3l1 -1.8l1 -1l1 -1.4l1 -.5l1 -2.8l1 1l1 -2.7l1 .4l1 -1.5l1 -.6l1 -1.7l1 0l1 -2.5l1 .2l1 -1.8l1 .4l1 -3l1 .7l1 -2.4l1 -.3l1 -2l1 -.1l1 -2.1l1 .7l1 -2.3l1 -.3l1 -2.5l1 .4l1 -2.7l1 .5l1 -2.3l1 .2l1 -1.4l1 -.5l1 -2.6l1 .5l1 -1.3l1 -.5l1 -1.9l1 .9l1 -2.5l1 -.6l1 -1.6l1 -.4l1 -1.7l1 .3l1 -2.1l1 0l1 -2l1 -.3l1 -2.7l1 1.1l1 -3.4l1 .9l1 -1.4l1 .1l1 -1.9l1 .6l1 -2.4l1 -.4l1 -2.6l1 1.1l1 -1.9l1 -.5l1 -1.9l1 .1l1 -1.9l1 .2l1 -2l1 .6l1 -2.1l1 .5l1 -3.9l1 .6l1 -2.3l1 1.2l1 -2.7l1 1.5l1 -2.9l1 -.3l1 -2.1l1 1l1 -2.5l1 -.1l1 -1.5l1 .7l1 -2.6l1 0l1 -1.1l1 -.6l1 -2l1 .3l1 -1.3l1 -.5l1 -1.6l1 .4l1 -2.3l1 .1l1 -2.1l1 0l1 -1.4l1 .3l1 -2.2l1 .2l1 -2.5l1 1.5l1 -2.9l1 0l1 -1.3l1 .3l1 -1.7l1 -.7l1 -1.8l1 .5l1 -1.6l1 .5l1 -2.7l1 .5l1 -2l1 .3l1 -1.7l1 -.1l1 -1.4l1 .4l1 -2.1l1 .6l1 -2.4l1 -.4l1 -1.7l1 .3l1 -1.8l1 .1l1 -1.7l1 1.4l1 -2.5l1 .8l1 -3l1 .4l1 -1.3l1 .1l1 -2.3l1 0l1 -1l1 .3l1 -2l1 .3l1 -1.7l1 -.1l1 -1.3l1 .2l1 -2.2l1 .3l1 -1.4l1 0l1 -1.8l1 .2l1 -1.5l1 -.2l1 -1.9l1 .5l1 -1.4l1 -.4l1 -1.3l1 1.2l1 -3.6l1 1.3l1 -2.6l1 1.8l1 -3.2l1 .6l1 -2l1 .6l1 -1.4l1 -.1l1 -1.3l1 -.3l1 -2.1l1 1.6l1 -2.4l1 .9l1 -1.8l1 -.2l1 -1.2l1 -.2l1 -1l1 .7l1 -2.3l1 .3l1 -1.6l1 .4l1 -2.1l1 .1l1 -1.9l1 1.6l1 -2.8l1 .4l1 -1.4l1 .5l1 -1.9l1 .6l1 -2l1 .8l1 -1.6l1 .9l1 -2.8l1 1.1l1 -1.7l1 .3l1 -2.2l1 .6l1 -1.3l1 0l1 -2.2l1 .5l1 -1.6l1 .9l1 -1.9l1 .9l1 -2.4l1 .9l1 -3l1 1.4l1 -.9l1 -.1l1 -2.1l1 1l1 -1.6l1 .5l1 -2.1l1 .3l1 -.9l1 -.1l1 -1.8l1 1.4l1 -2.1l1 0l1 -1.4M2038 240.5l1 .8l1 -2.3l1 1.7l1 -1.9l1 -.3l1 -1l1 .4l1 -2l1 .8l1 -2.6l1 1.1l1 -1.8l1 1l1 -1.2l1 -.1l1 -1.4l1 1.1l1 -2.3l1 .5l1 -.7l1 -.4l1 -2l1 1.1l1 -.8l1 1.1l1 -2.6l1 .4l1 -1.2l1 -.1l1 -1.2l1 1.2l1 -2.1l1 .3l1 -1.2l1 .6l1 -2.8l1 1.6l1 -.9l1 .8l1 -2.1l1 1.5l1 -2.5l1 .7l1 -1.2l1 0l1 -1l1 0l1 -1.3l1 1l1 -2.8l1 2.2l1 -2.2l1 1.2l1 -2l1 .5l1 -1.2l1 1l1 -2l1 1.2l1 -1.6l1 1.9l1 -4l1 2.2l1 -1.9l1 0l1 -.8l1 1.2l1 -2l1 .4l1 -1.6l1 .5l1 -1.2l1 1.5l1 -2.1l1 .5l1 -2.1l1 1.1l1 -3.2l1 2.1l1 -1.3l1 .7l1 -1l1 .8l1 -2.5l1 1.8l1 -2.2l1 .6l1 -1.6l1 2.4l1 -3.5l1 1.8l1 -2.2l1 1.5l1 -1.6l1 .5l1 -1.8l1 2.3l1 -3.1l1 1.7l1 -1.8l1 .8l1 -1.3l1 .8l1 -1.3l1 .5l1 -1.4l1 1.5l1 -2l1 .5l1 -1.7l1 .9l1 -1.1l1 .9l1 -1.4l1 1l1 -3.3l1 3l1 -1.8l1 .2l1 -1l1 1.2l1 -1.7l1 .1l1 -1.9l1 1.8l1 -1.3l1 .3l1 -.9l1 .5l1 -1l1 .9l1 -1.5l1 .8l1 -1.9l1 1.3l1 -1.7l1 .7l1 -1.2l1 .7l1 -1.2l1 .8l1 -1.5l1 .5l1 -2l1 2.7l1 -1.7l1 .2l1 -1.2l1 1.6l1 -2.3l1 .9l1 -1.6l1 1.4l1 -1.1l1 .3l1 -1.2l1 1.7l1 -1.4l1 .9l1 -1.7l1 .4l1 -.6l1 .2l1 -.6l1 .1l1 -1l1 1.3l1 -2l1 1.9l1 -2.2l1 1.5l1 -1.3l1 .4l1 -.9l1 .6l1 -1.7l1 1.5l1 -1l1 0l1 -.9l1 2.2l1 -3l1 1l1 -.9l1 1.4l1 -1.9l1 .7l1 -.9l1 1.5l1 -1.9l1 .5l1 -.7l1 1.1l1 -1.1l1 .2l1 -.7l1 .5l1 -1.4l1 1.2l1 -.6l1 .6l1 -1.3l1 .9l1 -1.1l1 1.1l1 -1.3l1 .2l1 -1.3l1 2.2l1 -2.4l1 1.2l1 -.4l1 0l1 -.5l1 .4l1 -.6l1 1.4l1 -1.4l1 .3l1 -1.9l1 1.9l1 -1.9l1 2.3l1 -1.7l1 1.3l1 -3.1l1 2.1l1 -1l1 .9l1 -.4l1 .2l1 -.5l1 .3l1 -1.1l1 1.6l1 -1l1 .2l1 -.9l1 1l1 -.9l1 1.3l1 -1.7l1 .7l1 -.3l1 .6l1 -1.1l1 .7l1 -1.2l1 1l1 -.7l1 1.3l1 -1l1 .4l1 -1.2l1 2.1" stroke="#ff0000" stroke-width="6.5"/>
<path d="M277 1559.2l.5 -3l.5 2.2l.5 -.9l.5 2.2l.5 -1.7l.5 .9l.5 -1.9l.5 2.2l.5 -3.3l.5 2.6l.5 -2.1l.5 3.1l.5 -3.6l.5 2.6l.5 -2.7l.5 2.5l.5 -1.7l.5 2.5l.5 -1.6l.5 1.7l.5 -1.7l.5 .8l.5 -.9l.5 1.4l.5 -1.7l.5 3.5l.5 -2.7l.5 1.8l.5 -1.7l.5 2.1l.5 -1.8l.5 .1l.5 -.5l.5 1.9l.5 -2l.5 2.1l.5 -3.5l.5 2.3l.5 -1.9l.5 3.2l.5 -2.6l.5 3.8l.5 -3.2l.5 1.9l.5 -1.6l.5 .2l.5 -2.9l.5 3.1l.5 -.6l.5 1.7l.5 -3l.5 2.7l.5 -2.6l.5 2l.5 -1.6l.5 3.2l.5 -2.8l.5 4.2l.5 -4.3l.5 2l.5 -2.3l.5 2l.5 -.9l.5 2l.5 -2.5l.5 .9l.5 -.3l.5 .9l.5 -1.4l.5 .7l.5 -.5l.5 .5l.5 -1.4l.5 2.5l.5 -3.1l.5 3.5l.5 -3.5l.5 3.2l.5 -1.9l.5 1.9l.5 -2.9l.5 2.2l.5 -2.1l.5 3.3l.5 -2.7l.5 2.6l.5 -2.2l.5 .5l.5 -.6l.5 .7l.5 -2l.5 2.6l.5 -2.5l.5 4.4l.5 -2.9l.5 .8l.5 -.9l.5 1.1l.5 -1.3l.5 1.6l.5 -1.7l.5 1l.5 -.8l.5 .7l.5 -2.8l.5 3.3l.5 -2.9l.5 4.7l.5 -2.9l.5 1.8l.5 -2.6l.5 1.3l.5 -.9l.5 1.7l.5 -2.2l.5 1.4l.5 -1.5l.5 1.9l.5 -1l.5 3.2l.5 -4.3l.5 2l.5 -.7l.5 1.9l.5 -2.9l.5 1.4l.5 -.6l.5 1.3l.5 -.8l.5 1.1l.5 -1.4l.5 1.6l.5 -1.8l.5 1.3l.5 -3.3l.5 3.5l.5 -1.1l.5 1.2l.5 -2.3l.5 1.8l.5 -1.6l.5 2l.5 -3.1l.5 2.2l.5 -2l.5 4.7l.5 -4.2l.5 3l.5 -3.4l.5 2l.5 -2.6l.5 3.1l.5 -1.3l.5 3l.5 -3.4l.5 1.5l.5 -.8l.5 1l.5 -1.8l.5 1.5l.5 -1.8l.5 2.4l.5 -2.2l.5 2.9l.5 -1.7l.5 1.1l.5 -1.8l.5 3.2l.5 -5.1l.5 4l.5 -2.6l.5 2.6l.5 -3.1l.5 5.2l.5 -4.1l.5 1.3l.5 -1.5l.5 1.1l.5 -.5l.5 .4l.5 -2.7l.5 5.7l.5 -3.8l.5 2l.5 -5l.5 5.1l.5 -2.2l.5 .9l.5 -.7l.5 2.1l.5 -2l.5 1.8l.5 -2l.5 1.1l.5 -3l.5 2.7l.5 -1.9l.5 3.3l.5 -3.5l.5 2.8l.5 -3.7l.5 3.8l.5 -.9l.5 1.7l.5 -3.1l.5 2.4l.5 -2.1l.5 2.1l.5 -1.2l.5 2.7l.5 -4.9l.5 3.6l.5 -1.6l.5 2l.5 -1.8l.5 .4l.5 -1.4l.5 1.2l.5 -.1l.5 4l.5 -4.1l.5 2l.5 -3.6l.5 2.1l.5 -1.9l.5 4.7l.5 -3.2l.5 1.3l.5 -4.5l.5 4.9l.5 -3.1l.5 1.9l.5 -1.9l.5 2l.5 -1.2l.5 1.7l.5 -1.6l.5 1l.5 -1.3l.5 1l.5 -2l.5 2.4l.5 -1.4l.5 1.1l.5 -2l.5 2.8l.5 -1.9l.5 1l.5 -1.4l.5 3.6l.5 -2.5l.5 .7l.5 -1l.5 .9l.5 -.8l.5 .8l.5 -1.8l.5 2.7l.5 -3.2l.5 3l.5 -1.6l.5 .5l.5 -.7l.5 1.1l.5 -1.2l.5 2.4l.5 -2.8l.5 3.6l.5 -4.1l.5 1.7l.5 -1l.5 2.8l.5 -4.3l.5 3.5l.5 -1.2l.5 .6l.5 -.6l.5 .4l.5 -.7l.5 2l.5 -3.3l.5 1.8l.5 -.2l.5 .3l.5 -3.5l.5 4.1l.5 -1.2l.5 .8l.5 -.5l.5 1.5l.5 -2.6l.5 2.2l.5 -2.3l.5 2.5l.5 -1.4l.5 1.2l.5 -1.8l.5 2.9l.5 -3.6l.5 3l.5 -3.2l.5 1.8l.5 -1.1l.5 1.9l.5 -1.6l.5 1.9l.5 -1.5l.5 1.6l.5 -4.2l.5 3.2l.5 -1.9l.5 3l.5 -3.4l.5 2.9l.5 -2l.5 2.9l.5 -2.6l.5 4.4l.5 -5.5l.5 4.7l.5 -4.3l.5 2.2l.5 -1.4l.5 3.1l.5 -3.2l.5 .8l.5 -1.8l.5 1.8l.5 -1.1l.5 2l.5 -2l.5 1.1l.5 -.5l.5 1.6l.5 -3l.5 2l.5 -2.8l.5 2.7l.5 -1.8l.5 3.3l.5 -3.4l.5 2.8l.5 -2.9l.5 2.3l.5 -.9l.5 2.6l.5 -2.8l.5 2.4l.5 -4.1l.5 2.7l.5 -.4l.5 1l.5 -2.3l.5 2.1l.5 -1.3l.5 1.1l.5 -.6l.5 .7l.5 -1.2l.5 1.3l.5 -1.3l.5 1.5l.5 -1.8l.5 1.4l.5 -.8l.5 .3l.5 -3.6l.5 7.3l.5 -4.2l.5 .9l.5 -2.4l.5 2.9l.5 -1.3l.5 .3l.5 -2l.5 3.2l.5 -2l.5 1.5l.5 -1l.5 .7l.5 -1.7l.5 2l.5 -1.3l.5 1.8l.5 -1.7l.5 2.8l.5 -2.8l.5 2.1l.5 -2.8l.5 2.2l.5 -2.2l.5 2.6l.5 -2l.5 2.8l.5 -3.2l.5 1l.5 -1l.5 1.4l.5 -2l.5 3.8l.5 -2.8l.5 2.7l.5 -4.7l.5 3.9l.5 -2.1l.5 1.5l.5 -1.3l.5 .8l.5 -1.3l.5 2.3l.5 -2.6l.5 1.6l.5 -.9l.5 .9l.5 -1.8l.5 3.5l.5 -2.5l.5 1.2l.5 -2.4l.5 2.7l.5 -2l.5 2.8l.5 -2.3l.5 1.2l.5 -1l.5 2.6l.5 -4.1l.5 2.2l.5 -1l.5 2.2l.5 -1.7l.5 1.9l.5 -4l.5 2.6l.5 -1.4l.5 1.9l.5 -2.1l.5 1.6l.5 -2.2l.5 2.5l.5 -1.1l.5 3.2l.5 -4l.5 3l.5 -3.5l.5 2.5l.5 -2l.5 2.4l.5 -1.3l.5 1.1l.5 -2.5l.5 1.7l.5 -1.9l.5 2.1l.5 -1.2l.5 1.6l.5 -1l.5 2.7l.5 -4l.5 2.3l.5 -2.4l.5 2.1l.5 -3.1l.5 2.8l.5 -.4l.5 .6l.5 -2.9l.5 3.3l.5 -1.6l.5 1.1l.5 -2.6l.5 3.4l.5 -3.3l.5 3.2l.5 -1.8l.5 1.6l.5 -1.7l.5 1.3l.5 -1.8l.5 1.8l.5 -1.5l.5 1.3l.5 -1l.5 1.1l.5 -1.3l.5 1.5l.5 -1.1l.5 2.3l.5 -3.9l.5 4.3l.5 -3.1l.5 2.2l.5 -4.1l.5 3.8l.5 -2.2l.5 2.4l.5 -2.3l.5 2l.5 -2.4l.5 2.7l.5 -1.4l.5 .6l.5 -4.6l.5 4.3l.5 -.5l.5 .6l.5 -.6l.5 1l.5 -2.1l.5 2l.5 -.9l.5 1.7l.5 -1.6l.5 2.3l.5 -4.1l.5 4.4l.5 -4.7l.5 5.1l.5 -3.1l.5 .4l.5 -1.2l.5 2.5l.5 -4.2l.5 3.1l.5 -.6l.5 3.1l.5 -4.2l.5 2.5l.5 -1.1l.5 .4l.5 -1.9l.5 3.5l.5 -3.5l.5 3.4l.5 -3.5l.5 2.4l.5 -2.4l.5 2l.5 -.4l.5 2.8l.5 -5.4l.5 3.7l.5 -1.5l.5 .9l.5 -1l.5 3l.5 -3l.5 2l.5 -3.8l.5 2.4l.5 -.3l.5 1.8l.5 -3.3l.5 4.1l.5 -3.2l.5 1.3l.5 -.6l.5 1l.5 -4.3l.5 4l.5 -1.4l.5 2.9l.5 -3.2l.5 5.7l.5 -6.3l.5 2.5l.5 -.8l.5 .4l.5 -1.2l.5 1l.5 -.6l.5 .8l.5 -.4l.5 .2l.5 -2.3l.5 4.2l.5 -2.4l.5 1.2l.5 -2.4l.5 4.9l.5 -4.2l.5 2.3l.5 -2.5l.5 1.7l.5 -2.2l.5 1.6l.5 -.1l.5 1.2l.5 -2.5l.5 2.6l.5 -2.5l.5 1.4l.5 -.3l.5 .5l.5 -1.4l.5 2.8l.5 -2.1l.5 2l.5 -2l.5 3.2l.5 -3.8l.5 1.3l.5 -1l.5 1.6l.5 -2.5l.5 2.4l.5 -.9l.5 1.3l.5 -2.4l.5 3.3l.5 -4.2l.5 3.3l.5 -1.4l.5 .6l.5 -3.8l.5 5.1l.5 -2.1l.5 .7l.5 -3.3l.5 4.1l.5 -2.1l.5 1.3l.5 -.4l.5 1.5l.5 -4.2l.5 4.2l.5 -3.1l.5 2.1l.5 -1l.5 1.8l.5 -3.1l.5 4.8l.5 -3.8l.5 2.8l.5 -4.1l.5 5.3l.5 -4l.5 1.9l.5 -5.3l.5 4.6l.5 -3l.5 3.7l.5 -3.7l.5 3.7l.5 -1.9l.5 2.7l.5 -2.6l.5 1.4l.5 -2.7l.5 2.9l.5 -2.2l.5 1.6l.5 -2.5l.5 3.2l.5 -.8l.5 .1l.5 -1.1l.5 2.3l.5 -3.1l.5 2.1l.5 -2.6l.5 3.4l.5 -2.1l.5 2l.5 -3.8l.5 4l.5 -3.4l.5 2.4l.5 -1.3l.5 2l.5 -1l.5 .4l.5 -.7l.5 1.6l.5 -2l.5 3.1l.5 -3l.5 1.6l.5 -2.4l.5 3.7l.5 -2.9l.5 1.4l.5 -.8l.5 .6l.5 -1.6l.5 1.7l.5 -2.1l.5 4.1l.5 -5.3l.5 3.9l.5 -3.5l.5 3.1l.5 -1.6l.5 2.1l.5 -1.4l.5 1l.5 -.8l.5 .9l.5 -2.6l.5 3.6l.5 -3.1l.5 3.8l.5 -3.2l.5 1.3l.5 -1.2l.5 2.3l.5 -3.6l.5 3.2l.5 -2.7l.5 1.7l.5 -.8l.5 .6l.5 -1.1l.5 1.8l.5 -2.4l.5 3.2l.5 -1.7l.5 2l.5 -2.7l.5 1.3l.5 -.8l.5 2.8l.5 -3.6l.5 2.5l.5 -2.7l.5 3.3l.5 -2.2l.5 1.5l.5 -1.4l.5 1.5l.5 -1.8l.5 2.8l.5 -2.9l.5 2.1l.5 -1.8l.5 .9l.5 -.9l.5 1.9l.5 -4.5l.5 3.4l.5 -.9l.5 .7l.5 -.4l.5 .6l.5 -.6l.5 .3l.5 -1.7l.5 2.4l.5 -1.2l.5 1.6l.5 -2.1l.5 1.4l.5 -3.1l.5 3.4l.5 -1.1l.5 1.2l.5 -1.4l.5 1.8l.5 -2.2l.5 2.1l.5 -4l.5 3.2l.5 -1.7l.5 1.9l.5 -.7l.5 1.6l.5 -2.6l.5 2.4l.5 -1.6l.5 2.1l.5 -2.5l.5 .9l.5 -.7l.5 1.2l.5 -2.3l.5 5.4l.5 -5.1l.5 3.3l.5 -2.7l.5 2.3l.5 -2.7l.5 1.8l.5 -.9l.5 .3l.5 -2.5l.5 3l.5 -1l.5 2.3l.5 -3.3l.5 3.6l.5 -4.1l.5 2.5l.5 -1.5l.5 2l.5 -2.5l.5 2l.5 -.6l.5 1.5l.5 -1.8l.5 .8l.5 -.9l.5 1.5l.5 -5.3l.5 5.7l.5 -2.8l.5 2.8l.5 -3.1l.5 2.6l.5 -2.8l.5 3l.5 -1.1l.5 .3l.5 -.9l.5 2.1l.5 -3l.5 4.9l.5 -3.7l.5 1.3l.5 -1.4l.5 1.7l.5 -1.7l.5 1l.5 -2.3l.5 2.5l.5 -1.4l.5 2.9l.5 -3.6l.5 2.7l.5 -1.9l.5 .7l.5 -.2l.5 .2l.5 -1.5l.5 1.7l.5 -1.3l.5 3.5l.5 -3l.5 2.6l.5 -2.4l.5 .7l.5 -2.3l.5 1.9l.5 -.6l.5 3.1l.5 -3.3l.5 3.3l.5 -3.2l.5 1.1l.5 -.9l.5 .9l.5 -1.3l.5 1.6l.5 -1.4l.5 2l.5 -1.9l.5 2.7l.5 -4.4l.5 3.1l.5 -2.5l.5 2.3l.5 -4.1l.5 3.9l.5 -1.9l.5 4.5l.5 -4.5l.5 3.5l.5 -5.4l.5 4.1l.5 -1.7l.5 1.3l.5 -4.6l.5 4.3l.5 -.2l.5 .4l.5 -.9l.5 1.9l.5 -1.8l.5 1.9l.5 -2l.5 2.6l.5 -4l.5 3.5l.5 -1.7l.5 .6l.5 -1l.5 2l.5 -1.9l.5 1.4l.5 -1.3l.5 1.2l.5 -3.6l.5 4.3l.5 -3.9l.5 3.9l.5 -2.6l.5 1.6l.5 -3l.5 2.5l.5 -1.6l.5 1.6l.5 -.7l.5 2.7l.5 -4.4l.5 3.3l.5 -1.6l.5 .6l.5 -1.5l.5 2.6l.5 -2.3l.5 2.3l.5 -2.2l.5 1.4l.5 -.8l.5 3.2l.5 -4.4l.5 1.8l.5 -2.2l.5 3.6l.5 -2.9l.5 3.7l.5 -3.4l.5 2.8l.5 -4.4l.5 4.4l.5 -3.3l.5 5.2l.5 -5.1l.5 2.2l.5 -1.1l.5 1l.5 -2.5l.5 3.8l.5 -3.2l.5 1.3l.5 -.6l.5 1.3l.5 -3.1l.5 3.9l.5 -2.2l.5 .8l.5 -.5l.5 1.4l.5 -2.8l.5 4.6l.5 -3.6l.5 1.8l.5 -1.5l.5 1.1l.5 -2.1l.5 2.3l.5 -1.3l.5 1.5l.5 -2.8l.5 1.8l.5 -2.4l.5 3.9l.5 -4.2l.5 2.9l.5 -.9l.5 .7l.5 -1.2l.5 .9l.5 -.7l.5 1l.5 -2.4l.5 3.4l.5 -2.2l.5 1.8l.5 -2.3l.5 2.2l.5 -1.3l.5 1l.5 -2.2l.5 2.3l.5 -2.9l.5 2.7l.5 -1.6l.5 1.8l.5 -1.2l.5 .6l.5 -1.5l.5 4.8l.5 -5l.5 2l.5 -.9l.5 1.2l.5 -1.3l.5 1l.5 -.7l.5 1.7l.5 -1.9l.5 1.3l.5 -2l.5 1.7l.5 -1.2l.5 2.8l.5 -2.9l.5 1.3l.5 -1.7l.5 .8l.5 -.9l.5 1l.5 -2.7l.5 2.9l.5 -.6l.5 .4l.5 -2.9l.5 4.8l.5 -2.9l.5 1.2l.5 -2.4l.5 2l.5 -.2l.5 1.6l.5 -1.9l.5 2.7l.5 -3.7l.5 2l.5 -1.6l.5 1.8l.5 -2.5l.5 3.1l.5 -1.6l.5 .8l.5 -2.1l.5 1.5l.5 -1.5l.5 3.3l.5 -2.3l.5 1.5l.5 -1.5l.5 1.5l.5 -1.5l.5 2l.5 -1.9l.5 .4l.5 -1l.5 .7l.5 -1.7l.5 2l.5 -.7l.5 1.3l.5 -2.2l.5 3.2l.5 -2.8l.5 2.2l.5 -3.5l.5 2.2l.5 -1.6l.5 4.1l.5 -3.9l.5 1.7l.5 -2.2l.5 4l.5 -3l.5 1l.5 -1l.5 .8l.5 -1.4l.5 2.2l.5 -2.9l.5 2.2l.5 -1.1l.5 2.2l.5 -2.2l.5 2.1l.5 -1.7l.5 3.5l.5 -3.3l.5 0l.5 -.2l.5 .4l.5 -3.8l.5 4.1l.5 -1.8l.5 1.3l.5 -1.2l.5 2.3l.5 -2.5l.5 2.3l.5 -1.3l.5 .4l.5 -1.4l.5 1.4l.5 -1.4l.5 2.8l.5 -4.1l.5 2.6l.5 -.4l.5 2.6l.5 -3.3l.5 1.2l.5 -1l.5 .7l.5 -1.5l.5 1.4l.5 -.7l.5 2.7l.5 -4.9l.5 4.2l.5 -2.6l.5 1.9l.5 -2l.5 1.3l.5 -1.3l.5 1l.5 -.9l.5 .9l.5 -.3l.5 1.5l.5 -2.9l.5 1.9l.5 -1.7l.5 1.8l.5 -2.1l.5 2.9l.5 -3l.5 2.7l.5 -2.9l.5 2.8l.5 -4l.5 3.7l.5 -1.3l.5 .6l.5 -.5l.5 2.5l.5 -2.6l.5 .3l.5 -1.4l.5 2.2l.5 -1.1l.5 2.8l.5 -3.3l.5 1.8l.5 -1.9l.5 .8l.5 -.8l.5 1.9l.5 -2l.5 2.1l.5 -3.6l.5 2.4l.5 -1.4l.5 2.3l.5 -2.3l.5 1.3l.5 -.5l.5 2.3l.5 -2.5l.5 .9l.5 -.7l.5 2.6l.5 -3.6l.5 1.1l.5 -2l.5 2.8l.5 -3.2l.5 3.3l.5 -1.8l.5 1.3l.5 -.9l.5 .6l.5 -2.7l.5 2.8l.5 -2.9l.5 4.1l.5 -3.4l.5 1.5l.5 -.5l.5 .4l.5 -.4l.5 .6l.5 -.7l.5 .5l.5 -2l.5 3.1l.5 -2.2l.5 1.1l.5 -.8l.5 3.1l.5 -3l.5 .7l.5 -1.1l.5 2l.5 -4l.5 3.9l.5 -2.2l.5 .9l.5 -1.7l.5 1.8l.5 -1.5l.5 1.2l.5 -2.4l.5 4.2l.5 -3.6l.5 1.8l.5 -2.5l.5 4l.5 -2.4l.5 1.4l.5 -4.9l.5 4.5l.5 -2.3l.5 3l.5 -2.1l.5 1.5l.5 -1l.5 .3l.5 -1.9l.5 3.2l.5 -2.4l.5 1.9l.5 -3l.5 3.6l.5 -3.8l.5 4.4l.5 -3l.5 1.8l.5 -2.4l.5 .9l.5 -1.4l.5 1.7l.5 -.5l.5 2.2l.5 -4.2l.5 2.4l.5 -1.3l.5 .7l.5 -.9l.5 1l.5 -.4l.5 .8l.5 -.9l.5 .8l.5 -1.1l.5 1.6l.5 -1.6l.5 1.5l.5 -2.7l.5 1.7l.5 -1.3l.5 2.5l.5 -2.1l.5 2.2l.5 -2.4l.5 .7l.5 -1.1l.5 1.4l.5 -2.2l.5 1.4l.5 -.7l.5 2.6l.5 -2.3l.5 .6l.5 -.7l.5 1l.5 -2l.5 1.6l.5 -1.2l.5 1.9l.5 -1.4l.5 .4l.5 -.8l.5 .4l.5 -2.1l.5 3l.5 -2.1l.5 2.8l.5 -2.9l.5 1l.5 -1.5l.5 1.5l.5 -.6l.5 1.1l.5 -1.2l.5 1l.5 -1.6l.5 1.4l.5 -1.3l.5 .9l.5 -.8l.5 .7l.5 -2.5l.5 3.8l.5 -2.4l.5 .3l.5 -2.8l.5 4.9l.5 -3.3l.5 1.4l.5 -.9l.5 1.7l.5 -3.1l.5 4.8l.5 -5.2l.5 1.8l.5 -1.5l.5 3l.5 -3.6l.5 2.1l.5 -1.9l.5 3.2l.5 -4.2l.5 4l.5 -1.8l.5 .7l.5 -1.3l.5 .7l.5 -2.8l.5 2.4l.5 -.4l.5 .4l.5 -1.8l.5 3l.5 -2.1l.5 1.5l.5 -3l.5 3.4l.5 -2.4l.5 2.6l.5 -2.4l.5 1.2l.5 -1.2l.5 .9l.5 -1.4l.5 2.8l.5 -3.6l.5 3.5l.5 -2.7l.5 1.4l.5 -1.6l.5 .8l.5 -2.8l.5 2.3l.5 -1.6l.5 1.5l.5 -1.4l.5 4.1l.5 -4.7l.5 2.8l.5 -4l.5 2.4l.5 -1.4l.5 2.6l.5 -2.1l.5 .8l.5 -1.3l.5 2.4l.5 -1.8l.5 .1l.5 -1.6l.5 2.1l.5 -1l.5 1.9l.5 -3.9l.5 2.1l.5 -.9l.5 1l.5 -1l.5 .4l.5 -3.7l.5 4.3l.5 -1.6l.5 2.8l.5 -3.9l.5 3.8l.5 -2.8l.5 1.2l.5 -1.9l.5 1.1l.5 -1.1l.5 1l.5 -2.9l.5 4.7l.5 -3.4l.5 1l.5 -2.4l.5 2.1l.5 -1.4l.5 2.2l.5 -1.5l.5 2.5l.5 -2.7l.5 2.6l.5 -3.8l.5 2.2l.5 -3.3l.5 2.8l.5 -2l.5 1.1l.5 -1.2l.5 1.2l.5 -1.3l.5 .8l.5 -.7l.5 2.7l.5 -4.9l.5 3.3l.5 -1.7l.5 2.3l.5 -2.7l.5 .8l.5 -3.2l.5 3l.5 -1.2l.5 2.1l.5 -2l.5 .6l.5 -2.1l.5 2.7l.5 -1.6l.5 .3l.5 -1.6l.5 2.7l.5 -3.4l.5 2.1l.5 -1l.5 .3l.5 -.7l.5 1l.5 -1.7l.5 1.1l.5 -1.9l.5 2.9l.5 -3.8l.5 2.3l.5 -1.7l.5 2l.5 -2.8l.5 4.2l.5 -4.8l.5 2.5l.5 -2l.5 1.9l.5 -1.4l.5 1l.5 -.9l.5 .2l.5 -.6l.5 2.8l.5 -3.3l.5 .8l.5 -3.4l.5 3.6l.5 -1.2l.5 1.1l.5 -2.1l.5 .7l.5 -.7l.5 2.3l.5 -2.3l.5 2.2l.5 -4.8l.5 3.6l.5 -2.4l.5 1.1l.5 -1l.5 2.9l.5 -3.4l.5 1.3l.5 -1.6l.5 1l.5 -1.8l.5 1.8l.5 -2.5l.5 2.7l.5 -3l.5 3.3l.5 -2.6l.5 .4l.5 -3.1l.5 4.2l.5 -2.2l.5 2.6l.5 -4.5l.5 4.2l.5 -3.7l.5 3.6l.5 -3.3l.5 3.8l.5 -4.9l.5 1.9l.5 -1.7l.5 1.4l.5 -1.2l.5 1.4l.5 -2.5l.5 3.5l.5 -4l.5 1.9l.5 -2.7l.5 2.1l.5 -1.4l.5 .8l.5 -3.7l.5 4.5l.5 -2.6l.5 .9l.5 -2.3l.5 1.8l.5 -1.4l.5 1.3l.5 -1.6l.5 1.2l.5 -2l.5 1.5l.5 -1l.5 1.3l.5 -2.6l.5 4.1l.5 -3.2l.5 .4l.5 -1l.5 .2l.5 -1.9l.5 4.2l.5 -3.7l.5 3.1l.5 -4.1l.5 2.3l.5 -1.5l.5 .1l.5 -1.7l.5 1.7l.5 -.8l.5 0l.5 -1.5l.5 1.4l.5 -4.2l.5 3.5l.5 -1.6l.5 3.8l.5 -4.3l.5 1.5l.5 -1.5l.5 3.7l.5 -5.1l.5 3.8l.5 -2.9l.5 1.5l.5 -2.5l.5 2.2l.5 -3.8l.5 4.3l.5 -4l.5 3.5l.5 -4.3l.5 2.4l.5 -2.4l.5 1.3l.5 -1.2l.5 .7l.5 -1l.5 1.9l.5 -3.9l.5 2.1l.5 -1.9l.5 1.5l.5 -.7l.5 .9l.5 -2.3l.5 3.1l.5 -2.5l.5 .6l.5 -1.2l.5 1.1l.5 -2.3l.5 .8l.5 -1.2l.5 1.2l.5 -1l.5 .5l.5 -1.6l.5 1.4l.5 -2.4l.5 1.3l.5 -1l.5 .5l.5 -.9l.5 2.6l.5 -5l.5 2.6l.5 -1l.5 1.1l.5 -3.5l.5 3.1l.5 -3.4l.5 2.2l.5 -1.6l.5 .3l.5 -1.2l.5 1.7l.5 -1.3l.5 .7l.5 -3.6l.5 4.3l.5 -3.4l.5 1.6l.5 -1.8l.5 .3l.5 -.7l.5 .7l.5 -1.1l.5 1l.5 -2.2l.5 2l.5 -1.8l.5 1l.5 -1.6l.5 1.4l.5 -2.3l.5 1.3l.5 -3.2l.5 3.7l.5 -4.2l.5 2l.5 -1.7l.5 1.1l.5 -1.7l.5 1.2l.5 -1.9l.5 2.6l.5 -3.3l.5 1.7l.5 -1.4l.5 .4l.5 -2.7l.5 1.7l.5 -1.3l.5 .5l.5 -.9l.5 .7l.5 -.9l.5 -.2l.5 -1.1l.5 1.6l.5 -1.7l.5 .5l.5 -1.3l.5 1.1l.5 -2.5l.5 1.3l.5 -1.1l.5 2.7l.5 -5.7l.5 4l.5 -3.4l.5 1.2l.5 -1.2l.5 3.5l.5 -4.2l.5 1.3l.5 -1.9l.5 .5l.5 -.9l.5 1.1l.5 -2.2l.5 1.8l.5 -3.7l.5 2.6l.5 -2.2l.5 2.7l.5 -2.7l.5 .4l.5 -1.9l.5 2.4l.5 -2.5l.5 .4l.5 -2.2l.5 1.1l.5 -.6l.5 .6l.5 -2.3l.5 .9l.5 -1.1l.5 1.8l.5 -2.7l.5 .5l.5 -1.2l.5 .7l.5 -1.3l.5 .3l.5 -1.6l.5 1.3l.5 -1.2l.5 .6l.5 -2.5l.5 2.1l.5 -2.9l.5 1.2l.5 -.7l.5 -.3l.5 -.6l.5 .6l.5 -2l.5 1.3l.5 -1.6l.5 1.7l.5 -2.7l.5 .8l.5 -2.2l.5 .7l.5 -1.9l.5 1.5l.5 -1.3l.5 0l.5 -1.2l.5 .3l.5 -1.7l.5 1.3l.5 -1.7l.5 2.5l.5 -4l.5 2l.5 -2.7l.5 .8l.5 -.9l.5 0l.5 -1.3l.5 .6l.5 -1.4l.5 1l.5 -2.1l.5 1l.5 -2.3l.5 .9l.5 -1.2l.5 .5l.5 -1.9l.5 1.9l.5 -2.3l.5 .6l.5 -1.6l.5 .9l1 -2.4l1 .2l1 -2.4l1 -.2l1 -1.9l1 0l1 -2.8l1 1.1l1 -2.2l1 .6l1 -1.9l1 -.8l1 -1.4l1 -.3l1 -3.4l1 .8l1 -2.3l1 .3l1 -2l1 -.1l1 -2l1 -.5l1 -1.8l1 -.5l1 -2l1 -.3l1 -1.3l1 .3l1 -3.7l1 .4l1 -1.9l1 -.4l1 -2.2l1 -.5l1 -1.9l1 .6l1 -2.5l1 .1l1 -2.6l1 -.9l1 -1.8l1 -.7l1 -2l1 .4l1 -2.6l1 -.9l1 -1.6l1 -.5l1 -2.3l1 -.5l1 -3l1 -.1l1 -1.5l1 -1.1l1 -2l1 .4l1 -3.5l1 -.4l1 -2l1 -.5l1 -2.2l1 .1l1 -2.5l1 -1l1 -2.1l1 -.2l1 -2.3l1 -.5l1 -2.6l1 -1l1 -2.1l1 -.3l1 -2.2l1 -.6l1 -2.2l1 -.6l1 -2.5l1 -.4l1 -2.9l1 0l1 -3.5l1 .4l1 -3l1 -.5l1 -2l1 -.4l1 -2.5l1 -1.1l1 -2.5l1 -.7l1 -2.6l1 -.6l1 -1.6l1 -1.4l1 -2.3l1 -.3l1 -2.6l1 -.1l1 -3.3l1 -.6l1 -2.5l1 -.3l1 -2.5l1 -.1l1 -2.7l1 -1.5l1 -2.4l1 -.5l1 -2.6l1 -.4l1 -2.3l1 -.7l1 -3.5l1 .8l1 -3.6l1 -.1l1 -2.8l1 -.8l1 -2.1l1 -1.3l1 -1.9l1 -.9l1 -2.6l1 -.8l1 -2.7l1 -.2l1 -2.3l1 -.3l1 -3.3l1 -1.2l1 -3.3l1 .9l1 -2.7l1 -1.4l1 -1.8l1 -1.4l1 -1.9l1 -1.3l1 -1.8l1 -1.2l1 -2.2l1 .1l1 -3.2l1 -1.2l1 -2.2l1 -1l1 -2l1 -1.3l1 -1.9l1 -1.5l1 -2.1l1 -.3l1 -2.7l1 -1.3l1 -2.3l1 -.3l1 -2.3l1 -1.4l1 -1.7l1 -1l1 -2.2l1 -.4l1 -3.4l1 -.5l1 -2.4l1 -.9l1 -2.4l1 -.9l1 -1.8l1 -.9l1 -2.4l1 -1.2l1 -1.8l1 -1.1l1 -2.4l1 -.2l1 -3l1 -.8l1 -1.8l1 -1.2l1 -2.5l1 .8l1 -3.9l1 -.2l1 -3.3l1 -.3l1 -2l1 -.8l1 -2.2l1 -.4l1 -2.8l1 -.6l1 -3.1l1 -.3l1 -2.6l1 -.6l1 -2l1 -.4l1 -3.4l1 -.4l1 -1.7l1 -1.3l1 -2.2l1 0l1 -2.5l1 -1l1 -2.8l1 -.1l1 -2.6l1 -.4l1 -2.2l1 -.9l1 -2.4l1 -.9l1 -2l1 -.1l1 -2.7l1 -1.1l1 -2.5l1 -.5l1 -2.4l1 -.5l1 -2.7l1 .2l1 -2.6l1 -.7l1 -2l1 -1.4l1 -2.5l1 -.2l1 -2.3l1 -.8l1 -1.8l1 -.8l1 -3.4l1 .9l1 -2.2l1 -.2l1 -3.2l1 -.8l1 -1.6l1 -1.2l1 -2.5l1 -.3l1 -2l1 .5l1 -3l1 -1l1 -1.8l1 .3l1 -3.2l1 -.2l1 -2.4l1 -1.3l1 -1.5l1 -1.2l1 -2.2l1 .4l1 -2.6l1 -.8l1 -2.6l1 -.3l1 -1.6l1 -.1l1 -2.4l1 -.7l1 -2.2l1 .1l1 -2.5l1 -.3l1 -2.4l1 -.8l1 -1.9l1 -.7l1 -1.5l1 -.7l1 -1.9l1 -.8l1 -2.2l1 0l1 -2l1 -.6l1 -3.2l1 .5l1 -1.4l1 0l1 -3.6l1 .3l1 -1.6l1 -.8l1 -1.5l1 -1l1 -2.1l1 0l1 -1.7l1 -.4l1 -2.1l1 .1l1 -2.1l1 -.5l1 -1.7l1 -.7l1 -1.7l1 -.2l1 -1.6l1 -.6l1 -1.5l1 -.6l1 -2.2l1 -.2l1 -1.5l1 .2l1 -2.2l1 -.2l1 -2.4l1 .3l1 -2.4l1 0l1 -1.2l1 -.4l1 -1.9l1 .4l1 -2.3l1 -.2l1 -3l1 1.8l1 -2.6l1 .1l1 -2l1 .2l1 -2.7l1 .6l1 -1.9l1 .8l1 -3.2l1 .9l1 -2.4l1 0l1 -1.6l1 1.3l1 -2.8l1 -.5l1 -1.9l1 .5l1 -2l1 -.1l1 -1.2l1 0l1 -2l1 0l1 -1.9l1 .2l1 -1.4l1 .7l1 -2.3l1 -.5l1 -1.7l1 0l1 -1.1l1 .4l1 -1.9l1 .7l1 -2.7l1 .1l1 -2l1 1.1l1 -2.8l1 1l1 -2.1l1 .1l1 -1.3l1 .3l1 -2.1l1 1.3l1 -2.9l1 .3l1 -1.2l1 -.5l1 -1.4l1 .5l1 -1.8l1 -.4l1 -.8l1 -.4l1 -1.6l1 .3l1 -1.8l1 .7l1 -2.4l1 .5l1 -1.3l1 .5l1 -2.2l1 1.7l1 -3.2l1 1.1l1 -1.3l1 .1l1 -1.5l1 .6l1 -2.5l1 .3l1 -1.1l1 1l1 -2.3l1 -.1l1 -1.3l1 .9l1 -1.3l1 .4l1 -2l1 -.1l1 -.6l1 .1l1 -1.3l1 .7l1 -2.6l1 1.1l1 -1.7l1 .1l1 -.7l1 -.5l1 -.8l1 0l1 -1.3l1 .7l1 -1.4l1 .3l1 -1.1l1 0l1 -1.2l1 .3l1 -1.3l1 .5l1 -1.8l1 .4l1 -1.5l1 1.1l1 -1.5l1 1.5l1 -2.8l1 .9l1 -1l1 .3l1 -1.3l1 .7l1 -1.2l1 -.1l1 -1.6l1 1.2l1 -1l1 -.2l1 -1l1 .4l1 -.6l1 -.1l1 -1.1l1 .7l1 -1.8l1 1.1l1 -1.3l1 .2l1 -1.2l1 1.5l1 -1.7l1 0l1 -.5l1 .6l1 -1.4l1 1.7l1 -2.1l1 .8l1 -1.8l1 1.2l1 -2.2l1 .7l1 -1.2l1 1.4l1 -1.6l1 .4l1 -1.1l1 .8l1 -.9l1 -.1l1 -1.2l1 1.4l1 -1.1l1 1.2l1 -2.1l1 .7l1 -.7l1 -.1l1 -1.5l1 1l1 -.8l1 .5l1 -1.1l1 .4l1 -1.5l1 1.3l1 -1l1 1l1 -1.4l1 1l1 -1.4l1 1.1l1 -1.4l1 .8l1 -1.5l1 1.1l1 -1.5l1 1.2l1 -2l1 1.3l1 -1.1l1 1.6l1 -2.8l1 2l1 -1.5l1 1.1l1 -2l1 2.1l1 -1.6l1 .3l1 -.5l1 .5l1 -1.2l1 .6l1 -.4l1 .7l1 -1l1 1.2l1 -2.1l1 1.7l1 -1.8l1 .7l1 -.9l1 1l1 -1l1 .5l1 -.9l1 .4l1 -1.4l1 1.4l1 -1l1 1.5l1 -1.2l1 0l1 -.2l1 .3l1 -1.6l1 1.4l1 -1.4l1 .9l1 -.4l1 .3l1 -.9l1 .7l1 -.7l1 1.5l1 -2l1 1.6l1 -.9l1 1.2l1 -1.6l1 .6l1 -1.3l1 1.4l1 -.8l1 .3l1 -.7l1 .8l1 -.9l1 .3l1 -.3l1 .3l1 -.7l1 1.1l1 -1.9l1 1.9l1 -1l1 .3l1 -.4l1 .7l1 -1.1l1 1.4l1 -1.5l1 1.1l1 -.9l1 .3l1 -1.1l1 .9l1 -.2l1 .5l1 -1.7l1 1.3l1 -.3l1 1.3l1 -1.2l1 .1l1 -1.3l1 1.6l1 -1l1 1.7l1 -1.8l1 1.2l1 -1.5l1 1.3l1 -.5l1 1l1 -1.1l1 .4l1 -1.4l1 1.4l1 -.4l1 .2l1 -1.3l1 1.5l1 -1.6l1 2.6l1 -1.7l1 .5l1 -.7l1 1.8l1 -1.8l1 1.2l1 -.8l1 .6l1 -1l1 .5l1 -.5l1 .7l1 -2.3l1 2.9l1 -1.5l1 .8l1 -.7l1 .8l1 -.5l1 .6l1 -1.1l1 1.1l1 -.3l1 .6l1 -1l1 1.5l1 -1.4l1 .7l1 -.5l1 .3l1 -.1l1 .5l1 -.6l1 1l1 -1.1l1 1.2l1 -.9l1 .8l1 -.8l1 1.1l1 -1l1 .1l1 -1l1 1.6l1 -1l1 1.8l1 -1.6l1 1.3l1 -1.6l1 1.2l1 -1.1l1 1.4l1 -1.6l1 1.3l1 -.8l1 .3l1 -1l1 1.7l1 -1.8l1 1.4l1 -.3l1 .5l1 -1.9l1 1.8l1 -.3l1 .8l1 -1.2l1 .5l1 -.4l1 .8l1 -.5l1 .2l1 -1l1 2.1l1 -1.9l1 1.7l1 -1.7l1 1.9l1 -1.8l1 1l1 -.4l1 .4l1 -1l1 1.9l1 -1.2l1 .3l1 -.6l1 .5l1 -.7l1 .9l1 -.3l1 .2l1 -.2l1 .6l1 -.6l1 .7l1 -.9l1 .3l1 -.7l1 .8l1 -.6l1 1.1l1 -.8l1 .3l1 -.3l1 .7l1 -1.2l1 1.3l1 -1.4l1 1.8l1 -1l1 .5l1 -1.4l1 1.4l1 -1l1 .7l1 -.4l1 .7l1 -.7l1 1.1l1 -1.7l1 1.3l1 -1l1 1.5l1 -1.2l1 .9l1 -1.1l1 .5l1 -.6l1 1.3l1 -1.4l1 1.6l1 -1.2l1 2.1l1 -2l1 .4l1 -.4l1 .1l1 -.6l1 .6l1 -.5l1 1.6l1 -1.4l1 .9l1 -.7l1 .6l1 -.8l1 .4l1 -.5l1 .4l1 -.8l1 .8l1 -.5l1 1.5l1 -1.7l1 1.1l1 -1.8l1 1.5l1 -1.3l1 2.6l1 -2.3l1 .8l1 -.1l1 .4l1 -2l1 2.2l1 -.9l1 2.3l1 -2.4l1 1.8l1 -1.8l1 1l1 -1.2l1 .9l1 -.8l1 1.2l1 -1.5l1 1.1l1 -.7l1 .7l1 -.9l1 1.2l1 -.9l1 .4l1 -1.2l1 1.6l1 -1.1l1 .9l1 -.7l1 .3l1 -.1l1 .6l1 -1.4l1 1.2l1 -1l1 1.2l1 -1.1l1 .8l1 -.6l1 1.1l1 -1.6l1 1.6l1 -1.7l1 1.6l1 -1.4l1 2l1 -2.1l1 1.1l1 -1.1l1 .7l1 -.6l1 1.6l1 -1.4l1 1l1 -.7l1 .4l1 -.4l1 1.6l1 -2.2l1 1.4l1 -1l1 1l1 -1.1l1 1.7l1 -1.6l1 .8l1 -.6l1 .8l1 -1.2l1 .5l1 -.9l1 1.2l1 -.5l1 .6l1 -1.3l1 1.1l1 -1.1l1 1.1l1 -.6l1 .3l1 -.4l1 .4l1 -.4l1 .5l1 -.5l1 .6l1 -.7l1 1.6l1 -1.7l1 .8l1 -.6l1 .9l1 -1l1 .5l1 -.2l1 .6l1 -.8l1 .9l1 -1l1 .6l1 -.7l1 1.8l1 -2l1 .9l1 -.3l1 1.4l1 -1.4l1 .2l1 -.9l1 1l1 -.4l1 .5l1 -1.5l1 1.3l1 -.4l1 .8l1 -.8l1 .9l1 -.6l1 .1l1 -.8l1 .9l1 -1.2l1 1.3l1 -.7l1 .8l1 -1.2l1 1.2l1 -.4l1 .9l1 -1.3l1 .9l1 -1.3l1 .9l1 -.1l1 1.5l1 -2.7l1 1.3l1 -.5l1 .7l1 -.5l1 .9l1 -1.1l1 .6l1 -.3l1 .5l1 -1.4l1 1.2l1 -.4l1 1.2l1 -1.4l1 .6l1 -.3l1 2l1 -2.4l1 1.8l1 -1.8l1 1.1l1 -1.6l1 1.6l1 -.8l1 .9l1 -.9l1 .8l1 -.8l1 .9l1 -.9l1 .6l1 -.7l1 1l1 -.9l1 .7l1 -.7l1 1.5l1 -1.4l1 .5l1 -.4l1 .7l1 -.7l1 .3l1 -.5l1 .8l1 -.6l1 .9l1 -.7l1 .6l1 -.9l1 .6l1 -.6l1 .7l1 -1.5l1 2l1 -1l1 .4l1 -.5l1 .6l1 -.7l1 .6l1 -.5l1 .4l1 -.4l1 .4l1 -.1l1 .1l1 -1.5l1 2.3l1 -1.1l1 .4l1 -.4l1 .3l1 -1l1 1.9l1 -2l1 1.8l1 -1.2l1 .8l1 -.4l1 .1l1 -.1l1 .3l1 -.8l1 .9l1 -1l1 1.1l1 -1.2l1 2l1 -1.8l1 1.3l1 -.9l1 1.5l1 -1.6l1 .5l1 -.6l1 1.4l1 -1.3l1 .7l1 -1.2l1 1.7l1 -1.5l1 1.1l1 -1l1 .7l1 -.3l1 .4l1 -.9l1 .9l1 -1l1 .9l1 -.9l1 .9l1 -.7l1 1.3l1 -.7l1 .4l1 -1.1l1 1.6l1 -1.9l1 1.1l1 -1l1 1.2l1 -.3l1 .8l1 -1l1 .7l1 -2.1l1 1.8l1 -.4l1 .3l1 -1l1 1.4l1 -.8l1 .7l1 -.8l1 .9l1 -1.1l1 .9l1 -.4l1 .5l1 -.6l1 .8l1 -1.2l1 .7l1 -1.4l1 2.1l1 -1.2l1 .7l1 -.9l1 .8l1 -.2l1 .3l1 -.9l1 1.1l1 -.9l1 .4l1 -.2l1 .8l1 -.8l1 1.1l1 -1.6l1 1l1 -.4l1 .6l1 -1l1 .7l1 -1.1l1 1.8l1 -1.1l1 .4l1 -.6l1 .7l1 -.6l1 .7l1 -.5l1 .3l1 -.5l1 1.5l1 -2l1 .8l1 -.5l1 .8l1 -.9l1 1.2l1 -.8l1 1.4l1 -1.4l1 .3l1 -.6l1 1.5l1 -1.3l1 .4l1 -.3l1 .2l1 -.9l1 1l1 -1.5l1 1.6l1 -.7l1 .8l1 -.7l1 .2l1 -.4l1 .7l1 -1.3l1 1.1l1 -.7l1 1.6l1 -1.1l1 1" stroke="#000000" stroke-width="6.5"/>
<path d="M277 1563.5l.5 -3.9l.5 6l.5 -3.7l.5 1.6l.5 -3.3l.5 2.8l.5 -3l.5 2.5l.5 -1.2l.5 1l.5 -1.8l.5 2.7l.5 -1.7l.5 1.4l.5 -2.6l.5 3.6l.5 -4.4l.5 2.6l.5 -2l.5 3.2l.5 -2.4l.5 1.3l.5 -.6l.5 2.7l.5 -4.7l.5 2.9l.5 -1.7l.5 2.9l.5 -2.2l.5 1l.5 -.8l.5 1.6l.5 -1.5l.5 1.7l.5 -2.2l.5 1l.5 -1.2l.5 1.8l.5 -.9l.5 1.2l.5 -4l.5 3.3l.5 -.6l.5 .7l.5 -3l.5 2.6l.5 -1.2l.5 1.2l.5 -2.2l.5 3.1l.5 -2.5l.5 1.8l.5 -.4l.5 2.1l.5 -4.2l.5 2.7l.5 -1.5l.5 1.6l.5 -1.1l.5 1.8l.5 -1.5l.5 .9l.5 -2.8l.5 3.7l.5 -2.7l.5 3.6l.5 -3.2l.5 .9l.5 -1.1l.5 2.3l.5 -1.6l.5 .7l.5 -.7l.5 1.4l.5 -2.1l.5 2.2l.5 -1.8l.5 .9l.5 -2.3l.5 3.9l.5 -2.7l.5 2.2l.5 -2.5l.5 2.6l.5 -2.1l.5 .8l.5 -1.6l.5 2.5l.5 -1.6l.5 1.2l.5 -2.4l.5 3l.5 -3.5l.5 3.2l.5 -3.3l.5 3.4l.5 -1.5l.5 .6l.5 -1l.5 1.3l.5 -1.2l.5 .8l.5 -2.9l.5 5.7l.5 -5.5l.5 3.1l.5 -2.5l.5 5.4l.5 -4.7l.5 2.1l.5 -4.4l.5 4.6l.5 -3l.5 3.5l.5 -2.4l.5 .9l.5 -1.8l.5 1.9l.5 -1.3l.5 1.6l.5 -1.1l.5 1.9l.5 -2.6l.5 2.9l.5 -4l.5 4.8l.5 -3.1l.5 1.4l.5 -1.4l.5 1l.5 -.7l.5 1.6l.5 -2.1l.5 1.4l.5 -1.9l.5 3.7l.5 -2.6l.5 1.7l.5 -2l.5 2.2l.5 -1.9l.5 .5l.5 -.5l.5 1.2l.5 -1.8l.5 1l.5 -.4l.5 1.5l.5 -4.6l.5 4.6l.5 -1.8l.5 3.9l.5 -4.4l.5 2l.5 -2l.5 1.3l.5 -2.3l.5 4.1l.5 -2.1l.5 .6l.5 -3.7l.5 3.3l.5 -1.2l.5 2.2l.5 -1.5l.5 1.4l.5 -1.7l.5 .6l.5 -1.9l.5 6.1l.5 -4.7l.5 .6l.5 -1.1l.5 1l.5 -1l.5 1.6l.5 -.8l.5 1.2l.5 -1.4l.5 1.8l.5 -1.7l.5 2.5l.5 -3.7l.5 1.5l.5 -2.6l.5 4l.5 -3.2l.5 4.5l.5 -2.9l.5 .2l.5 -1.5l.5 3.6l.5 -2.9l.5 1.3l.5 -2l.5 2l.5 -2.1l.5 1.7l.5 -.3l.5 2.1l.5 -2.7l.5 1.6l.5 -2l.5 3.1l.5 -3l.5 2.9l.5 -3.8l.5 3.9l.5 -4.2l.5 4.5l.5 -3.7l.5 2.9l.5 -3.7l.5 2.9l.5 -1.2l.5 .8l.5 -1.8l.5 3.6l.5 -2.4l.5 2.3l.5 -2.8l.5 .9l.5 -1.4l.5 1.7l.5 -1.3l.5 4.1l.5 -5.2l.5 2.8l.5 -1.3l.5 1l.5 -2.1l.5 2.5l.5 -.9l.5 1l.5 -2.1l.5 2.6l.5 -3l.5 1.7l.5 -.7l.5 1.6l.5 -2l.5 3.2l.5 -3.6l.5 1.9l.5 -2.3l.5 4.1l.5 -4.5l.5 3.9l.5 -2.9l.5 3.8l.5 -4.4l.5 2.6l.5 -1.2l.5 .7l.5 -1.1l.5 1.7l.5 -1.7l.5 1.3l.5 -.5l.5 .3l.5 -.7l.5 2l.5 -3.5l.5 3.8l.5 -2.3l.5 1.3l.5 -2l.5 2.6l.5 -2.6l.5 2l.5 -1.7l.5 2.1l.5 -1.6l.5 1.8l.5 -2.1l.5 1.9l.5 -3.5l.5 3.3l.5 -1.4l.5 1l.5 -2.8l.5 2.3l.5 -.6l.5 1.9l.5 -3.7l.5 2.4l.5 -1.3l.5 1.2l.5 -3.1l.5 5.2l.5 -4l.5 2.4l.5 -1.3l.5 1.3l.5 -1l.5 .7l.5 -1.6l.5 1.5l.5 -2.5l.5 3.2l.5 -3.2l.5 3.8l.5 -3.4l.5 4.2l.5 -3.2l.5 1.4l.5 -2.5l.5 3.1l.5 -2.2l.5 2.9l.5 -2.4l.5 1.2l.5 -1.4l.5 1.1l.5 -.6l.5 1.2l.5 -2.2l.5 4.7l.5 -3.5l.5 1.1l.5 -2.4l.5 2.2l.5 -1.2l.5 .4l.5 -2.8l.5 4.4l.5 -3.2l.5 2.9l.5 -1.7l.5 3.9l.5 -4.2l.5 2.3l.5 -3.4l.5 5.7l.5 -4.1l.5 1.3l.5 -2l.5 1.2l.5 -2.8l.5 3.1l.5 -1.1l.5 1.3l.5 -1.7l.5 1.2l.5 -1.5l.5 2.7l.5 -2.5l.5 1l.5 -.8l.5 1.2l.5 -2.1l.5 2.3l.5 -1.9l.5 1.4l.5 -1.3l.5 2.5l.5 -3.3l.5 4l.5 -3.3l.5 3.5l.5 -3.8l.5 2.9l.5 -1.8l.5 1.2l.5 -3.8l.5 3.5l.5 -1l.5 2.2l.5 -3.1l.5 3.3l.5 -3.8l.5 2.1l.5 -1.3l.5 2.4l.5 -3.1l.5 2.2l.5 -.8l.5 1.4l.5 -1l.5 .3l.5 -.3l.5 .2l.5 -1.4l.5 2.8l.5 -3.8l.5 6.7l.5 -6l.5 3.8l.5 -2.3l.5 1.8l.5 -3.9l.5 2.8l.5 -1.1l.5 1.7l.5 -2.3l.5 2.6l.5 -2l.5 .7l.5 -2.7l.5 3.6l.5 -3.7l.5 3.6l.5 -3.9l.5 3.3l.5 -.9l.5 2.2l.5 -2.9l.5 3.3l.5 -3.9l.5 2.7l.5 -1.7l.5 2.4l.5 -3l.5 3l.5 -2.5l.5 2l.5 -1.7l.5 1.6l.5 -2l.5 1.1l.5 -.8l.5 .7l.5 -2.7l.5 2.8l.5 -.7l.5 1.1l.5 -.8l.5 1.1l.5 -2.5l.5 2l.5 -.5l.5 .7l.5 -.7l.5 1.1l.5 -1.9l.5 1.9l.5 -1.9l.5 2.3l.5 -2.1l.5 .8l.5 -2.6l.5 3.8l.5 -2.8l.5 2.6l.5 -2.3l.5 2.4l.5 -1.7l.5 1.9l.5 -2.7l.5 2.6l.5 -1.6l.5 2.7l.5 -4.6l.5 3.2l.5 -1.7l.5 3.8l.5 -4.4l.5 1.7l.5 -2.1l.5 2.8l.5 -2.4l.5 3.6l.5 -3.5l.5 2.3l.5 -2.7l.5 2l.5 -2.1l.5 2.5l.5 -1.8l.5 1.5l.5 -2.5l.5 2.5l.5 -1.7l.5 1.8l.5 -1.8l.5 3.4l.5 -3.8l.5 2.8l.5 -1.3l.5 2.2l.5 -4.5l.5 2.7l.5 -.8l.5 1l.5 -1.1l.5 3.9l.5 -3.8l.5 4.1l.5 -3.8l.5 .5l.5 -4l.5 6l.5 -2.5l.5 1.1l.5 -2l.5 1.6l.5 -1.6l.5 2.1l.5 -3.2l.5 3.8l.5 -1.9l.5 .8l.5 -1.4l.5 2.4l.5 -1.4l.5 .5l.5 -.5l.5 1.5l.5 -3.2l.5 2.5l.5 -1.7l.5 2l.5 -1.8l.5 1.4l.5 -.9l.5 1l.5 -2.3l.5 3.2l.5 -1.7l.5 3.4l.5 -4.1l.5 1.6l.5 -1.3l.5 .7l.5 -3l.5 3.2l.5 -1.9l.5 3.2l.5 -2l.5 1.7l.5 -2.7l.5 2.5l.5 -3.1l.5 2l.5 -2.5l.5 5.5l.5 -7.1l.5 6l.5 -2.1l.5 .6l.5 -1.1l.5 .9l.5 -.6l.5 .4l.5 -.9l.5 1.1l.5 -.5l.5 .4l.5 -1.5l.5 1.5l.5 -1l.5 3l.5 -2.8l.5 2.3l.5 -2.3l.5 .9l.5 -1.1l.5 1.1l.5 -1l.5 2.6l.5 -2.4l.5 1.4l.5 -1.4l.5 2.5l.5 -2.1l.5 1.7l.5 -1.7l.5 .8l.5 -1.3l.5 2.2l.5 -2.3l.5 .9l.5 -4.9l.5 5.4l.5 -1.7l.5 1.2l.5 -1.3l.5 2.3l.5 -2.5l.5 1.8l.5 -1.5l.5 1.7l.5 -.9l.5 .2l.5 -1.8l.5 2.6l.5 -1.4l.5 1.5l.5 -2.4l.5 1.6l.5 -1.1l.5 3l.5 -2.6l.5 2.3l.5 -2.3l.5 1.5l.5 -1.5l.5 1.4l.5 -2.3l.5 2.1l.5 -3.1l.5 3.2l.5 -2.5l.5 2.9l.5 -1.8l.5 .9l.5 -1.6l.5 2.8l.5 -1.4l.5 .5l.5 -1.2l.5 1.6l.5 -1.3l.5 .6l.5 -.9l.5 1.4l.5 -1.1l.5 .5l.5 -.3l.5 2.1l.5 -3.6l.5 1.9l.5 -.3l.5 1.8l.5 -5.2l.5 3.7l.5 -1.7l.5 1.5l.5 -1.1l.5 1.1l.5 -.2l.5 1.4l.5 -3.1l.5 5l.5 -3.8l.5 .8l.5 -.3l.5 .5l.5 -1.2l.5 1.5l.5 -1.3l.5 1.1l.5 -2.1l.5 1.9l.5 -.6l.5 1.5l.5 -2.6l.5 1.9l.5 -1.5l.5 3.1l.5 -4.1l.5 3.9l.5 -2.6l.5 1l.5 -.9l.5 3l.5 -3l.5 1.8l.5 -1.5l.5 1.3l.5 -1.6l.5 1l.5 -1.8l.5 1.9l.5 -1.7l.5 2l.5 -3.1l.5 2.9l.5 -1l.5 1.7l.5 -2.7l.5 1.7l.5 -.8l.5 3.1l.5 -2.8l.5 1.1l.5 -1.4l.5 1.8l.5 -1.8l.5 1l.5 -1.2l.5 1l.5 -.9l.5 .7l.5 -1.8l.5 2l.5 -.8l.5 2.1l.5 -2.7l.5 2.5l.5 -2.3l.5 3.2l.5 -3.2l.5 2.1l.5 -3.3l.5 3.1l.5 -1.4l.5 1.3l.5 -2.6l.5 2.1l.5 -1l.5 2.2l.5 -2l.5 1.2l.5 -3.5l.5 3.6l.5 -3.2l.5 2.9l.5 -1l.5 1.1l.5 -3.9l.5 6.7l.5 -4.1l.5 1.2l.5 -1.6l.5 1.5l.5 -.6l.5 .8l.5 -1.6l.5 1.4l.5 -2.6l.5 3.7l.5 -2.3l.5 1.4l.5 -2.3l.5 2.3l.5 -1l.5 1.4l.5 -2.8l.5 2.4l.5 -.9l.5 .6l.5 -2.5l.5 3.9l.5 -2.7l.5 .9l.5 -1.6l.5 2l.5 -1.3l.5 2.5l.5 -2.9l.5 2.8l.5 -2.1l.5 1.6l.5 -3.3l.5 3.3l.5 -1.3l.5 1.5l.5 -3.3l.5 2.2l.5 -1.2l.5 1.2l.5 -.3l.5 .8l.5 -1.1l.5 1.8l.5 -2.9l.5 3.3l.5 -3.2l.5 2.5l.5 -1.5l.5 1.5l.5 -3.1l.5 4.8l.5 -5l.5 2.6l.5 -2.3l.5 4.3l.5 -3.6l.5 2.3l.5 -2.5l.5 2.7l.5 -3.3l.5 3.9l.5 -2.2l.5 2.3l.5 -2.5l.5 1.7l.5 -3.2l.5 3l.5 -4.3l.5 5.4l.5 -2.4l.5 .7l.5 -1.7l.5 2.7l.5 -2.7l.5 2.6l.5 -1.6l.5 2.1l.5 -3.4l.5 1.8l.5 -1.4l.5 1.4l.5 -1.7l.5 1.7l.5 -2.8l.5 3.7l.5 -2.1l.5 2.3l.5 -1.8l.5 1.5l.5 -3.1l.5 3.1l.5 -2.4l.5 4.6l.5 -3.8l.5 1.9l.5 -2.6l.5 3l.5 -3.2l.5 3.2l.5 -1.9l.5 2.1l.5 -3.8l.5 2.7l.5 -1l.5 .8l.5 -2.1l.5 3.8l.5 -3.3l.5 2.7l.5 -3.2l.5 2.1l.5 -2.3l.5 4.5l.5 -4.3l.5 1.5l.5 -1.4l.5 2.7l.5 -1.3l.5 2.6l.5 -5.6l.5 3.1l.5 -1.9l.5 3.3l.5 -4.8l.5 4.3l.5 -3.7l.5 2.8l.5 -2.4l.5 3l.5 -2.4l.5 1.8l.5 -.2l.5 1.1l.5 -1.6l.5 2.3l.5 -4l.5 4l.5 -1.8l.5 1.7l.5 -2.3l.5 1.2l.5 -.7l.5 1.2l.5 -3l.5 4.4l.5 -3.4l.5 2.3l.5 -2l.5 .8l.5 -1.2l.5 1.2l.5 -1.7l.5 2.4l.5 -1.8l.5 1.4l.5 -1.3l.5 .9l.5 -2l.5 2.1l.5 -1.6l.5 4.5l.5 -4.7l.5 1.9l.5 -.7l.5 1l.5 -2.5l.5 3.3l.5 -2.8l.5 1.8l.5 -.7l.5 .7l.5 -1.6l.5 1.7l.5 -2l.5 2.5l.5 -1.3l.5 1.5l.5 -2.4l.5 2.1l.5 -1.5l.5 1.2l.5 -1.4l.5 1.6l.5 -2.3l.5 2.8l.5 -1.6l.5 1l.5 -1.9l.5 2l.5 -1.8l.5 2.5l.5 -2.6l.5 1.7l.5 -1.1l.5 1.7l.5 -1.3l.5 .5l.5 -1.2l.5 1.9l.5 -1.4l.5 2l.5 -2.3l.5 1l.5 -.6l.5 2.5l.5 -4.2l.5 2.5l.5 -1l.5 .7l.5 -2.2l.5 1.8l.5 -.5l.5 .9l.5 -2.1l.5 1.9l.5 -1.7l.5 1.5l.5 -1l.5 1.5l.5 -3.2l.5 4.2l.5 -5l.5 3.7l.5 -.5l.5 1.3l.5 -1.2l.5 2.6l.5 -2.6l.5 .9l.5 -2.7l.5 4.4l.5 -3.8l.5 1.9l.5 -.7l.5 2.4l.5 -2.4l.5 .5l.5 -3.5l.5 3.5l.5 -1.7l.5 2.3l.5 -1.1l.5 1.1l.5 -2.2l.5 1.8l.5 -1l.5 2.3l.5 -2l.5 .6l.5 -2.3l.5 3.1l.5 -2.3l.5 1.9l.5 -2.8l.5 3l.5 -2.4l.5 3.9l.5 -5.1l.5 3.1l.5 -1.4l.5 1.5l.5 -2.4l.5 4.6l.5 -3.7l.5 3.3l.5 -3.9l.5 1.9l.5 -.7l.5 1.1l.5 -2.3l.5 2.2l.5 -1.1l.5 1.3l.5 -3l.5 3.8l.5 -2.5l.5 2.1l.5 -1.6l.5 .8l.5 -2.5l.5 2.9l.5 -2.8l.5 1.8l.5 -1.2l.5 4.7l.5 -5.1l.5 1.4l.5 -2.3l.5 3.1l.5 -1.5l.5 .7l.5 -1.2l.5 1.6l.5 -1.9l.5 1.5l.5 -1.5l.5 5.3l.5 -5.6l.5 2.6l.5 -2.9l.5 2.9l.5 -2.4l.5 1.7l.5 -1.7l.5 4.5l.5 -3.9l.5 2.2l.5 -2.1l.5 1.9l.5 -2.5l.5 3.4l.5 -4.1l.5 2.8l.5 -2.3l.5 1.9l.5 -1.6l.5 1.5l.5 -1.1l.5 1.9l.5 -1.4l.5 .3l.5 -4.4l.5 6.2l.5 -2.1l.5 1.1l.5 -3.2l.5 4l.5 -1.7l.5 1.1l.5 -3.6l.5 2.6l.5 -.4l.5 2.3l.5 -2.3l.5 2.2l.5 -2.2l.5 .6l.5 -.5l.5 3.2l.5 -5l.5 2.2l.5 -1.4l.5 2.2l.5 -2.8l.5 2.9l.5 -2.8l.5 3.7l.5 -3l.5 2.7l.5 -2.4l.5 2.9l.5 -2.4l.5 3.1l.5 -4.1l.5 1.3l.5 -1l.5 1.4l.5 -2.4l.5 3.2l.5 -2.3l.5 1.9l.5 -4.2l.5 4.8l.5 -3.3l.5 2.6l.5 -1.8l.5 1.5l.5 -.7l.5 .7l.5 -1.2l.5 .9l.5 -1.7l.5 3.1l.5 -2.3l.5 .9l.5 -3.3l.5 4.9l.5 -2.6l.5 1.9l.5 -3.8l.5 4l.5 -1.9l.5 .7l.5 -1.9l.5 1.6l.5 -1.8l.5 4l.5 -4.2l.5 4.6l.5 -4.3l.5 3.1l.5 -2.1l.5 1.9l.5 -1.5l.5 .7l.5 -.8l.5 .4l.5 -2.3l.5 3.5l.5 -1.6l.5 .4l.5 -1.5l.5 2.4l.5 -3.6l.5 4.1l.5 -5l.5 3.7l.5 -.5l.5 3.9l.5 -3.8l.5 .3l.5 -.7l.5 1.3l.5 -1.2l.5 .8l.5 -1.5l.5 2.7l.5 -1.8l.5 .8l.5 -1.6l.5 1l.5 -1.2l.5 1.1l.5 -.5l.5 2.3l.5 -2.2l.5 .7l.5 -2l.5 2.1l.5 -1.2l.5 2.7l.5 -4.6l.5 3.2l.5 -1.3l.5 2.2l.5 -2l.5 2l.5 -2.3l.5 .9l.5 -1.3l.5 2.7l.5 -3.4l.5 5.3l.5 -3.5l.5 .4l.5 -1.3l.5 .9l.5 -.3l.5 .5l.5 -1.4l.5 1.8l.5 -1.9l.5 2.1l.5 -2.4l.5 3.6l.5 -2.7l.5 2.9l.5 -3.3l.5 1.9l.5 -1.4l.5 1.9l.5 -3.1l.5 2.4l.5 -1.2l.5 .8l.5 -.9l.5 3.6l.5 -3.8l.5 1.1l.5 -2l.5 2.7l.5 -2.2l.5 1.2l.5 -.6l.5 2.4l.5 -2.2l.5 1.6l.5 -1.8l.5 2l.5 -2.3l.5 1.6l.5 -1.7l.5 3.1l.5 -4.2l.5 2.3l.5 -2.8l.5 4.2l.5 -3.2l.5 1.9l.5 -1l.5 2.6l.5 -4l.5 2.4l.5 -1.8l.5 2.3l.5 -3.5l.5 4.4l.5 -2.7l.5 3l.5 -4l.5 3.4l.5 -2.4l.5 2.8l.5 -5.3l.5 3.5l.5 -2.1l.5 2.2l.5 -1.6l.5 2l.5 -3.3l.5 3l.5 -2.6l.5 1.9l.5 -2.4l.5 4.4l.5 -2.2l.5 .8l.5 -2.1l.5 1.4l.5 -1.7l.5 3.6l.5 -4l.5 4.8l.5 -3.6l.5 1.2l.5 -1.8l.5 1.7l.5 -.5l.5 2.7l.5 -4.5l.5 2l.5 -.9l.5 3.1l.5 -3.2l.5 2.3l.5 -2.3l.5 .8l.5 -1.6l.5 1.9l.5 -.7l.5 1.8l.5 -2.4l.5 2.2l.5 -2.9l.5 1.5l.5 -.8l.5 .9l.5 -.6l.5 1.9l.5 -2.6l.5 2l.5 -3.2l.5 2.8l.5 -1.8l.5 1.4l.5 -.7l.5 1.1l.5 -1.5l.5 2l.5 -3.5l.5 3.6l.5 -4l.5 3.3l.5 -2.3l.5 3.1l.5 -2.4l.5 1.6l.5 -1.5l.5 .8l.5 -1.6l.5 1.2l.5 -.5l.5 .8l.5 -.6l.5 1.2l.5 -1.4l.5 .7l.5 -2.4l.5 1.9l.5 -.8l.5 .9l.5 -1.4l.5 2.3l.5 -1.3l.5 .8l.5 -1.1l.5 .7l.5 -.9l.5 2.3l.5 -2.5l.5 1.9l.5 -1.9l.5 1l.5 -.9l.5 1.9l.5 -1.8l.5 .5l.5 -1.8l.5 1.4l.5 -.5l.5 .3l.5 -.3l.5 3.4l.5 -4.4l.5 2l.5 -3.9l.5 3.2l.5 -1.8l.5 2.4l.5 -2.1l.5 1.2l.5 -1l.5 3.4l.5 -3.4l.5 2.9l.5 -2.4l.5 1.3l.5 -2.6l.5 2.3l.5 -2.8l.5 4.9l.5 -3.9l.5 .9l.5 -.9l.5 2.8l.5 -4.5l.5 2.4l.5 -1l.5 .7l.5 -2.7l.5 2.7l.5 -2.3l.5 2.8l.5 -1.5l.5 1.9l.5 -3.9l.5 3.3l.5 -2.6l.5 2.5l.5 -2l.5 2.3l.5 -2.7l.5 2.3l.5 -2.1l.5 1.5l.5 -1.4l.5 1l.5 -2.7l.5 3.5l.5 -2.3l.5 1.6l.5 -1.6l.5 2l.5 -2.5l.5 3.2l.5 -3.7l.5 1.9l.5 -2.1l.5 3.1l.5 -3.3l.5 1.9l.5 -2.7l.5 3.9l.5 -3.5l.5 2.2l.5 -1.7l.5 .9l.5 -1.9l.5 2.3l.5 -3l.5 3.3l.5 -2.3l.5 3.6l.5 -4.5l.5 3.1l.5 -3.4l.5 3.8l.5 -3.7l.5 3l.5 -1.7l.5 1.9l.5 -2.6l.5 2.9l.5 -2.3l.5 .6l.5 -2.9l.5 5.2l.5 -4.5l.5 2.2l.5 -4.7l.5 4.8l.5 -1.6l.5 .8l.5 -.9l.5 1l.5 -1.4l.5 1.2l.5 -3.5l.5 2.9l.5 -1.7l.5 1.7l.5 -.9l.5 .4l.5 -1.3l.5 2.6l.5 -3.2l.5 2.7l.5 -4.4l.5 3.3l.5 -1.4l.5 .6l.5 -1.8l.5 2.4l.5 -3.4l.5 3.3l.5 -2.5l.5 1.7l.5 -1.5l.5 1.3l.5 -.9l.5 .1l.5 -1.6l.5 3.3l.5 -3.1l.5 1.2l.5 -3l.5 4.6l.5 -3l.5 1.4l.5 -2.4l.5 4l.5 -5.7l.5 3.7l.5 -1.3l.5 .2l.5 -3.2l.5 4l.5 -3.5l.5 2.3l.5 -2.6l.5 3.3l.5 -3l.5 2.5l.5 -3.7l.5 5.1l.5 -3.7l.5 1.8l.5 -1.1l.5 0l.5 -2.3l.5 3.5l.5 -1.8l.5 .1l.5 -5.4l.5 5.5l.5 -.7l.5 2.8l.5 -3.6l.5 .9l.5 -2.9l.5 2.1l.5 -1.1l.5 1.1l.5 -.6l.5 1.5l.5 -3.6l.5 3.3l.5 -3.6l.5 2.5l.5 -1.3l.5 3.8l.5 -6.2l.5 3.4l.5 -1.3l.5 0l.5 -1.8l.5 1.6l.5 -4.3l.5 4.4l.5 -.9l.5 .3l.5 -.7l.5 1.4l.5 -2.4l.5 4.1l.5 -3.9l.5 1l.5 -1.3l.5 2.4l.5 -2.5l.5 .8l.5 -2.3l.5 2.4l.5 -2.1l.5 1.6l.5 -2.1l.5 1.2l.5 -4.2l.5 3.2l.5 -.3l.5 .7l.5 -2.6l.5 1.5l.5 -1.4l.5 1.7l.5 -1.5l.5 1.9l.5 -1.9l.5 2.2l.5 -6.2l.5 5.2l.5 -2.3l.5 .8l.5 -.7l.5 3l.5 -5l.5 1.6l.5 -2.4l.5 2.3l.5 -.8l.5 1.4l.5 -2.9l.5 1.6l.5 -.9l.5 .4l.5 -3l.5 2.2l.5 -1.6l.5 2l.5 -1.3l.5 1l.5 -3.1l.5 3.2l.5 -2.5l.5 .6l.5 -.5l.5 .3l.5 -.5l.5 3.2l.5 -3.8l.5 .2l.5 -.8l.5 .2l.5 -3.3l.5 5.2l.5 -3.7l.5 3.1l.5 -2.9l.5 .3l.5 -1l.5 1.8l.5 -2.8l.5 3.6l.5 -2.8l.5 1.7l.5 -2.9l.5 1.4l.5 -2.3l.5 2.7l.5 -2.6l.5 2.2l.5 -4.5l.5 4.7l.5 -2.9l.5 .6l.5 -1.5l.5 2.4l.5 -3l.5 1.1l.5 -.9l.5 1.7l.5 -3l.5 .7l.5 -2l.5 2.4l.5 -2.8l.5 2.4l.5 -3.6l.5 3l.5 -1.7l.5 1.2l.5 -1.8l.5 2.4l.5 -3.7l.5 4.1l.5 -4.7l.5 1.8l.5 -1l.5 .1l.5 -2.2l.5 1.7l.5 -1.5l.5 1.4l.5 -3.5l.5 4.1l.5 -2.6l.5 .5l.5 -.8l.5 .6l.5 -2l.5 2.7l.5 -2.8l.5 3.3l.5 -4.6l.5 1.1l.5 -3.6l.5 5l.5 -2.9l.5 1.5l.5 -1.7l.5 -.1l.5 -.9l.5 .4l.5 -1.5l.5 1.2l.5 -2.2l.5 1.3l.5 -2.4l.5 2.2l.5 -2.4l.5 1.4l.5 -2l.5 1.3l.5 -.8l.5 .1l.5 -1.5l.5 1.6l.5 -2.7l.5 3.1l.5 -3.2l.5 1.4l.5 -1.3l.5 .5l.5 -1.4l.5 .7l.5 -.9l.5 .7l.5 -2.1l.5 1.7l.5 -2.5l.5 1.9l.5 -3l.5 2.2l.5 -3.6l.5 2.7l.5 -1.2l.5 .8l.5 -1.8l.5 .1l.5 -1.1l.5 1.5l.5 -2.4l.5 .9l.5 -1.9l.5 2.1l.5 -1.6l.5 0l.5 -1.1l.5 .4l.5 -1.1l.5 1l.5 -1.3l.5 .8l.5 -3l.5 2l.5 -1.5l.5 1.2l.5 -2.1l.5 .2l.5 -3l.5 3.3l.5 -2l.5 .7l.5 -1l.5 1.1l.5 -4l.5 3.7l.5 -2.4l.5 .2l.5 -2.8l.5 2.3l.5 -1.4l.5 .8l.5 -1.5l.5 -.1l.5 -1.1l.5 1.8l.5 -3.1l.5 1.6l.5 -1.5l.5 .4l.5 -2.1l.5 1.3l.5 -1.3l.5 -.1l.5 -1.2l.5 1.6l.5 -2l.5 .5l.5 -1.6l.5 1.3l.5 -2.6l.5 .7l.5 -1.3l.5 1l.5 -1.1l.5 -.1l.5 -.7l.5 -.3l.5 -.7l.5 .3l.5 -2.2l.5 1.2l.5 -1.5l.5 1.7l.5 -3.6l.5 1.3l.5 -1.6l.5 1.8l.5 -2.4l.5 1l.5 -1.9l.5 .5l.5 -3l.5 2.3l.5 -2.1l.5 3.3l.5 -3.6l.5 .9l.5 -2.3l.5 1l.5 -1.8l.5 .8l.5 -2.1l.5 1l.5 -1.2l.5 0l.5 -.5l.5 -.1l.5 -2l.5 1.5l.5 -1.4l.5 -.1l.5 -1.6l.5 1.4l.5 -3.6l.5 3.2l.5 -2.4l.5 0l.5 -.9l.5 .4l.5 -2.5l.5 2l.5 -2.1l.5 1.2l.5 -3.2l.5 2.2l.5 -3.2l.5 1l.5 -1.6l1 1.4l1 -3l1 .1l1 -2.2l1 .2l1 -2.9l1 1.3l1 -3l1 -.8l1 -2.5l1 .9l1 -2.7l1 .2l1 -2.5l1 .6l1 -2.2l1 -.6l1 -3.1l1 1.4l1 -2.2l1 .9l1 -3.2l1 -1.1l1 -1.6l1 0l1 -2.1l1 -.9l1 -1.7l1 -.9l1 -1.9l1 .1l1 -2.8l1 -.1l1 -2.5l1 0l1 -2.1l1 -.2l1 -2.5l1 -.5l1 -2.1l1 -.7l1 -3l1 .7l1 -1.9l1 -.8l1 -2.3l1 -.3l1 -1.7l1 -.3l1 -2.9l1 -.3l1 -2.4l1 -.3l1 -2.7l1 .2l1 -3l1 .6l1 -2.4l1 -.8l1 -2.6l1 -.2l1 -2.2l1 -.6l1 -2.4l1 -.5l1 -2.1l1 -1l1 -2.3l1 -.3l1 -1.7l1 -1l1 -2.4l1 -.7l1 -1.7l1 -1l1 -1.7l1 -.9l1 -2.3l1 -.3l1 -2.5l1 -.3l1 -3.1l1 -.5l1 -2.7l1 .2l1 -2l1 -1l1 -1.9l1 -.8l1 -2.7l1 .1l1 -3.1l1 -.5l1 -1.9l1 -1.3l1 -3.3l1 .2l1 -2.3l1 -.1l1 -3l1 -.3l1 -2.8l1 -.5l1 -2.1l1 -.3l1 -2.3l1 -1.2l1 -2.8l1 .5l1 -3.1l1 -.7l1 -3l1 .2l1 -2.5l1 -1.2l1 -1.7l1 -.8l1 -2.5l1 -.8l1 -2.3l1 -1.2l1 -2.1l1 0l1 -3.4l1 .1l1 -4l1 1l1 -3.1l1 -1.1l1 -2.8l1 -.6l1 -2.1l1 -1.1l1 -1.7l1 -1l1 -2.2l1 -.4l1 -3.1l1 -1.1l1 -2.1l1 -1.1l1 -2.6l1 -.7l1 -2.3l1 -.9l1 -2.1l1 -1l1 -2.4l1 -.9l1 -2.8l1 -1.1l1 -3.5l1 1.3l1 -2.8l1 -1.2l1 -2.5l1 -.9l1 -2.2l1 -.3l1 -3.6l1 -.8l1 -2.1l1 -.6l1 -2.7l1 -1.2l1 -2.6l1 -.7l1 -2.4l1 -.2l1 -2.8l1 -1l1 -2.3l1 -.9l1 -2.3l1 -1.6l1 -2.7l1 -.6l1 -2.6l1 -.7l1 -1.9l1 -1.4l1 -1.9l1 -1.4l1 -2.4l1 -.5l1 -2.9l1 -.9l1 -2.9l1 .4l1 -3.1l1 0l1 -3l1 -.6l1 -3.1l1 -.8l1 -3.3l1 .1l1 -2.1l1 -1.1l1 -2.4l1 -1.1l1 -2.3l1 -.8l1 -2.7l1 .1l1 -2.8l1 -1.3l1 -2.3l1 -.7l1 -2.2l1 -.4l1 -3l1 -.7l1 -2.2l1 -1l1 -3.5l1 .2l1 -2.4l1 -.8l1 -2l1 -1.2l1 -1.9l1 -1.1l1 -2l1 -.8l1 -2.2l1 -1.5l1 -2.1l1 -.9l1 -2.2l1 -.5l1 -2.3l1 -.8l1 -3l1 -.3l1 -2.6l1 -.4l1 -1.7l1 -1l1 -2.1l1 -1.2l1 -2.1l1 -.8l1 -1.7l1 -1.1l1 -2l1 -.8l1 -2.1l1 -1.1l1 -1.5l1 -1.2l1 -1.7l1 -1.1l1 -2.2l1 -.2l1 -2.7l1 -.6l1 -2.1l1 -.7l1 -1.7l1 -1.2l1 -2.2l1 -.3l1 -2.1l1 -.8l1 -1.9l1 -.4l1 -2l1 -1.2l1 -2.1l1 0l1 -2l1 .1l1 -2.7l1 -.9l1 -1.9l1 -.6l1 -2.5l1 0l1 -2.1l1 -.3l1 -2.2l1 -.5l1 -1.9l1 0l1 -2.6l1 -.1l1 -2.1l1 -.5l1 -2.3l1 -.5l1 -1.5l1 -.7l1 -1.9l1 -.3l1 -2.7l1 .1l1 -2.9l1 1.5l1 -3l1 -.7l1 -1.7l1 .3l1 -2.7l1 -.5l1 -1.5l1 -.5l1 -2.9l1 .4l1 -1.8l1 0l1 -2l1 0l1 -2.7l1 1.1l1 -2.3l1 -.8l1 -1.3l1 -.9l1 -2.1l1 1.1l1 -2.4l1 -.6l1 -1.3l1 -.1l1 -2.3l1 -.3l1 -1.2l1 .1l1 -1.8l1 -.4l1 -1.5l1 -.2l1 -1.8l1 -.2l1 -1.4l1 -.4l1 -2.3l1 .4l1 -1.8l1 .7l1 -2.9l1 .8l1 -1.8l1 -.4l1 -1.2l1 -.1l1 -1.5l1 -.2l1 -1.3l1 .4l1 -1.8l1 -.1l1 -1.6l1 -.6l1 -.8l1 -.6l1 -1.7l1 .9l1 -2.4l1 .4l1 -2.4l1 1.1l1 -1.4l1 -.3l1 -2l1 .2l1 -.8l1 -.5l1 -1l1 -.1l1 -2.4l1 .7l1 -1.3l1 -.3l1 -1.4l1 -.2l1 -1.8l1 .8l1 -1.9l1 .3l1 -1.2l1 -.4l1 -1.6l1 .4l1 -1.5l1 .3l1 -2.4l1 1.1l1 -1.6l1 -.2l1 -1.2l1 .7l1 -2l1 0l1 -1.1l1 -.3l1 -1l1 -.4l1 -1.2l1 .6l1 -2.6l1 1.5l1 -1.5l1 -.5l1 -.9l1 .2l1 -1.2l1 -.3l1 -2.2l1 1.4l1 -2.2l1 1.7l1 -1.7l1 0l1 -1l1 1.3l1 -3.1l1 1.2l1 -1.4l1 .5l1 -1.2l1 .2l1 -1.1l1 .2l1 -1.9l1 .7l1 -.7l1 .1l1 -.8l1 0l1 -1.1l1 .6l1 -1.2l1 .6l1 -1.2l1 .8l1 -2.3l1 .9l1 -.9l1 .6l1 -1.2l1 0l1 -1.6l1 1.5l1 -1.5l1 1.2l1 -1.5l1 .8l1 -1.5l1 .1l1 -1.6l1 1.5l1 -1.1l1 .1l1 -.9l1 .5l1 -1.4l1 .8l1 -.8l1 0l1 -1.1l1 .6l1 -1.5l1 1.8l1 -1.8l1 1.1l1 -1.1l1 .1l1 -1.4l1 1.4l1 -1.1l1 .4l1 -.6l1 1.2l1 -2l1 1l1 -1.2l1 1.2l1 -2l1 .5l1 -.7l1 .5l1 -.5l1 .1l1 -.6l1 .4l1 -.7l1 .6l1 -1l1 .8l1 -1.4l1 1.2l1 -1.4l1 .5l1 -.8l1 1.1l1 -1.8l1 .8l1 -.7l1 .7l1 -1.7l1 1l1 -1.4l1 1.9l1 -1.5l1 1l1 -1.9l1 1.1l1 -.6l1 1.4l1 -1.9l1 1l1 -.9l1 .9l1 -1l1 .2l1 -1l1 1.5l1 -1.3l1 .6l1 -1.6l1 1.7l1 -.8l1 .6l1 -1.8l1 2.1l1 -1.6l1 1.4l1 -1.6l1 1l1 -1l1 .2l1 -1l1 1.7l1 -1.9l1 1.7l1 -1.7l1 1.6l1 -2l1 1.2l1 -.7l1 .3l1 -.8l1 .8l1 -.7l1 .4l1 -.4l1 .6l1 -.7l1 .6l1 -1l1 .5l1 -1.2l1 1.6l1 -1l1 .1l1 -1.2l1 1.3l1 -.5l1 .2l1 -.7l1 1.6l1 -2.5l1 1.3l1 -.7l1 .7l1 -.7l1 1l1 -1l1 .6l1 -.6l1 .4l1 -1l1 1.8l1 -2.4l1 1.4l1 -.6l1 .6l1 -.4l1 0l1 -.3l1 1.6l1 -1.8l1 .5l1 -.3l1 0l1 -.3l1 .8l1 -1.3l1 .7l1 -.2l1 .8l1 -1.1l1 .4l1 -.8l1 .8l1 -1.1l1 1.4l1 -1.3l1 .8l1 -.4l1 .3l1 -.9l1 1.1l1 -1.6l1 2l1 -1l1 .6l1 -.9l1 1.7l1 -1.6l1 .5l1 -.8l1 .6l1 -1l1 1.5l1 -.9l1 .7l1 -.7l1 1.3l1 -1.3l1 .3l1 -.6l1 1.3l1 -1.6l1 .9l1 -.4l1 1.3l1 -1.4l1 1l1 -1.2l1 .7l1 -.5l1 .1l1 -.2l1 .6l1 -1.5l1 2.2l1 -1.8l1 .9l1 -.5l1 .8l1 -.7l1 1.2l1 -1.8l1 .9l1 -.8l1 1.5l1 -1.1l1 .5l1 -.9l1 1.2l1 -.8l1 .4l1 -.5l1 .3l1 -.2l1 1.1l1 -1.3l1 .6l1 -.5l1 .3l1 -.8l1 1.2l1 -1.9l1 2.1l1 -1.4l1 1.8l1 -1.1l1 .1l1 -.9l1 1l1 -.5l1 1.7l1 -1.6l1 .4l1 -1l1 1.8l1 -.9l1 1.3l1 -1.7l1 .5l1 -.5l1 1l1 -.8l1 1.1l1 -2l1 1.6l1 -1.8l1 1.9l1 -.6l1 .2l1 -.6l1 1.5l1 -2.2l1 2.1l1 -1.1l1 1.6l1 -1.7l1 .5l1 -1.3l1 2l1 -.8l1 .2l1 -.9l1 1.4l1 -1.9l1 1.8l1 -.7l1 .6l1 -.4l1 1.1l1 -.9l1 .9l1 -1.1l1 1.1l1 -1l1 .3l1 -.2l1 .9l1 -1.2l1 .7l1 -.9l1 1.3l1 -1.7l1 1.8l1 -1.2l1 .8l1 -.9l1 1.6l1 -1.7l1 1.3l1 -1.3l1 1.5l1 -.6l1 .7l1 -1l1 .7l1 -.4l1 .2l1 -1l1 1.4l1 -.6l1 .3l1 -1.2l1 1.3l1 -.6l1 1.5l1 -1.3l1 .4l1 -.2l1 .5l1 -.9l1 1.3l1 -1l1 1.5l1 -1.5l1 1.4l1 -1.1l1 .2l1 -.2l1 .2l1 -1.6l1 2.6l1 -1.5l1 .6l1 -.9l1 1.7l1 -1.5l1 1.1l1 -.5l1 .5l1 -.8l1 .7l1 -.4l1 .4l1 -.2l1 .6l1 -1.2l1 1.6l1 -1l1 .6l1 -1.1l1 .7l1 -.2l1 .4l1 -.7l1 .6l1 -.6l1 1l1 -1.1l1 .8l1 -.8l1 1l1 -1l1 .9l1 -.2l1 2.2l1 -2.8l1 1.8l1 -1.3l1 .9l1 -1l1 .9l1 -1.4l1 1.2l1 -1l1 .9l1 -.3l1 .4l1 -.3l1 .3l1 -.2l1 .4l1 -.5l1 .5l1 -1.6l1 1.8l1 -1.5l1 1.2l1 -.9l1 1.4l1 -.8l1 .7l1 -1.7l1 2.2l1 -1.7l1 1.3l1 -1.6l1 1.4l1 -.7l1 .5l1 -.3l1 .7l1 -.7l1 .3l1 -.4l1 .9l1 -.9l1 .5l1 -.9l1 .8l1 -.1l1 .1l1 -.3l1 .9l1 -1.3l1 .8l1 -.8l1 1.2l1 -.6l1 .2l1 -.5l1 1l1 -.6l1 .8l1 -1.4l1 1l1 -.6l1 .7l1 -1.1l1 1.4l1 -1.3l1 1.4l1 -1.6l1 1.2l1 -1l1 1.5l1 -1.8l1 2.3l1 -1.6l1 .2l1 -.7l1 1.2l1 -1.5l1 1.5l1 -1.1l1 .9l1 -1l1 .8l1 -1l1 1.6l1 -.9l1 .4l1 -.5l1 .7l1 -.6l1 .3l1 -.7l1 .8l1 -.8l1 1.2l1 -.9l1 .6l1 -1l1 .9l1 -1.1l1 1.7l1 -1.1l1 .4l1 -.8l1 .7l1 -.8l1 .9l1 -1.5l1 1.5l1 -.8l1 .6l1 -1.4l1 1.4l1 -.7l1 .7l1 -.4l1 .2l1 -.3l1 .4l1 -.7l1 1l1 -.6l1 .7l1 -1.3l1 .8l1 -.2l1 .9l1 -1.2l1 .8l1 -.7l1 .8l1 -.8l1 .6l1 -.6l1 .7l1 -.5l1 .8l1 -1l1 .4l1 -.9l1 .8l1 -.8l1 .9l1 -.4l1 .8l1 -2l1 2.3l1 -1.6l1 1.4l1 -.8l1 1.2l1 -1.9l1 1.6l1 -.9l1 .5l1 -1.1l1 .6l1 -.3l1 1.5l1 -1.5l1 1.1l1 -2l1 1.2l1 -.1l1 .8l1 -.9l1 .4l1 -.4l1 .4l1 -.3l1 .3l1 -.6l1 .7l1 -1l1 .7l1 -1.6l1 1.5l1 -.2l1 .8l1 -1.5l1 1l1 -.4l1 .8l1 -.8l1 .4l1 -.4l1 .7l1 -1.2l1 1.9l1 -1.8l1 1.8l1 -1.6l1 1.1l1 -2.3l1 1.7l1 -.5l1 1.3l1 -1l1 .2l1 -.3l1 1l1 -1.3l1 1.2l1 -.8l1 .3l1 -1.5l1 2.1l1 -1.4l1 .9l1 -.4l1 1.2l1 -1.4l1 1.4l1 -1.6l1 .7l1 -.7l1 1.3l1 -1l1 .2l1 -.5l1 .8l1 -.7l1 .9l1 -1.6l1 1.5l1 -1l1 1.7l1 -1.1l1 .6l1 -1.2l1 .7l1 -.4l1 1.1l1 -1.3l1 1.1l1 -1.6l1 1.1l1 -.3l1 .3l1 -.2l1 .3l1 -.9l1 1.4l1 -.7l1 .3l1 -1.2l1 1.1l1 -.2l1 .5l1 -.8l1 .5l1 -.7l1 .8l1 -.8l1 .7l1 -.5l1 1.3l1 -1l1 1.1l1 -.9l1 1.4l1 -2.3l1 1.7l1 -1.4l1 1.8l1 -1.3l1 .9l1 -.7l1 .3l1 -.7l1 1.2l1 -1l1 .8l1 -1.3l1 1.3l1 -.6l1 .6l1 -1.1l1 1.5l1 -1.9l1 1.3l1 -.3l1 .7l1 -1.4l1 1.2l1 -1.6l1 2.1l1 -.8l1 .5l1 -1.8l1 2.5l1 -1.5l1 1.2l1 -2.4l1 2l1 -.8l1 .6l1 -.2l1 .7l1 -.9l1 1.2l1 -1l1 2.4l1 -2.8l1 1.4l1 -1.3l1 1.6l1 -.8l1 1.2l1 -1.7" stroke="#400000" stroke-width="6.5"/>
<path d="M277 1567l.5 -.5l.5 .9l.5 -1.8l.5 2.1l.5 -2.3l.5 1.7l.5 -2.3l.5 2.9l.5 -1.7l.5 1.7l.5 -1.3l.5 .7l.5 -1.7l.5 1.6l.5 -1.2l.5 3.3l.5 -2.9l.5 3.7l.5 -5.1l.5 5l.5 -3.3l.5 2.4l.5 -2.5l.5 .7l.5 -.6l.5 4.4l.5 -4.9l.5 .9l.5 -.3l.5 2.7l.5 -3.2l.5 2.3l.5 -2.9l.5 3l.5 -3l.5 1.3l.5 -1.4l.5 2.3l.5 -1.1l.5 .3l.5 -.2l.5 2l.5 -2.1l.5 2.3l.5 -4.6l.5 3.8l.5 -1.6l.5 1.3l.5 -4.3l.5 4.4l.5 -3.1l.5 2l.5 -1l.5 1.2l.5 -1.4l.5 1.2l.5 -1.2l.5 3.4l.5 -3.4l.5 1.4l.5 -1.1l.5 1l.5 -2.1l.5 2.8l.5 -1.3l.5 1.8l.5 -3.3l.5 3.9l.5 -3.3l.5 2.3l.5 -4.3l.5 4l.5 -.9l.5 2.1l.5 -3.1l.5 1.6l.5 -1.1l.5 1l.5 -2.9l.5 3.2l.5 -1.2l.5 1l.5 -.7l.5 .5l.5 -2.1l.5 1.8l.5 -.8l.5 2.6l.5 -2.9l.5 1.1l.5 -1.1l.5 1.6l.5 -2.3l.5 1.7l.5 -.9l.5 3l.5 -2.6l.5 3.2l.5 -5.9l.5 3.7l.5 -1.9l.5 1.7l.5 -3.9l.5 4.9l.5 -2.3l.5 1.3l.5 -1.1l.5 1.1l.5 -.7l.5 1.5l.5 -2l.5 2.5l.5 -1.8l.5 .2l.5 -1.7l.5 2.1l.5 -1.8l.5 2.9l.5 -1.9l.5 .5l.5 -1.1l.5 1.1l.5 -3.4l.5 5l.5 -2.4l.5 4l.5 -4.7l.5 4.1l.5 -4l.5 2.6l.5 -2.6l.5 1.4l.5 -2.7l.5 4.5l.5 -4.3l.5 2.4l.5 -.5l.5 .6l.5 -1.8l.5 3.3l.5 -2.6l.5 1l.5 -1.4l.5 2.3l.5 -3.1l.5 4.1l.5 -2.3l.5 1.8l.5 -1.6l.5 1.2l.5 -1.7l.5 1.5l.5 -1l.5 .7l.5 -1.1l.5 2.7l.5 -3.5l.5 3.9l.5 -3.7l.5 2.7l.5 -2.2l.5 2.8l.5 -4.6l.5 2.7l.5 -1.4l.5 3.8l.5 -3.9l.5 1.2l.5 -.2l.5 1.3l.5 -1.9l.5 1.6l.5 -1.1l.5 2l.5 -3.7l.5 4l.5 -2.9l.5 1.3l.5 -.5l.5 .7l.5 -1.5l.5 1.8l.5 -1.5l.5 .7l.5 -.2l.5 1.9l.5 -3l.5 1.7l.5 -1.5l.5 3.1l.5 -3.7l.5 3l.5 -1.7l.5 1.1l.5 -2.2l.5 2.6l.5 -2.8l.5 2.2l.5 -3.1l.5 4.4l.5 -3.4l.5 2.2l.5 -2.2l.5 4.4l.5 -5.4l.5 4.2l.5 -4.5l.5 4l.5 -3l.5 1.7l.5 -1.4l.5 4l.5 -6l.5 3.8l.5 -.5l.5 .5l.5 -.5l.5 1.4l.5 -3.8l.5 2.7l.5 -1.8l.5 4.2l.5 -3.4l.5 .9l.5 -.8l.5 2.2l.5 -2.6l.5 2.7l.5 -3.1l.5 1.8l.5 -1.6l.5 1.8l.5 -1.1l.5 3.8l.5 -5.5l.5 3.7l.5 -1.6l.5 .2l.5 -2.4l.5 3.1l.5 -1.9l.5 1.3l.5 -.3l.5 .6l.5 -2.3l.5 1.9l.5 -3.6l.5 4.7l.5 -4.3l.5 8.4l.5 -6.1l.5 3l.5 -2.2l.5 1.9l.5 -3.4l.5 3.4l.5 -2.1l.5 .3l.5 -.1l.5 .1l.5 -1.3l.5 2.1l.5 -1.2l.5 2l.5 -2.5l.5 1.9l.5 -2.8l.5 3.8l.5 -2.3l.5 .3l.5 -2.2l.5 4.9l.5 -5.1l.5 3.1l.5 -2l.5 1.9l.5 -4.8l.5 4.6l.5 -.5l.5 .2l.5 -1.9l.5 2.2l.5 -.7l.5 2.2l.5 -2.5l.5 .6l.5 -2.5l.5 3.3l.5 -1.5l.5 3.6l.5 -5.5l.5 4.1l.5 -3l.5 2.5l.5 -1.2l.5 .5l.5 -.7l.5 .7l.5 -.4l.5 2.5l.5 -3.3l.5 1l.5 -1.1l.5 2l.5 -3.6l.5 3.4l.5 -.9l.5 .6l.5 -2.3l.5 1.9l.5 -1.5l.5 2l.5 -1l.5 .7l.5 -.5l.5 2.7l.5 -2.9l.5 1.7l.5 -2.7l.5 2.6l.5 -2.1l.5 3.3l.5 -2.9l.5 1.4l.5 -1.2l.5 .3l.5 -1.6l.5 2.3l.5 -3.9l.5 3.6l.5 -.7l.5 2l.5 -2.2l.5 2.5l.5 -3.8l.5 3.8l.5 -3.5l.5 3.2l.5 -4.1l.5 2.8l.5 -1.3l.5 4l.5 -3.4l.5 1.2l.5 -3.1l.5 2.3l.5 -2.5l.5 3.9l.5 -3l.5 2.9l.5 -2.2l.5 1.3l.5 -.8l.5 .7l.5 -.9l.5 1l.5 -.6l.5 .4l.5 -.4l.5 .9l.5 -3.8l.5 4l.5 -1.1l.5 2.8l.5 -3.3l.5 3.7l.5 -5.3l.5 3.6l.5 -2.5l.5 1.4l.5 -3l.5 3.3l.5 -1.7l.5 2.2l.5 -4.7l.5 4l.5 -1.6l.5 3.1l.5 -1.9l.5 .3l.5 -2.1l.5 2l.5 -2l.5 3.6l.5 -3.5l.5 3.5l.5 -2.5l.5 1.6l.5 -1.1l.5 .9l.5 -1.2l.5 2.6l.5 -4.4l.5 3.6l.5 -1.5l.5 .6l.5 -1.9l.5 4.3l.5 -4l.5 1.6l.5 -1l.5 1.3l.5 -2.3l.5 2l.5 -2.3l.5 3.5l.5 -2.8l.5 2l.5 -3.8l.5 5.2l.5 -3.1l.5 3.1l.5 -2.7l.5 1.1l.5 -2.3l.5 5.9l.5 -4.4l.5 2.8l.5 -3.5l.5 1.3l.5 -3l.5 3.3l.5 -2.2l.5 3.6l.5 -3.7l.5 2.3l.5 -2.3l.5 2.5l.5 -1.5l.5 .8l.5 -.9l.5 2.1l.5 -1.8l.5 2.2l.5 -3.7l.5 2.1l.5 -1.5l.5 3.9l.5 -2.5l.5 1.1l.5 -2.6l.5 2.9l.5 -2.2l.5 3.2l.5 -3.6l.5 1.9l.5 -1l.5 1.6l.5 -2.2l.5 1.2l.5 -1.2l.5 1l.5 -1.8l.5 1.9l.5 -.2l.5 1.6l.5 -3l.5 1.5l.5 -2.8l.5 3.8l.5 -2.8l.5 4.7l.5 -3l.5 1.8l.5 -4.2l.5 4.2l.5 -2.9l.5 3l.5 -2.4l.5 1.9l.5 -2.5l.5 2.1l.5 -2.1l.5 1.9l.5 -2.3l.5 3.5l.5 -4.8l.5 5.9l.5 -3.5l.5 .9l.5 -.4l.5 .3l.5 -.4l.5 3.2l.5 -4.7l.5 4.1l.5 -4.1l.5 3.8l.5 -3.4l.5 2.5l.5 -2.8l.5 3.8l.5 -2.8l.5 2.8l.5 -6.8l.5 5.4l.5 -2.6l.5 3.4l.5 -3.4l.5 2.2l.5 -2.9l.5 4l.5 -3.8l.5 3.6l.5 -2l.5 2l.5 -4.4l.5 3.7l.5 -.7l.5 .2l.5 -.3l.5 2l.5 -1.9l.5 .1l.5 -2.1l.5 5.1l.5 -3.2l.5 1.4l.5 -1.3l.5 1l.5 -2.1l.5 1.3l.5 -1.8l.5 2.7l.5 -1.2l.5 .6l.5 -.7l.5 1.5l.5 -2.7l.5 1.9l.5 -1.3l.5 1.3l.5 -.4l.5 2.2l.5 -2.3l.5 2.3l.5 -3.2l.5 1.5l.5 -3.8l.5 3.5l.5 -.4l.5 .5l.5 -1l.5 1.3l.5 -2.1l.5 2l.5 -1.4l.5 1.1l.5 -2.1l.5 2.3l.5 -.6l.5 .5l.5 -1l.5 1.6l.5 -3.5l.5 3.4l.5 -1.1l.5 .8l.5 -1.1l.5 1.7l.5 -1.5l.5 1.5l.5 -1.7l.5 1l.5 -2.8l.5 3.3l.5 -2.7l.5 3.5l.5 -2l.5 2.9l.5 -4l.5 1.7l.5 -4.3l.5 4.7l.5 -3l.5 4.4l.5 -3l.5 3l.5 -2.6l.5 1l.5 -3.2l.5 5.3l.5 -2.7l.5 .6l.5 -2.4l.5 3.1l.5 -1.8l.5 1.3l.5 -.8l.5 1.8l.5 -2.8l.5 1.3l.5 -1.3l.5 2.1l.5 -2.6l.5 2.3l.5 -1.1l.5 1.1l.5 -2.2l.5 4.2l.5 -3.5l.5 1l.5 -.6l.5 3.2l.5 -3.3l.5 1.6l.5 -2.4l.5 5l.5 -4.1l.5 2l.5 -2.1l.5 1.6l.5 -1l.5 1.2l.5 -5.6l.5 4.6l.5 -1l.5 1.9l.5 -3.8l.5 4.5l.5 -2.3l.5 1l.5 -1.7l.5 2.1l.5 -.9l.5 1.5l.5 -4.6l.5 3.4l.5 -.3l.5 .4l.5 -2.5l.5 2.2l.5 -2.4l.5 3.9l.5 -1.9l.5 .7l.5 -1.6l.5 2.9l.5 -4.1l.5 3.9l.5 -2l.5 1.6l.5 -3.5l.5 4.1l.5 -2.4l.5 1.5l.5 -1.5l.5 2.4l.5 -2l.5 2.1l.5 -3.2l.5 2.8l.5 -1.7l.5 1.5l.5 -2.2l.5 1.5l.5 -1.9l.5 1.6l.5 -.7l.5 2l.5 -2.4l.5 1.7l.5 -2.7l.5 5.5l.5 -6.7l.5 3.3l.5 -.5l.5 2.8l.5 -2.6l.5 1.7l.5 -1.7l.5 .9l.5 -2.1l.5 4l.5 -4.9l.5 3.3l.5 -2.2l.5 1.4l.5 -.6l.5 1.4l.5 -1.6l.5 1.4l.5 -2.2l.5 2l.5 -2.3l.5 3.5l.5 -1.9l.5 1.3l.5 -1.8l.5 .9l.5 -1.4l.5 3.6l.5 -4.2l.5 2.3l.5 -4.7l.5 5.6l.5 -1.7l.5 1.3l.5 -4.4l.5 3.7l.5 -1l.5 2.5l.5 -2.7l.5 1.9l.5 -1.9l.5 3.9l.5 -5.9l.5 3.7l.5 -2l.5 4.3l.5 -4.2l.5 1.3l.5 -1l.5 1.8l.5 -1.7l.5 3.3l.5 -3.3l.5 1.8l.5 -1.7l.5 1.4l.5 -1.5l.5 4.3l.5 -5.7l.5 2.4l.5 -2.2l.5 4.9l.5 -3.2l.5 3l.5 -4.4l.5 3.4l.5 -2.7l.5 .9l.5 -3.3l.5 3.7l.5 -2.9l.5 2.9l.5 -.7l.5 .7l.5 -.6l.5 .9l.5 -1.8l.5 3.7l.5 -2.8l.5 3l.5 -6.1l.5 5.3l.5 -3.3l.5 2.3l.5 -3.4l.5 2.4l.5 -.2l.5 .5l.5 -.6l.5 .9l.5 -.9l.5 1.9l.5 -2.3l.5 4.2l.5 -3.8l.5 .5l.5 -1.2l.5 2l.5 -2.9l.5 2.1l.5 -1.8l.5 1.9l.5 -.6l.5 2.6l.5 -3.5l.5 1.2l.5 -1l.5 3.2l.5 -5.5l.5 4.2l.5 -1.9l.5 1.9l.5 -2l.5 3.2l.5 -4.8l.5 3.7l.5 -1.6l.5 1.5l.5 -1.9l.5 2.3l.5 -4.8l.5 3.9l.5 -3l.5 3.5l.5 -1.7l.5 1.1l.5 -3l.5 2.8l.5 -2.7l.5 3.6l.5 -2.7l.5 3.5l.5 -2.7l.5 1.7l.5 -4.2l.5 4.3l.5 -1.3l.5 .8l.5 -.8l.5 1.2l.5 -1.1l.5 2.1l.5 -2.7l.5 1.3l.5 -1.3l.5 3l.5 -2.6l.5 .7l.5 -.7l.5 2.5l.5 -4.8l.5 2.7l.5 -2.1l.5 4.7l.5 -3.2l.5 .6l.5 -1.3l.5 1.3l.5 -1.2l.5 1.9l.5 -2l.5 1.2l.5 -1.6l.5 5.7l.5 -5.8l.5 2.4l.5 -2.1l.5 2.6l.5 -3.1l.5 2.6l.5 -.8l.5 1.6l.5 -3.1l.5 2.3l.5 -4.1l.5 5.6l.5 -2.9l.5 .9l.5 -.6l.5 3.1l.5 -3.5l.5 2l.5 -2.2l.5 1l.5 -1.5l.5 2.4l.5 -1.9l.5 2.8l.5 -3.2l.5 3.6l.5 -2.7l.5 2.2l.5 -2.6l.5 2.3l.5 -2.5l.5 1.2l.5 -4.2l.5 5.2l.5 -2.1l.5 1l.5 -.7l.5 2.5l.5 -2.7l.5 3.5l.5 -3.2l.5 .5l.5 -.3l.5 2.3l.5 -2.6l.5 1.8l.5 -3.1l.5 3.2l.5 -4.8l.5 4.6l.5 -1.6l.5 .6l.5 -3.1l.5 4.4l.5 -1.7l.5 .9l.5 -1.9l.5 1.9l.5 -1.2l.5 .9l.5 -.6l.5 .4l.5 -2.1l.5 1.9l.5 -1.5l.5 3l.5 -2l.5 1.5l.5 -2.8l.5 2l.5 -2l.5 3.5l.5 -5.5l.5 6.9l.5 -3.6l.5 1.6l.5 -1.4l.5 .3l.5 -2.6l.5 4.6l.5 -3.8l.5 1.7l.5 -2.3l.5 2.6l.5 -1.4l.5 1.5l.5 -1.6l.5 1.2l.5 -.9l.5 1.7l.5 -4.3l.5 4.9l.5 -2.6l.5 1.3l.5 -.3l.5 1.8l.5 -2.4l.5 1.8l.5 -1.4l.5 2.2l.5 -4.1l.5 4.1l.5 -3l.5 2.8l.5 -3.8l.5 2.2l.5 -2.2l.5 2.6l.5 -2.1l.5 3.4l.5 -2.6l.5 1.4l.5 -1.8l.5 2.1l.5 -1.6l.5 .6l.5 -.9l.5 1.7l.5 -.9l.5 .1l.5 -.9l.5 1.5l.5 -2.4l.5 2.1l.5 -1.8l.5 3.4l.5 -2.9l.5 4.6l.5 -5l.5 2.6l.5 -1.8l.5 3.5l.5 -5.7l.5 5.8l.5 -4.7l.5 2.6l.5 -2.3l.5 2.4l.5 -1.3l.5 .9l.5 -1.8l.5 1.2l.5 -1.8l.5 5.2l.5 -4.6l.5 2.7l.5 -3.2l.5 1.9l.5 -1.8l.5 2l.5 -2.1l.5 2.9l.5 -4l.5 2.6l.5 -.9l.5 2.5l.5 -1.9l.5 1.9l.5 -1.7l.5 .2l.5 -1.1l.5 2.6l.5 -2.3l.5 1l.5 -.7l.5 .4l.5 -1.6l.5 3.1l.5 -2.3l.5 1.4l.5 -2.1l.5 1.9l.5 -1.2l.5 1.3l.5 -3.9l.5 3.8l.5 -3.5l.5 4.4l.5 -2.6l.5 1.7l.5 -1.4l.5 .8l.5 -.2l.5 .6l.5 -3.4l.5 3.3l.5 -4l.5 4.2l.5 -1.8l.5 2.3l.5 -1.5l.5 .8l.5 -2.7l.5 5l.5 -4.5l.5 5l.5 -4.8l.5 4l.5 -4.2l.5 2.7l.5 -3.2l.5 2.6l.5 -1l.5 .6l.5 -1l.5 3.7l.5 -3.1l.5 .5l.5 -1.8l.5 2.5l.5 -1.3l.5 1.7l.5 -1.4l.5 2.8l.5 -5.9l.5 3.6l.5 -1.9l.5 2l.5 -1.9l.5 1.7l.5 -2.6l.5 2.4l.5 -4.1l.5 5.7l.5 -3.6l.5 3.1l.5 -2l.5 2.2l.5 -2.9l.5 2.4l.5 -2.5l.5 2.8l.5 -2l.5 2.4l.5 -4.3l.5 3.6l.5 -4.7l.5 4.7l.5 -2.2l.5 1.8l.5 -3.8l.5 4.9l.5 -3.8l.5 3.3l.5 -3.3l.5 3l.5 -2.7l.5 1.7l.5 -2.8l.5 5l.5 -6.3l.5 5.6l.5 -2.2l.5 .8l.5 -.6l.5 .7l.5 -.8l.5 2.1l.5 -5.2l.5 3.4l.5 -1.2l.5 1.4l.5 -.6l.5 1.8l.5 -2.5l.5 2.3l.5 -1.8l.5 1.6l.5 -4.4l.5 7l.5 -6.1l.5 2.8l.5 -4.5l.5 5.3l.5 -1.6l.5 .6l.5 -1.2l.5 1.2l.5 -1.2l.5 2l.5 -1.8l.5 1.3l.5 -2.6l.5 2l.5 -1.5l.5 1.7l.5 -2l.5 2.2l.5 -1.4l.5 1.4l.5 -.7l.5 .3l.5 -.7l.5 1.7l.5 -3l.5 3.9l.5 -2.2l.5 1.2l.5 -2l.5 1.9l.5 -1.4l.5 1.4l.5 -3l.5 3.1l.5 -4.9l.5 4.8l.5 -4.4l.5 3.3l.5 -1.8l.5 2.7l.5 -3.2l.5 3.4l.5 -4.1l.5 3.3l.5 -.5l.5 1.7l.5 -5.6l.5 5.9l.5 -2.3l.5 .8l.5 -1.6l.5 2l.5 -2.7l.5 1.8l.5 -1.6l.5 1.6l.5 -.3l.5 3.9l.5 -5.2l.5 1.6l.5 -.5l.5 1l.5 -2.4l.5 2.4l.5 -2.1l.5 3.9l.5 -4.1l.5 2.3l.5 -.9l.5 1.7l.5 -2.3l.5 .7l.5 -.9l.5 1.7l.5 -1.3l.5 3.3l.5 -4.8l.5 4.4l.5 -6.1l.5 4l.5 -.9l.5 1l.5 -1.9l.5 1.3l.5 -.1l.5 .1l.5 -3.1l.5 3.2l.5 -1.6l.5 2.2l.5 -1.2l.5 1.3l.5 -2.4l.5 2.2l.5 -2.3l.5 3.3l.5 -3.7l.5 4l.5 -2.4l.5 .4l.5 -1.6l.5 3.5l.5 -2.5l.5 1.1l.5 -1.4l.5 3.4l.5 -4.3l.5 1.5l.5 -1.5l.5 3l.5 -1.8l.5 .5l.5 -1.7l.5 2l.5 -1.1l.5 1.4l.5 -3.8l.5 2.8l.5 -2.5l.5 3.8l.5 -3.7l.5 4.2l.5 -4l.5 2.4l.5 -2.8l.5 3.4l.5 -3l.5 2.5l.5 -1.6l.5 1.6l.5 -1.1l.5 1.5l.5 -2.9l.5 3.8l.5 -3.9l.5 4.1l.5 -3.3l.5 3.5l.5 -2.7l.5 .7l.5 -1.1l.5 2l.5 -2l.5 2l.5 -3.8l.5 3.4l.5 -1.5l.5 1.8l.5 -3.2l.5 2.3l.5 -4.5l.5 4.9l.5 -1.8l.5 2.3l.5 -1.9l.5 2.2l.5 -2.7l.5 2.5l.5 -5l.5 3.9l.5 -2.7l.5 2.3l.5 -1.1l.5 1.8l.5 -2.4l.5 2l.5 -2.3l.5 1.8l.5 -1.6l.5 2.3l.5 -1.6l.5 .7l.5 -4.7l.5 5.6l.5 -3.4l.5 2.3l.5 -.3l.5 1.3l.5 -2.6l.5 3.4l.5 -2.5l.5 1.4l.5 -1.8l.5 1.6l.5 -1.7l.5 3.1l.5 -2.9l.5 2.3l.5 -4.2l.5 2.7l.5 -2.7l.5 4.3l.5 -4.2l.5 4.8l.5 -3.9l.5 3.3l.5 -3l.5 3.7l.5 -4.4l.5 1.7l.5 -.5l.5 .5l.5 -.5l.5 1.1l.5 -.9l.5 2.6l.5 -5.3l.5 3.1l.5 -1.9l.5 1.7l.5 -1.7l.5 1.4l.5 -1.3l.5 3.7l.5 -4.3l.5 2.7l.5 -2l.5 1.3l.5 -4.5l.5 5.3l.5 -1.6l.5 2.8l.5 -3l.5 .9l.5 -2.7l.5 4.5l.5 -5.2l.5 2.9l.5 -.4l.5 2.9l.5 -4.1l.5 5.7l.5 -5.5l.5 3.2l.5 -2.9l.5 2.4l.5 -3.8l.5 4.1l.5 -2.3l.5 .7l.5 -1.9l.5 2.1l.5 -1.4l.5 1.8l.5 -3.3l.5 2.2l.5 -1.3l.5 3.2l.5 -4.2l.5 2.8l.5 -3.8l.5 5.1l.5 -4.8l.5 2.9l.5 -1l.5 3.8l.5 -5.6l.5 3.4l.5 -2.6l.5 1.8l.5 -.9l.5 3.2l.5 -3.3l.5 2.4l.5 -4l.5 2.6l.5 -1.1l.5 2.7l.5 -3.9l.5 2.4l.5 -1.8l.5 1.9l.5 -2l.5 1.8l.5 -3.8l.5 3.4l.5 -1.3l.5 1.6l.5 -4.4l.5 3.8l.5 -1.7l.5 3.7l.5 -6l.5 7.6l.5 -6l.5 3.3l.5 -3.6l.5 3.5l.5 -1.8l.5 2l.5 -2.9l.5 2.1l.5 -5.2l.5 8.5l.5 -5.7l.5 4l.5 -4.4l.5 3.8l.5 -4.9l.5 4.9l.5 -2.5l.5 1.9l.5 -2.3l.5 3.8l.5 -6.3l.5 2.8l.5 -1.7l.5 1.8l.5 -.5l.5 3.2l.5 -5.2l.5 2.1l.5 -2.1l.5 3.2l.5 -1.9l.5 2l.5 -3.5l.5 2.4l.5 -2.6l.5 2.2l.5 -2.8l.5 3.7l.5 -1.6l.5 1.8l.5 -3.3l.5 3.7l.5 -4.3l.5 6l.5 -4.6l.5 1.9l.5 -2.3l.5 1.6l.5 -1.9l.5 1.7l.5 -1l.5 1.4l.5 -1.9l.5 1.5l.5 -3.5l.5 3.4l.5 -3l.5 2.5l.5 -1.8l.5 1.6l.5 -.9l.5 2.9l.5 -3.6l.5 2.7l.5 -2.7l.5 3.8l.5 -4.1l.5 1.9l.5 -3l.5 4.7l.5 -4.9l.5 3.4l.5 -5.5l.5 8.6l.5 -6.8l.5 4.1l.5 -2l.5 .6l.5 -.6l.5 2.5l.5 -3.5l.5 1.7l.5 -1.1l.5 2.2l.5 -2.1l.5 3.8l.5 -5l.5 1.5l.5 -3.5l.5 5l.5 -4.2l.5 3.6l.5 -2.4l.5 .9l.5 -1.9l.5 2.2l.5 -1.5l.5 1.6l.5 -2.1l.5 2.2l.5 -2l.5 2.3l.5 -2l.5 .6l.5 -1.9l.5 5.8l.5 -5.7l.5 1.4l.5 -.4l.5 1.5l.5 -2.9l.5 3l.5 -2.3l.5 1.3l.5 -2l.5 1.8l.5 -1.1l.5 2.2l.5 -4.6l.5 3.3l.5 -3.7l.5 4.1l.5 -3.8l.5 2.7l.5 -1.6l.5 5.4l.5 -6.4l.5 3.8l.5 -4.7l.5 3.3l.5 -2l.5 3.2l.5 -3.2l.5 1.7l.5 -2.2l.5 2.4l.5 -2.2l.5 1.2l.5 -.6l.5 .9l.5 -3.1l.5 5.4l.5 -5.2l.5 3l.5 -1.9l.5 .7l.5 -1.2l.5 1.5l.5 -3.5l.5 3.9l.5 -6.1l.5 7.7l.5 -4.8l.5 2.2l.5 -.9l.5 2.3l.5 -4.3l.5 2.1l.5 -2.7l.5 2.6l.5 -1.1l.5 .8l.5 -1.1l.5 3.2l.5 -4.1l.5 2.8l.5 -3.6l.5 3l.5 -1.4l.5 4.3l.5 -4.3l.5 1.6l.5 -2.6l.5 3.2l.5 -4.5l.5 3.5l.5 -4.3l.5 2.5l.5 -2.9l.5 3l.5 -2.1l.5 1.4l.5 -2.2l.5 3.4l.5 -1.7l.5 0l.5 -.4l.5 1l.5 -4.2l.5 3l.5 -2l.5 2.5l.5 -2.1l.5 2.1l.5 -1.4l.5 1.2l.5 -1.3l.5 2.7l.5 -5l.5 3.3l.5 -2.3l.5 1.3l.5 -2.8l.5 3l.5 -1.3l.5 3.4l.5 -4.7l.5 1.5l.5 -1.9l.5 1.7l.5 -2.2l.5 1.3l.5 -.5l.5 3.4l.5 -3.7l.5 .6l.5 -1.4l.5 3.3l.5 -3.4l.5 .4l.5 -.3l.5 1.8l.5 -3l.5 2.8l.5 -2.5l.5 2.4l.5 -3.5l.5 1.8l.5 -2.8l.5 2.3l.5 -1.3l.5 .7l.5 -2.3l.5 5.2l.5 -5.2l.5 2.9l.5 -3.7l.5 3l.5 -2.9l.5 1.7l.5 -2.1l.5 1.4l.5 -1l.5 1.6l.5 -1.5l.5 2.6l.5 -3.3l.5 1.4l.5 -1.4l.5 1.4l.5 -2.1l.5 1.7l.5 -3l.5 1.5l.5 -2.3l.5 2.4l.5 -1.3l.5 1.7l.5 -3.1l.5 1.9l.5 -4.4l.5 3.8l.5 -1.6l.5 1.5l.5 -1.4l.5 1.1l.5 -1.5l.5 3.3l.5 -3.8l.5 2.4l.5 -2.9l.5 1.2l.5 -3.4l.5 2.2l.5 -.5l.5 .2l.5 -3.9l.5 4.5l.5 -2.2l.5 1.1l.5 -1.3l.5 .5l.5 -1.2l.5 2.3l.5 -3.6l.5 1.7l.5 -.9l.5 .6l.5 -1.7l.5 1.9l.5 -1.6l.5 1.6l.5 -3.6l.5 3.7l.5 -3.8l.5 1.7l.5 -2.1l.5 3.1l.5 -5l.5 4.3l.5 -2.8l.5 .9l.5 -1.6l.5 .7l.5 -3.6l.5 3.7l.5 -3.1l.5 2.9l.5 -1.9l.5 2.1l.5 -4l.5 3.3l.5 -1.8l.5 .6l.5 -1.9l.5 2l.5 -2.9l.5 2.3l.5 -2.3l.5 3.4l.5 -5.1l.5 2.3l.5 -2.1l.5 1.3l.5 -2.2l.5 1.7l.5 -2.3l.5 1.5l.5 -2.3l.5 3.3l.5 -2.2l.5 2l.5 -2.6l.5 .1l.5 -1.8l.5 1.5l.5 -1.8l.5 2.7l.5 -3.1l.5 1.2l.5 -1.2l.5 3.3l.5 -3.6l.5 .8l.5 -2.3l.5 .9l.5 -3.8l.5 4.1l.5 -2.2l.5 1.9l.5 -4.2l.5 3.4l.5 -1.6l.5 1.1l.5 -2.7l.5 1.9l.5 -4.3l.5 4l.5 -2.4l.5 1.1l.5 -2.1l.5 2.8l.5 -4.4l.5 3.1l.5 -3.7l.5 3.8l.5 -3.5l.5 2.4l.5 -3l.5 2.5l.5 -1.7l.5 1.9l.5 -4.2l.5 3l.5 -2.5l.5 3.7l.5 -3.5l.5 .7l.5 -2.2l.5 3.2l.5 -3.4l.5 2.1l.5 -2.5l.5 2.1l.5 -2.8l.5 1.4l.5 -2.7l.5 1.3l.5 -2l.5 1.7l.5 -1.8l.5 1.2l.5 -.9l.5 1.5l.5 -2.8l.5 2.7l.5 -2.9l.5 1.5l.5 -2.1l.5 1.7l.5 -2.4l.5 1.7l.5 -2.8l.5 2.4l.5 -4.5l.5 3.9l.5 -2.6l.5 1.1l.5 -2.6l.5 3.3l.5 -3.5l.5 1.7l.5 -1.3l.5 3.2l.5 -4.2l.5 2.2l.5 -3.2l.5 2l.5 -1.3l.5 1.8l.5 -4.7l.5 3.2l.5 -1.7l.5 .3l.5 -2.4l.5 2.1l.5 -2.2l.5 2l.5 -2.7l.5 2.1l.5 -1.7l.5 2.5l.5 -3.1l.5 .2l.5 -3.2l.5 2.9l.5 -1.8l.5 1.7l.5 -2.7l.5 2.5l.5 -3.2l.5 1.9l.5 -1.8l.5 .7l.5 -.6l.5 .9l.5 -2.3l.5 2.9l.5 -3.4l.5 .7l.5 -1.1l.5 .3l.5 -2.2l.5 1.9l.5 -1.3l.5 .7l.5 -2.8l.5 2.7l.5 -2.2l.5 1.2l.5 -1.6l.5 1l.5 -2.9l.5 2.8l.5 -2.6l.5 1.3l.5 -2.9l.5 1.2l.5 -2.1l.5 1l.5 -1.8l.5 2l.5 -2.2l.5 1.1l.5 -1.5l.5 .4l.5 -1l.5 1.1l.5 -2.2l.5 2.2l.5 -2.5l.5 .9l.5 -1.7l.5 0l.5 -3l.5 2.3l.5 -2.3l.5 1.9l.5 -1.6l.5 2.4l.5 -3.1l.5 .9l.5 -2.7l.5 1.1l.5 -1.5l.5 2.3l.5 -3.2l.5 1l.5 -1.5l.5 1.1l.5 -1.6l.5 -.1l.5 -3.3l.5 2.7l.5 -1.7l.5 .6l.5 -2.3l.5 2.6l.5 -2.4l.5 .9l.5 -3l.5 1.6l.5 -1.9l.5 .6l.5 -.8l.5 -.3l.5 -.5l.5 .7l.5 -1.8l.5 -.2l.5 -1l.5 .2l.5 -1.8l.5 1l.5 -1.1l.5 .2l.5 -1.2l.5 .2l.5 -3.2l.5 2.9l.5 -2.3l.5 0l.5 -2.8l.5 2.1l.5 -1l.5 -.1l.5 -1.1l.5 1.2l.5 -2l.5 1.6l.5 -3.5l.5 1l.5 -2.2l.5 2.2l.5 -2.6l.5 -.2l.5 -1.4l.5 1.5l.5 -2.8l.5 .8l.5 -2.2l.5 .9l.5 -.8l.5 -.1l.5 -1.5l.5 .4l.5 -1.6l.5 .6l.5 -2.4l.5 2.5l.5 -2.4l.5 -.1l.5 -1.4l.5 .7l.5 -1.5l1 -.2l1 -2.7l1 -.5l1 -1.4l1 -.8l1 -1.7l1 .3l1 -3.1l1 -.5l1 -1.6l1 -.3l1 -3.1l1 .6l1 -2.8l1 .5l1 -3.6l1 .3l1 -2.7l1 0l1 -2.2l1 .2l1 -2.5l1 -.5l1 -3.1l1 .1l1 -2.5l1 -.9l1 -1.9l1 -.4l1 -2.2l1 -1.2l1 -2l1 .3l1 -3.1l1 -.2l1 -2.2l1 -1l1 -2.3l1 .1l1 -3.7l1 -.2l1 -1.9l1 -.5l1 -2.6l1 -1.2l1 -3.5l1 .4l1 -3.1l1 .5l1 -2.1l1 -.6l1 -3l1 -.7l1 -2l1 -1.2l1 -2.3l1 -.4l1 -2.4l1 -.9l1 -2.8l1 -.1l1 -2.5l1 0l1 -2.7l1 -1l1 -2.3l1 -1.1l1 -2.5l1 .1l1 -3.2l1 -.6l1 -3l1 .5l1 -3l1 .4l1 -3l1 -.4l1 -2.8l1 -1l1 -1.7l1 -1.2l1 -2.9l1 .3l1 -3.1l1 .2l1 -3.3l1 -.3l1 -2.2l1 .7l1 -3.8l1 -.8l1 -1.9l1 .3l1 -3.1l1 -.8l1 -2.1l1 -.7l1 -2.8l1 -.6l1 -2.2l1 -.8l1 -2.9l1 .3l1 -2.7l1 -.5l1 -2.2l1 -.1l1 -2.5l1 -.2l1 -3.5l1 -.6l1 -2.6l1 -.3l1 -2.1l1 -.1l1 -2.9l1 -1.1l1 -1.7l1 -.7l1 -2.9l1 -.6l1 -2.7l1 -.2l1 -1.6l1 -1l1 -2.7l1 .2l1 -3.8l1 .8l1 -3.5l1 0l1 -2.2l1 -.5l1 -3l1 .4l1 -3.4l1 -.6l1 -2.5l1 -.5l1 -3.2l1 .3l1 -2.3l1 -.3l1 -3.9l1 .5l1 -3.7l1 .1l1 -1.7l1 -.1l1 -3.2l1 -1.3l1 -2l1 0l1 -2.8l1 -.8l1 -2.6l1 -1.1l1 -1.8l1 -1.5l1 -2.3l1 -.1l1 -3.4l1 .1l1 -3.1l1 -.8l1 -2.2l1 -.9l1 -2.1l1 -.8l1 -2.3l1 -.7l1 -2.7l1 -1l1 -2.9l1 .1l1 -2.3l1 -1.1l1 -2.7l1 -.3l1 -4l1 .5l1 -2.6l1 .2l1 -4l1 .6l1 -2l1 -1.2l1 -1.9l1 -.8l1 -2.8l1 .1l1 -3.3l1 .3l1 -2.2l1 -.4l1 -2.8l1 -.2l1 -2.5l1 -.6l1 -1.8l1 -.5l1 -3l1 -.2l1 -2.1l1 -.5l1 -2l1 0l1 -2.7l1 -.4l1 -2.3l1 .4l1 -3.9l1 .9l1 -2.4l1 -.9l1 -2.1l1 .7l1 -2.9l1 -.5l1 -2.1l1 .1l1 -3.3l1 -.1l1 -1.6l1 -.6l1 -2.3l1 .1l1 -2.5l1 -.9l1 -1.4l1 -.1l1 -2.4l1 -.5l1 -2l1 .1l1 -3l1 -.6l1 -2.6l1 .8l1 -3.4l1 .4l1 -2.3l1 -.7l1 -1.8l1 -.8l1 -2.3l1 .2l1 -2l1 -.5l1 -2.5l1 0l1 -2.8l1 .4l1 -3.2l1 0l1 -3.5l1 1.2l1 -2.7l1 -.5l1 -2.3l1 -.4l1 -1.7l1 -.7l1 -3.1l1 1.3l1 -2.9l1 -.8l1 -2l1 -.8l1 -2l1 -.5l1 -1.7l1 -.5l1 -3.1l1 1.2l1 -3.8l1 1.1l1 -2.6l1 .6l1 -2.2l1 -.5l1 -2.1l1 0l1 -2.3l1 -.4l1 -2.4l1 .4l1 -1.2l1 -.4l1 -2l1 .8l1 -3.1l1 .6l1 -2.2l1 .5l1 -3.3l1 .8l1 -1.6l1 -.1l1 -1.9l1 .5l1 -2.6l1 1.2l1 -1.9l1 -.4l1 -1.8l1 .8l1 -2.7l1 .7l1 -1.9l1 0l1 -1.5l1 -.6l1 -1.6l1 1l1 -2.6l1 .9l1 -3.2l1 1l1 -2.1l1 .4l1 -1.2l1 -.5l1 -1.8l1 .7l1 -1.6l1 -.5l1 -1.7l1 .2l1 -1.2l1 .1l1 -1.5l1 -.6l1 -1.1l1 -.6l1 -1.3l1 -.1l1 -1.6l1 .2l1 -2.1l1 1.3l1 -2.3l1 -.2l1 -1.2l1 -.3l1 -1.5l1 .1l1 -1.4l1 .1l1 -2.5l1 .9l1 -1.9l1 .2l1 -1.9l1 .6l1 -1.7l1 -.1l1 -1.5l1 0l1 -1.4l1 -.5l1 -.9l1 -.3l1 -3.7l1 1.9l1 -2.1l1 .7l1 -1.6l1 .2l1 -1.1l1 -.3l1 -1l1 -.2l1 -1.5l1 .4l1 -2.1l1 .1l1 -1.3l1 .2l1 -.9l1 -.5l1 -1.1l1 .3l1 -1.4l1 0l1 -1.6l1 1.1l1 -2l1 -.2l1 -1.8l1 1.2l1 -1.8l1 .1l1 -2.5l1 1.4l1 -1.2l1 -.1l1 -1.6l1 1.4l1 -1.8l1 0l1 -.9l1 .4l1 -2.3l1 .7l1 -1.7l1 1.1l1 -1.9l1 2.3l1 -3.1l1 .6l1 -1.5l1 2.5l1 -3.2l1 0l1 -1.2l1 .6l1 -1.2l1 .1l1 -1.1l1 1.1l1 -2.2l1 .6l1 -1.7l1 1.7l1 -2.4l1 1l1 -1.8l1 .6l1 -.7l1 -.1l1 -.6l1 .1l1 -1l1 .5l1 -1.2l1 0l1 -.6l1 0l1 -1.2l1 .4l1 -.8l1 .2l1 -1.7l1 1.4l1 -1.8l1 .9l1 -1.1l1 1.1l1 -2.1l1 .7l1 -1.3l1 1.1l1 -1.6l1 .3l1 -.7l1 .3l1 -.9l1 .5l1 -.9l1 .2l1 -.8l1 .1l1 -1.4l1 .6l1 -.6l1 .1l1 -.9l1 .6l1 -2.4l1 1.7l1 -.7l1 .2l1 -2.3l1 1.6l1 -.8l1 1.2l1 -1.4l1 .5l1 -1l1 .1l1 -.8l1 .2l1 -1.2l1 .9l1 -1l1 1.7l1 -2.1l1 .5l1 -1.3l1 1.4l1 -2.1l1 1.7l1 -1.1l1 .1l1 -.5l1 .1l1 -.5l1 .4l1 -2.2l1 1.8l1 -2.1l1 1.3l1 -.3l1 1l1 -1.8l1 .9l1 -.9l1 1.1l1 -2.7l1 2l1 -1.7l1 .8l1 -.8l1 .8l1 -1.3l1 .8l1 -1.2l1 1l1 -.8l1 .9l1 -1.9l1 1l1 -.6l1 .2l1 -1.8l1 1.8l1 -1.1l1 .3l1 -.6l1 .9l1 -.8l1 -.1l1 -.2l1 .4l1 -.9l1 1l1 -1.3l1 .3l1 -.2l1 .2l1 -1.1l1 1.2l1 -1l1 .7l1 -.8l1 .9l1 -1l1 1.3l1 -2.5l1 1l1 -1l1 .8l1 -.8l1 1.9l1 -1.9l1 1.4l1 -1.6l1 .6l1 -1.7l1 2l1 -2.4l1 1.5l1 -.4l1 .5l1 -1.9l1 1.7l1 -1.5l1 2.4l1 -2.2l1 1.1l1 -2.1l1 1.9l1 -.5l1 .8l1 -1.2l1 .7l1 -1l1 .8l1 -1.7l1 2.7l1 -1.8l1 .6l1 -.7l1 1.3l1 -2.1l1 1.2l1 -.7l1 .3l1 -.9l1 1.1l1 -.7l1 .7l1 -1.2l1 .8l1 -.8l1 1.3l1 -1.1l1 .3l1 -1l1 1l1 -.7l1 1l1 -.6l1 .6l1 -1.2l1 1.1l1 -.9l1 1.2l1 -1.1l1 .4l1 -.3l1 .5l1 -.8l1 .4l1 -1.2l1 2.1l1 -1.3l1 1.3l1 -1.2l1 .3l1 -.9l1 .8l1 -1.9l1 1.8l1 -1l1 1.7l1 -1.2l1 .5l1 -2.3l1 2.7l1 -1.2l1 1.1l1 -1.3l1 1.9l1 -1.3l1 .7l1 -1.2l1 .8l1 -1l1 1l1 -1.2l1 1.2l1 -.4l1 .7l1 -.9l1 .6l1 -1.4l1 1.9l1 -2l1 2.3l1 -1.3l1 .6l1 -.9l1 1.3l1 -1l1 .3l1 -.7l1 1l1 -1.2l1 1.5l1 -1.5l1 1.1l1 -.7l1 .7l1 -.4l1 .7l1 -1.5l1 1l1 -.2l1 .9l1 -.9l1 .2l1 -.3l1 .5l1 -1.2l1 1l1 -.3l1 .5l1 -.9l1 1.6l1 -1.9l1 1.2l1 -.5l1 1.8l1 -1.9l1 1.1l1 -1.2l1 1.2l1 -1.6l1 2.8l1 -2l1 .7l1 -.8l1 1.6l1 -1.4l1 1l1 -1.5l1 1.7l1 -2l1 2.1l1 -1.4l1 .5l1 -.2l1 .6l1 -1.6l1 1.6l1 -.8l1 .6l1 -1l1 1.1l1 -.9l1 1.4l1 -1.2l1 1.9l1 -1.9l1 .5l1 -.7l1 1.3l1 -1.1l1 1.6l1 -1.5l1 1.2l1 -1.4l1 1l1 -.6l1 .8l1 -2.8l1 2.8l1 -1.1l1 1.2l1 -1.1l1 1.2l1 -1.1l1 1.2l1 -1.3l1 .7l1 -.9l1 1.7l1 -1.9l1 1.3l1 -.4l1 .8l1 -1.5l1 1l1 -.7l1 1.5l1 -2.6l1 2.4l1 -1l1 1l1 -1.1l1 1.6l1 -1.9l1 1.1l1 -.6l1 .4l1 -1l1 1.4l1 -.9l1 .5l1 -.9l1 .9l1 -1l1 2l1 -1.7l1 1.8l1 -2.2l1 1.2l1 -1.3l1 1.8l1 -1l1 .6l1 -1.4l1 1.7l1 -1.4l1 .7l1 -.4l1 .7l1 -1.7l1 2.4l1 -1.5l1 .6l1 -1l1 1.9l1 -2.1l1 1.3l1 -.6l1 1l1 -1.2l1 1.5l1 -1.3l1 .6l1 -1.4l1 1.3l1 -.4l1 .5l1 -1.5l1 1.9l1 -1.2l1 .5l1 -.4l1 .6l1 -.5l1 .3l1 -.9l1 2.2l1 -1.9l1 1l1 -1.1l1 .7l1 -1.1l1 1.6l1 -.8l1 .1l1 -.5l1 .8l1 -.5l1 .8l1 -.7l1 1.3l1 -1.8l1 1.3l1 -1.8l1 2l1 -1.6l1 1.9l1 -1.5l1 .3l1 -.4l1 .6l1 -.5l1 .2l1 -1l1 1.3l1 -1.2l1 1.3l1 -1.1l1 1.3l1 -1.6l1 1.5l1 -1.1l1 1.6l1 -2.1l1 1l1 -.4l1 1.3l1 -1.6l1 1.3l1 -1.1l1 .8l1 -1.1l1 1.2l1 -1.3l1 1.2l1 -.6l1 .7l1 -1.2l1 1l1 -1.1l1 1.7l1 -1.9l1 2.6l1 -2.9l1 1.7l1 -.8l1 .5l1 -.5l1 .6l1 -.6l1 .7l1 -.7l1 .5l1 -2.3l1 2.4l1 -1.2l1 1.3l1 -1l1 1.4l1 -1.6l1 1l1 -1.2l1 1l1 -.9l1 1.5l1 -1.8l1 .9l1 -.2l1 .9l1 -1.2l1 1.1l1 -.9l1 .2l1 -1.4l1 2.3l1 -1.5l1 1.5l1 -1.1l1 .7l1 -.9l1 .6l1 -.8l1 1.2l1 -.9l1 .4l1 -.4l1 .6l1 -.7l1 .9l1 -1.8l1 1.3l1 -.2l1 1.1l1 -1.8l1 .8l1 -.4l1 1.1l1 -1.2l1 2l1 -2.4l1 2.1l1 -1.8l1 1.1l1 -1.3l1 .8l1 -.3l1 .6l1 -1.6l1 1.4l1 -.8l1 1l1 -.9l1 .6l1 -.4l1 .4l1 -.1l1 .1l1 -.4l1 .7l1 -.9l1 1l1 -1.7l1 1.6l1 -1.5l1 3l1 -2.4l1 1l1 -1.6l1 2.9l1 -3.6l1 2.8l1 -2.1l1 1.8l1 -.8l1 .4l1 -.9l1 1.2l1 -1.3l1 1l1 -.9l1 1.5l1 -1.1l1 .4l1 -1l1 1.7l1 -1l1 1.3l1 -1.1l1 .6l1 -1l1 .5l1 -.5l1 1.2l1 -1.2l1 1.2l1 -.7l1 .6l1 -.9l1 .7l1 -1.1l1 1.2l1 -1.1l1 2.2l1 -2.4l1 1.1l1 -.3l1 .4l1 -.2l1 1l1 -1.6l1 1.2l1 -1l1 1.4l1 -1.1l1 .4l1 -1l1 1.1l1 -.4l1 .5l1 -1.7l1 2l1 -1.4l1 1.3l1 -.9l1 1l1 -.5l1 .1l1 -1.2l1 1.3l1 -1.1l1 1.3l1 -.5l1 .3l1 -1.4l1 1.8l1 -.7l1 .5l1 -.2l1 .8l1 -1.4l1 1.7" stroke="#800000" stroke-width="6.5"/>
<path d="M277 1575.2l.5 -7.7l.5 6.8l.5 -4.3l.5 6.6l.5 -6.2l.5 2.9l.5 -4.7l.5 4.7l.5 -5.9l.5 5.4l.5 -2.1l.5 2.3l.5 -5.9l.5 5.4l.5 -3.2l.5 1.7l.5 -3.7l.5 5.7l.5 -2.9l.5 1.7l.5 -1.6l.5 4.8l.5 -5l.5 1.2l.5 -.9l.5 1l.5 -1l.5 5.1l.5 -8.4l.5 6l.5 -7.7l.5 5.8l.5 -3.8l.5 4.9l.5 -5.2l.5 7.8l.5 -6.1l.5 8.4l.5 -9.3l.5 6.1l.5 -5l.5 5.8l.5 -7.1l.5 3.3l.5 0l.5 2.2l.5 -4.7l.5 4.9l.5 -2.8l.5 3.3l.5 -3.1l.5 3.1l.5 -5.9l.5 8.3l.5 -5.4l.5 1.7l.5 -7.9l.5 8.3l.5 -2.3l.5 .5l.5 -2l.5 4.6l.5 -3.6l.5 5.2l.5 -5.2l.5 1.7l.5 -1.9l.5 2.6l.5 -2l.5 3.9l.5 -4.8l.5 2.1l.5 -5.6l.5 5.5l.5 -2l.5 5.3l.5 -5.3l.5 2.9l.5 -6.7l.5 11.1l.5 -7l.5 4.2l.5 -4.3l.5 5.7l.5 -5.8l.5 1.4l.5 -2.4l.5 3.2l.5 -2.1l.5 1.7l.5 -4.6l.5 5.3l.5 -1.6l.5 3.5l.5 -3.3l.5 1.8l.5 -2.4l.5 2.3l.5 -3.1l.5 3.9l.5 -6.2l.5 4.6l.5 -1.8l.5 1.4l.5 -.5l.5 3l.5 -7.9l.5 5.5l.5 -3.8l.5 5.6l.5 -2.5l.5 1.8l.5 -4.9l.5 5.2l.5 -5.2l.5 5.4l.5 -4.1l.5 6.4l.5 -4.5l.5 1l.5 -4l.5 5.9l.5 -3.4l.5 1.3l.5 -3.1l.5 3.3l.5 -1.5l.5 2.2l.5 -4.3l.5 4.8l.5 -3.7l.5 4l.5 -3.2l.5 1l.5 -1.9l.5 2.3l.5 -2.3l.5 4.3l.5 -2.7l.5 2.7l.5 -4.8l.5 3l.5 -6l.5 7.8l.5 -2.8l.5 3.8l.5 -5.2l.5 6l.5 -5.3l.5 1.6l.5 -1l.5 4l.5 -4.5l.5 1.7l.5 -5.8l.5 8.3l.5 -5.1l.5 5.1l.5 -3.9l.5 5.9l.5 -5.9l.5 2.6l.5 -7.9l.5 7.3l.5 -1.9l.5 1.3l.5 -4.1l.5 6.1l.5 -6.8l.5 5.9l.5 -2.7l.5 1.2l.5 -2.6l.5 10.1l.5 -8.2l.5 1l.5 -5.6l.5 6l.5 -1.4l.5 .4l.5 -.3l.5 1.7l.5 -2.6l.5 3.7l.5 -2.8l.5 .7l.5 -.5l.5 1.5l.5 -3.9l.5 5.7l.5 -7.1l.5 8.6l.5 -8.5l.5 4.9l.5 -2.7l.5 2.5l.5 -2.3l.5 1.7l.5 -2.8l.5 6.6l.5 -5.2l.5 3.5l.5 -3.4l.5 4.1l.5 -6.3l.5 4l.5 -5.6l.5 6l.5 -5l.5 6.7l.5 -3.8l.5 4.7l.5 -4.7l.5 1.4l.5 -1.2l.5 3.2l.5 -3.4l.5 3.6l.5 -8.8l.5 12.8l.5 -8.4l.5 2.3l.5 -4.3l.5 4.9l.5 -4.4l.5 3.9l.5 -3.7l.5 5.2l.5 -3.5l.5 5.6l.5 -8.7l.5 7.1l.5 -5.4l.5 3.2l.5 -3.4l.5 6.5l.5 -4.8l.5 4.2l.5 -5.1l.5 3.1l.5 -4.8l.5 4.5l.5 -2.8l.5 7.2l.5 -8.2l.5 3.4l.5 -.5l.5 3.8l.5 -5.5l.5 2.6l.5 -5.2l.5 5.3l.5 -1.9l.5 2.7l.5 -3.9l.5 2.9l.5 -2.8l.5 3.4l.5 -1.4l.5 3.4l.5 -4.3l.5 1.5l.5 -2.5l.5 3.5l.5 -3.2l.5 2.2l.5 -2.3l.5 4.7l.5 -4.6l.5 4.2l.5 -3.2l.5 2.2l.5 -2.2l.5 1.8l.5 -3.7l.5 3.3l.5 -3.3l.5 3.6l.5 -1.6l.5 4.7l.5 -8.2l.5 6.4l.5 -2.7l.5 5l.5 -6.1l.5 3.5l.5 -5.8l.5 4.5l.5 -1.1l.5 4.6l.5 -5.6l.5 4.2l.5 -4.7l.5 3.3l.5 -4.5l.5 4.5l.5 -5.8l.5 5.1l.5 -.7l.5 1.8l.5 -4.4l.5 7.2l.5 -7.7l.5 4.5l.5 -3.2l.5 5.8l.5 -5.6l.5 3.5l.5 -5.7l.5 4.9l.5 -4l.5 4.2l.5 -1.8l.5 3l.5 -4.7l.5 4.9l.5 -4.9l.5 6.3l.5 -7.1l.5 3.3l.5 -2.5l.5 10.4l.5 -10.3l.5 3.2l.5 -4.9l.5 4.7l.5 -2.3l.5 1.8l.5 -3.6l.5 3.8l.5 -3.6l.5 3.3l.5 -2.7l.5 2.9l.5 -4.4l.5 6.3l.5 -5l.5 4l.5 -1.4l.5 4l.5 -5.1l.5 2.5l.5 -3l.5 4.2l.5 -3.7l.5 3.2l.5 -6.6l.5 8.1l.5 -4.1l.5 1.1l.5 -2.1l.5 1.8l.5 -.5l.5 1.5l.5 -1.2l.5 .5l.5 -4.6l.5 8.1l.5 -8.4l.5 8.2l.5 -5l.5 2l.5 -1.4l.5 2.3l.5 -4.3l.5 3.5l.5 -1.8l.5 4.4l.5 -4.1l.5 2.1l.5 -4.7l.5 4.1l.5 -2.4l.5 3.6l.5 -2.4l.5 .9l.5 -3.5l.5 4.8l.5 -7.7l.5 7.2l.5 -3.7l.5 4.7l.5 -8.3l.5 6.6l.5 -1.1l.5 1.8l.5 -6.3l.5 5.3l.5 -1l.5 1.4l.5 -4.3l.5 4.1l.5 -3.7l.5 3.3l.5 -1.6l.5 3.8l.5 -3.4l.5 3.1l.5 -3l.5 4.9l.5 -5.6l.5 2l.5 -.8l.5 6.8l.5 -7.1l.5 1.4l.5 -1.5l.5 3.5l.5 -3.5l.5 6.3l.5 -7.5l.5 3.5l.5 -7.6l.5 10.8l.5 -8.7l.5 5.2l.5 -3.8l.5 3.3l.5 -.8l.5 1.8l.5 -3.5l.5 5.3l.5 -6l.5 3.3l.5 -1.2l.5 1.5l.5 -4.6l.5 6l.5 -4l.5 2.1l.5 -3.1l.5 2.7l.5 -1.1l.5 2.5l.5 -5.3l.5 6.1l.5 -3.2l.5 2.2l.5 -4.9l.5 4.4l.5 -1.2l.5 1.2l.5 -2.3l.5 1.6l.5 -1.6l.5 6.6l.5 -6.6l.5 3.3l.5 -4.8l.5 3.6l.5 -2.6l.5 6.1l.5 -4.4l.5 .6l.5 -1.6l.5 3.1l.5 -2.6l.5 2.7l.5 -8.5l.5 7.6l.5 -1.4l.5 1.9l.5 -2.6l.5 3.8l.5 -3.8l.5 3.5l.5 -2.8l.5 4.2l.5 -7.8l.5 5.8l.5 -2.7l.5 1.7l.5 -2.1l.5 1.2l.5 -2.7l.5 2.8l.5 -1.9l.5 2.6l.5 -1.7l.5 1.9l.5 -3.9l.5 3.3l.5 -2.4l.5 3.6l.5 -2.8l.5 2.6l.5 -3.9l.5 2.9l.5 -3.8l.5 5.6l.5 -3.5l.5 3.8l.5 -5.7l.5 4.6l.5 -2.9l.5 2.8l.5 -3l.5 2.5l.5 -4.8l.5 6.6l.5 -6.8l.5 5.9l.5 -4.1l.5 4.2l.5 -5.7l.5 4.6l.5 -3.2l.5 2.7l.5 -.7l.5 2.9l.5 -4.1l.5 3.7l.5 -3.1l.5 3.3l.5 -4.9l.5 5.7l.5 -3.4l.5 .9l.5 -1l.5 3l.5 -4.8l.5 4.5l.5 -3.8l.5 2.6l.5 -3.4l.5 4.1l.5 -2.6l.5 5.7l.5 -4.9l.5 .6l.5 -1.1l.5 .9l.5 -3.9l.5 7.5l.5 -5.9l.5 4.2l.5 -3.7l.5 1.8l.5 -1.3l.5 4.5l.5 -6.1l.5 5.8l.5 -4.3l.5 2.4l.5 -6l.5 9.7l.5 -5.9l.5 7.7l.5 -8.9l.5 2.7l.5 -2.7l.5 3l.5 -3.2l.5 3.7l.5 -2l.5 1l.5 -1.8l.5 1.8l.5 -3.8l.5 5l.5 -2.7l.5 1.3l.5 -1.6l.5 4.7l.5 -3.9l.5 4.9l.5 -5.6l.5 2.2l.5 -1.2l.5 .8l.5 -2.2l.5 2.5l.5 -4.8l.5 6.6l.5 -3.3l.5 2.6l.5 -3l.5 2.1l.5 -2.9l.5 6.6l.5 -6l.5 2.7l.5 -5.4l.5 8.7l.5 -4.8l.5 .5l.5 -.8l.5 .8l.5 -.9l.5 2.4l.5 -6.3l.5 6.2l.5 -2.8l.5 3.5l.5 -7.4l.5 9.5l.5 -5.1l.5 3.4l.5 -6.1l.5 4.6l.5 -1.7l.5 1.6l.5 -4.5l.5 4.9l.5 -2.5l.5 3.5l.5 -4.9l.5 5l.5 -5.9l.5 4l.5 -2.1l.5 3.5l.5 -5.7l.5 4.6l.5 -6.6l.5 10.5l.5 -5.6l.5 1.5l.5 -1.3l.5 1.5l.5 -6.2l.5 5.1l.5 -2.2l.5 3.2l.5 -4.5l.5 6l.5 -4.7l.5 2.7l.5 -4.4l.5 4.4l.5 -2.2l.5 2.6l.5 -3.9l.5 6.5l.5 -6.1l.5 5.1l.5 -3.1l.5 3.6l.5 -4.4l.5 2l.5 -3l.5 3.3l.5 -3.1l.5 2.3l.5 -4.7l.5 7.9l.5 -4.6l.5 2.4l.5 -6l.5 6.8l.5 -5.1l.5 3.9l.5 -3.8l.5 7.2l.5 -5.5l.5 3.7l.5 -3.1l.5 2.3l.5 -4.1l.5 2.5l.5 -2.9l.5 6.2l.5 -4.8l.5 4.9l.5 -3.7l.5 3.7l.5 -6.8l.5 4.9l.5 -4.1l.5 4.5l.5 -2.4l.5 1.2l.5 -1.1l.5 7.3l.5 -7.9l.5 1.2l.5 -1.6l.5 2l.5 -2.3l.5 3l.5 -7.4l.5 11.2l.5 -6.3l.5 1.3l.5 -6.9l.5 10.5l.5 -7l.5 5.9l.5 -2.8l.5 2.2l.5 -5.2l.5 7.6l.5 -6.2l.5 3.2l.5 -5.8l.5 4.6l.5 -4.8l.5 4.6l.5 -2.2l.5 3l.5 -2.7l.5 1.9l.5 -3.6l.5 3.8l.5 -2.2l.5 2.6l.5 -1.9l.5 6.9l.5 -7.2l.5 6.3l.5 -7.2l.5 2.5l.5 -7.1l.5 10.4l.5 -5l.5 1.5l.5 -3l.5 6.7l.5 -6l.5 3.3l.5 -2.9l.5 3.8l.5 -2.9l.5 2.7l.5 -3.7l.5 6.4l.5 -6.6l.5 4.1l.5 -6.5l.5 5.1l.5 -1l.5 2.9l.5 -3.5l.5 1.8l.5 -3.9l.5 4.4l.5 -5.1l.5 5.4l.5 -1.9l.5 4.3l.5 -5.5l.5 5.8l.5 -6.9l.5 6.9l.5 -4.9l.5 1.1l.5 -2.4l.5 2.4l.5 -1.6l.5 1.8l.5 -2.5l.5 2.4l.5 -1.9l.5 5.9l.5 -5.4l.5 1.2l.5 -2.9l.5 3.7l.5 -1.6l.5 3.2l.5 -3.1l.5 8.3l.5 -10.2l.5 2.6l.5 -4.9l.5 6.6l.5 -2.8l.5 3.3l.5 -3.7l.5 1.5l.5 -.8l.5 5.4l.5 -5.7l.5 6l.5 -5.2l.5 .7l.5 -5l.5 5.9l.5 -6.6l.5 6.7l.5 -4.2l.5 3.5l.5 -3.6l.5 3.3l.5 -7.4l.5 8.5l.5 -2.4l.5 .6l.5 -.9l.5 4.2l.5 -4.2l.5 .9l.5 -.5l.5 3.2l.5 -3.2l.5 5.5l.5 -12l.5 7.9l.5 -3.2l.5 5.1l.5 -3.7l.5 5.4l.5 -4.7l.5 .2l.5 -.1l.5 3.8l.5 -5l.5 3l.5 -3l.5 7l.5 -6.7l.5 1.4l.5 -3.4l.5 6.4l.5 -5.7l.5 5l.5 -3.6l.5 2.9l.5 -3.2l.5 4.6l.5 -3.8l.5 3l.5 -4.3l.5 8.4l.5 -7.2l.5 1.1l.5 -1.1l.5 2.2l.5 -2.3l.5 4.3l.5 -5.9l.5 4l.5 -2.4l.5 1.2l.5 -2l.5 3.4l.5 -5.8l.5 5.7l.5 -4.4l.5 3.4l.5 -5.1l.5 8.4l.5 -4.4l.5 1.8l.5 -8.4l.5 10.5l.5 -6.6l.5 4.7l.5 -2.6l.5 3.2l.5 -2.6l.5 3.6l.5 -3.9l.5 1.4l.5 -1.4l.5 2.8l.5 -4l.5 2.5l.5 -.9l.5 .5l.5 -1.5l.5 2.7l.5 -2.4l.5 2.4l.5 -5.5l.5 6.1l.5 -4l.5 2.5l.5 -3l.5 2.6l.5 -2.8l.5 5.9l.5 -3.9l.5 1.3l.5 -3.6l.5 7.1l.5 -5.4l.5 1.9l.5 -1.2l.5 4.2l.5 -5.1l.5 1.9l.5 -3.2l.5 3l.5 -2.2l.5 3.9l.5 -4l.5 5.7l.5 -6.2l.5 3.2l.5 -1.4l.5 4l.5 -4.4l.5 2l.5 -1.7l.5 4.5l.5 -4.6l.5 1.4l.5 -7.3l.5 7.3l.5 -1.6l.5 2.4l.5 -5.1l.5 5.9l.5 -5.5l.5 5.2l.5 -2.4l.5 2.7l.5 -2.4l.5 .3l.5 -3.1l.5 4.3l.5 -2.7l.5 2.1l.5 -3.6l.5 3l.5 -3.4l.5 3.7l.5 -2.2l.5 2.3l.5 -1.8l.5 2.5l.5 -3.8l.5 4.8l.5 -3.3l.5 4.1l.5 -4.2l.5 3.5l.5 -4.8l.5 4l.5 -2.1l.5 3.4l.5 -4.8l.5 5.6l.5 -8.1l.5 5.6l.5 -1.7l.5 4.3l.5 -6.1l.5 2.7l.5 -4l.5 4l.5 -1l.5 1.7l.5 -3.7l.5 3l.5 -1.5l.5 2.5l.5 -1.6l.5 6.7l.5 -7.5l.5 1.5l.5 -3l.5 2.7l.5 -3.9l.5 5.3l.5 -3.1l.5 2.6l.5 -2.3l.5 2l.5 -3.9l.5 5.2l.5 -3.1l.5 2.8l.5 -2.4l.5 .8l.5 -2.7l.5 4.3l.5 -3.2l.5 3.3l.5 -6l.5 4.6l.5 -5.7l.5 7.4l.5 -5.3l.5 3.2l.5 -5.8l.5 8.4l.5 -6.7l.5 4.9l.5 -5.4l.5 6.1l.5 -7.8l.5 6.8l.5 -1.2l.5 1.3l.5 -3.4l.5 5.6l.5 -4.4l.5 4.4l.5 -4.8l.5 4.6l.5 -3.3l.5 2.9l.5 -4.1l.5 2.8l.5 -5.2l.5 7.3l.5 -4.5l.5 4.5l.5 -6l.5 4.2l.5 -1.7l.5 3.1l.5 -4.7l.5 3.6l.5 -4.2l.5 3.5l.5 -3.9l.5 5.9l.5 -5.2l.5 6.5l.5 -4.8l.5 .9l.5 -1l.5 1.3l.5 -1.3l.5 1.4l.5 -1.1l.5 1.9l.5 -1.7l.5 1.9l.5 -1.7l.5 1.7l.5 -2.3l.5 3.5l.5 -4.5l.5 4.4l.5 -3.4l.5 2.2l.5 -2.5l.5 3.3l.5 -3.4l.5 1.6l.5 -4.5l.5 6.3l.5 -4.5l.5 2.9l.5 -1l.5 .7l.5 -1.7l.5 2.3l.5 -2.9l.5 2.8l.5 -1.1l.5 4.6l.5 -5.8l.5 4.7l.5 -4.6l.5 2.8l.5 -2.2l.5 .8l.5 -2.9l.5 3.2l.5 -5l.5 6.6l.5 -2.5l.5 2.1l.5 -6.7l.5 8.2l.5 -4.2l.5 1.6l.5 -.6l.5 .6l.5 -2l.5 6.9l.5 -8.2l.5 7.1l.5 -6.1l.5 4.9l.5 -5.1l.5 2.6l.5 -1.2l.5 1.9l.5 -3.1l.5 2.9l.5 -2.6l.5 3.6l.5 -3.7l.5 2.9l.5 -2.8l.5 3.7l.5 -2.6l.5 1.1l.5 -5.2l.5 7.1l.5 -5.5l.5 5.6l.5 -8.7l.5 8.1l.5 -3.8l.5 2.7l.5 -2.1l.5 1.4l.5 -5.3l.5 5.1l.5 -.8l.5 2.6l.5 -4l.5 5.5l.5 -6.7l.5 7.9l.5 -6l.5 4.5l.5 -3.2l.5 2.5l.5 -6.9l.5 5l.5 -.5l.5 .2l.5 -1.8l.5 1.8l.5 -4.6l.5 7.2l.5 -2.9l.5 .9l.5 -1.4l.5 5.2l.5 -8.5l.5 4.9l.5 -2.3l.5 3.4l.5 -2.9l.5 1.8l.5 -4.7l.5 4.9l.5 -3.8l.5 7.2l.5 -7.3l.5 8.1l.5 -7.8l.5 6l.5 -5.2l.5 2.9l.5 -2.8l.5 3.5l.5 -6.2l.5 4.3l.5 -.8l.5 4.4l.5 -4.1l.5 1.3l.5 -2.5l.5 3.5l.5 -3.1l.5 3l.5 -3.7l.5 3.4l.5 -3.8l.5 3.9l.5 -2.4l.5 3.7l.5 -7.8l.5 5.3l.5 -1.1l.5 1.2l.5 -2.5l.5 2.8l.5 -5.8l.5 8.9l.5 -9.5l.5 8.1l.5 -4.8l.5 5.8l.5 -8.2l.5 5.8l.5 -3.1l.5 4.1l.5 -2.9l.5 2.9l.5 -2.3l.5 2l.5 -1.9l.5 1.2l.5 -1.1l.5 .1l.5 -1.8l.5 2.9l.5 -4.2l.5 4.2l.5 -2.8l.5 2.8l.5 -2l.5 2.5l.5 -3l.5 1.5l.5 -4.6l.5 8.4l.5 -4l.5 2.1l.5 -4l.5 3.8l.5 -3.9l.5 2.1l.5 -5.3l.5 5.9l.5 -.6l.5 3.1l.5 -5.9l.5 2.8l.5 -1.1l.5 1.9l.5 -1.2l.5 .5l.5 -1.6l.5 6.1l.5 -6.2l.5 4.1l.5 -3.3l.5 2.4l.5 -5.5l.5 6.3l.5 -2.6l.5 2l.5 -5.8l.5 7.6l.5 -7.8l.5 4.2l.5 -.6l.5 1.6l.5 -1.9l.5 7.3l.5 -8.4l.5 2l.5 -3.1l.5 6.6l.5 -4.2l.5 1.3l.5 -2.6l.5 2.1l.5 -.4l.5 2.7l.5 -5.1l.5 4.9l.5 -2.2l.5 .2l.5 -1.2l.5 2.5l.5 -5.3l.5 8.2l.5 -6.7l.5 6.9l.5 -6.9l.5 4.3l.5 -4.5l.5 5.1l.5 -3.1l.5 .7l.5 -1.9l.5 2.9l.5 -2.1l.5 4.6l.5 -7.3l.5 6l.5 -5.3l.5 5.1l.5 -3.4l.5 4.6l.5 -4.2l.5 2.2l.5 -3.9l.5 3.2l.5 -1.4l.5 2.9l.5 -5.7l.5 5.5l.5 -6.9l.5 5.6l.5 -1.5l.5 2.9l.5 -4.8l.5 5.2l.5 -3.8l.5 6.3l.5 -5.4l.5 1.9l.5 -4.6l.5 3.8l.5 -2.9l.5 2.3l.5 -3.9l.5 3.8l.5 -1.3l.5 5.2l.5 -4.3l.5 3.3l.5 -8.4l.5 8.4l.5 -4.2l.5 3.5l.5 -3.2l.5 1.2l.5 -1.2l.5 2.8l.5 -3.9l.5 3.3l.5 -5.3l.5 4.4l.5 -3l.5 4.4l.5 -5.4l.5 3.9l.5 -2.9l.5 6.6l.5 -5.5l.5 2.9l.5 -2.2l.5 1.4l.5 -2.7l.5 2.3l.5 -.8l.5 1.7l.5 -2l.5 2l.5 -4.8l.5 11.2l.5 -8l.5 2l.5 -4.2l.5 3.9l.5 -3.3l.5 3.5l.5 -5.8l.5 4.7l.5 -6.1l.5 5.6l.5 -6.2l.5 7.1l.5 -1.3l.5 .7l.5 -.6l.5 1l.5 -1.5l.5 3.8l.5 -3.9l.5 1.1l.5 -4.9l.5 7.7l.5 -8.1l.5 6.6l.5 -8.3l.5 7.6l.5 -2l.5 6l.5 -7.6l.5 5.5l.5 -4.7l.5 3.1l.5 -3l.5 3.1l.5 -3.2l.5 2.8l.5 -1.7l.5 1.8l.5 -4.1l.5 3.5l.5 -2.1l.5 6.2l.5 -8.8l.5 7.6l.5 -4.1l.5 .9l.5 -.9l.5 .9l.5 -.7l.5 1.6l.5 -2.3l.5 3.8l.5 -7.8l.5 5.9l.5 -3.2l.5 4.8l.5 -2.8l.5 5.4l.5 -6.5l.5 3.2l.5 -4.5l.5 4l.5 -2.6l.5 2.9l.5 -2.5l.5 1.7l.5 -3.2l.5 5.7l.5 -6.5l.5 5l.5 -6l.5 4.4l.5 -1.4l.5 1.8l.5 -3.7l.5 4.2l.5 -2.1l.5 1l.5 -3.4l.5 4.5l.5 -3.1l.5 2l.5 -5l.5 4.7l.5 -5.5l.5 6l.5 -2.3l.5 3.7l.5 -5.9l.5 3.3l.5 -1.8l.5 2.8l.5 -4.8l.5 4.2l.5 -.5l.5 2.3l.5 -4.6l.5 2.7l.5 -1.7l.5 7l.5 -10.4l.5 5.3l.5 -2.1l.5 2.6l.5 -2.3l.5 2.6l.5 -3.9l.5 2.4l.5 -2.8l.5 4.3l.5 -3.6l.5 6.4l.5 -6.7l.5 8.5l.5 -7l.5 .8l.5 -7.3l.5 8.2l.5 -1.6l.5 2.8l.5 -4l.5 2.4l.5 -3.9l.5 9.9l.5 -8l.5 3l.5 -4.2l.5 4.9l.5 -3.5l.5 3.4l.5 -3l.5 4.2l.5 -6.1l.5 2l.5 -1.8l.5 5.3l.5 -4.8l.5 4l.5 -4.8l.5 2.1l.5 -.9l.5 2.8l.5 -4l.5 7.1l.5 -8.8l.5 5.1l.5 -5.8l.5 5l.5 -1.5l.5 5l.5 -8.2l.5 4.9l.5 -3.5l.5 4l.5 -5.5l.5 5.9l.5 -2.8l.5 1l.5 -3.3l.5 4l.5 -2.3l.5 .8l.5 -2.8l.5 2.8l.5 -4.2l.5 8.7l.5 -5.7l.5 2.6l.5 -2.9l.5 4.2l.5 -3.3l.5 7.5l.5 -7.8l.5 4.2l.5 -9.6l.5 5.7l.5 -1.9l.5 2.7l.5 -4.3l.5 5.3l.5 -5.7l.5 5.6l.5 -4.3l.5 2.4l.5 -1.3l.5 6.3l.5 -7.4l.5 8.7l.5 -7.9l.5 3.6l.5 -6.7l.5 4.3l.5 -1.2l.5 6l.5 -6.4l.5 1.3l.5 -2.3l.5 2.7l.5 -2l.5 5.8l.5 -7.2l.5 4.7l.5 -3.3l.5 5.1l.5 -10.9l.5 8.6l.5 -4.8l.5 5l.5 -7.4l.5 7.4l.5 -5.2l.5 5l.5 -3.2l.5 4.7l.5 -6.2l.5 3l.5 -3.7l.5 5.4l.5 -4l.5 6.7l.5 -8.7l.5 3l.5 -3.8l.5 4.7l.5 -1.6l.5 3l.5 -4.4l.5 3.4l.5 -2.6l.5 5.5l.5 -8l.5 4.5l.5 -7.3l.5 6.8l.5 -1.7l.5 5.1l.5 -5.2l.5 .4l.5 -2.6l.5 4.5l.5 -3.8l.5 3.8l.5 -4.7l.5 6.4l.5 -4.6l.5 1.4l.5 -2.6l.5 5.7l.5 -5.9l.5 4.8l.5 -4.8l.5 2.3l.5 -3.3l.5 4l.5 -6.2l.5 5.2l.5 -6.1l.5 5l.5 -2.2l.5 2.5l.5 -1.9l.5 1.6l.5 -2l.5 5l.5 -7.3l.5 3.9l.5 -1.6l.5 2.3l.5 -5.1l.5 3.7l.5 -2.4l.5 5.3l.5 -4.3l.5 2.8l.5 -6.7l.5 4.2l.5 -2.5l.5 5.7l.5 -6.5l.5 6.9l.5 -10.6l.5 6.9l.5 -5l.5 5.9l.5 -3.7l.5 2.7l.5 -4.8l.5 8.2l.5 -7.3l.5 4.9l.5 -3.4l.5 3.7l.5 -6.4l.5 5l.5 -2.9l.5 2.8l.5 -3l.5 3l.5 -4.9l.5 3.9l.5 -1.9l.5 .7l.5 -4.6l.5 4l.5 -1.9l.5 3.2l.5 -4.5l.5 4.6l.5 -3l.5 2.5l.5 -2.8l.5 2.6l.5 -4.8l.5 2.3l.5 -.9l.5 2.3l.5 -3.8l.5 4.2l.5 -5.6l.5 2.9l.5 -2.7l.5 3.9l.5 -2.3l.5 2l.5 -4.5l.5 5.7l.5 -4.8l.5 7.1l.5 -8.4l.5 2.7l.5 -2.3l.5 2.3l.5 -4l.5 2.8l.5 -2.5l.5 2.4l.5 -3.8l.5 8.6l.5 -9.4l.5 4.7l.5 -3l.5 2.2l.5 -2.4l.5 1.2l.5 -1.1l.5 2.7l.5 -4.8l.5 4.4l.5 -2.5l.5 3.9l.5 -4.9l.5 1l.5 -1.1l.5 .8l.5 -2.4l.5 3.6l.5 -7.2l.5 5.2l.5 -4.5l.5 7.9l.5 -9.7l.5 9l.5 -10.5l.5 7l.5 -1.8l.5 2.2l.5 -2.5l.5 4.1l.5 -5.6l.5 1.7l.5 -2.3l.5 2.4l.5 -3.7l.5 5.1l.5 -7.6l.5 6.4l.5 -4.9l.5 3l.5 -3.2l.5 4.4l.5 -5.7l.5 2.3l.5 -2.8l.5 4.7l.5 -3.7l.5 5l.5 -9.5l.5 5.3l.5 -3.9l.5 4l.5 -2.7l.5 .9l.5 -1.8l.5 2.3l.5 -2.2l.5 4.2l.5 -7.3l.5 4.2l.5 -4.3l.5 4.2l.5 -8.2l.5 7.1l.5 -4.7l.5 4.1l.5 -6.6l.5 6.6l.5 -7.7l.5 10.1l.5 -6.4l.5 5.5l.5 -8.7l.5 9.3l.5 -6.6l.5 3.3l.5 -5.6l.5 2.7l.5 -2.7l.5 2.9l.5 -4l.5 1.8l.5 -2.7l.5 2.8l.5 -1.7l.5 1.1l.5 -4.7l.5 6.3l.5 -6.4l.5 5.2l.5 -5.8l.5 5.7l.5 -5.5l.5 2.3l.5 -4.2l.5 4.1l.5 -2.7l.5 3.6l.5 -4.2l.5 5.8l.5 -10.6l.5 5.3l.5 -4.7l.5 6.8l.5 -3.6l.5 .3l.5 -4l.5 5l.5 -3.1l.5 1l.5 -1.1l.5 .4l.5 -3.9l.5 5.3l.5 -2.8l.5 0l.5 -2.3l.5 3l.5 -2.8l.5 2.2l.5 -2.4l.5 2.7l.5 -5.2l.5 8.7l.5 -8.1l.5 5.9l.5 -6.9l.5 2.1l.5 -2.1l.5 3.4l.5 -3.7l.5 5.1l.5 -6.7l.5 3.8l.5 -3.4l.5 2.8l.5 -4.5l.5 4.9l.5 -5.6l.5 3.2l.5 -7.1l.5 6.5l.5 -2.3l.5 .6l.5 -2.3l.5 1.8l.5 -1.9l.5 2.8l.5 -2.3l.5 .1l.5 -2.4l.5 2.9l.5 -2l.5 1.8l.5 -3.6l.5 1.4l.5 -2.4l.5 4.6l.5 -6.4l.5 3.3l.5 -1.3l.5 1.6l.5 -3.2l.5 4.8l.5 -5.8l.5 2.4l.5 -1.1l.5 .1l.5 -1l.5 1.8l.5 -3l.5 2.2l.5 -4.8l.5 3.2l.5 -1.1l.5 1.2l.5 -2.3l.5 .7l.5 -1.2l.5 3l.5 -3.2l.5 .3l.5 -1.8l.5 3l.5 -4.5l.5 6.4l.5 -6.9l.5 2.2l.5 -3l.5 2.6l.5 -1.5l.5 2.8l.5 -4.3l.5 .9l.5 -.6l.5 0l.5 -2.4l.5 1.9l.5 -2.2l.5 3.1l.5 -4.1l.5 2.4l.5 -1.8l.5 1.4l.5 -1.7l.5 0l.5 -1.6l.5 2.1l.5 -3.1l.5 3.1l.5 -5.6l.5 3.2l.5 -1.5l.5 3.3l.5 -3.7l.5 1.1l.5 -3l.5 2.4l.5 -4.1l.5 4.2l.5 -5l.5 3.7l.5 -3.6l.5 2.5l.5 -2.9l.5 .9l.5 -1.7l.5 1.4l.5 -1.4l.5 1l.5 -4.2l.5 5.3l.5 -3.5l.5 2.6l.5 -6.2l.5 4.8l.5 -4.2l.5 2l.5 -3l.5 2.8l.5 -3.3l.5 1.9l.5 -1.1l.5 .9l.5 -2.2l.5 1l.5 -3l.5 1.3l.5 -1.1l.5 1l.5 -1.8l.5 1.3l.5 -3.2l.5 2.5l.5 -2.6l.5 2.4l.5 -3.5l.5 1.9l.5 -5.2l.5 3.2l.5 -1.9l.5 1.4l.5 -1.5l.5 3.5l.5 -6.2l.5 2.1l.5 -2.4l.5 1.8l.5 -.9l.5 1.3l.5 -3.6l.5 2.1l.5 -2.2l.5 1.1l.5 -2.2l.5 2.6l.5 -5.9l.5 3.3l.5 -2.1l.5 1l.5 -1.8l.5 1.3l.5 -2.1l.5 1l.5 -3l.5 3.1l.5 -3.3l.5 1.6l.5 -3l.5 1.8l.5 -5.2l.5 3.5l.5 -.7l.5 .4l.5 -1.8l.5 2.5l.5 -4.6l.5 1.5l.5 -2.9l.5 2.7l.5 -4.5l.5 2.7l.5 -2.3l.5 2.5l.5 -2.6l.5 .3l.5 -1.4l.5 -.1l.5 -3l.5 4l.5 -4.6l.5 2.9l.5 -5.1l.5 3l.5 -1.2l.5 -.3l.5 -1.3l.5 .9l.5 -2.7l.5 .9l.5 -1.3l.5 2.4l.5 -3.4l.5 1l.5 -3.2l.5 2.1l.5 -4.5l.5 2.4l.5 -2.6l.5 2.5l.5 -2.1l.5 .6l.5 -2l.5 1.5l.5 -5.2l.5 2.5l.5 -2.1l.5 2l.5 -4.4l.5 1.9l.5 -1.2l.5 .7l.5 -2.4l.5 1.5l.5 -2l.5 -.3l.5 -1.2l.5 2.2l.5 -4.3l.5 1.4l.5 -1.8l.5 .9l.5 -2.2l.5 3l.5 -3.9l.5 .1l.5 -1.5l.5 .1l.5 -1.3l.5 -.4l.5 -1.9l.5 .9l.5 -2.4l.5 2.9l.5 -3.4l.5 1.1l.5 -2l.5 -.4l.5 -1.6l.5 1l.5 -1.7l.5 -.4l1 -3.1l1 2l1 -3.3l1 -.7l1 -2l1 .1l1 -3.2l1 -.2l1 -3.4l1 -.3l1 -2l1 -.2l1 -3.2l1 1.3l1 -3.6l1 -.5l1 -2.7l1 -.7l1 -2.5l1 .2l1 -2.9l1 -.9l1 -2.3l1 0l1 -3.5l1 .5l1 -2.9l1 -.7l1 -2.4l1 -.2l1 -3.3l1 -.8l1 -1.7l1 -1.4l1 -2.7l1 .2l1 -3.6l1 -.3l1 -1.9l1 -.5l1 -2.9l1 -.3l1 -3.3l1 -.4l1 -2.8l1 0l1 -3.8l1 .5l1 -2.3l1 -.5l1 -2.8l1 -.4l1 -3l1 -.5l1 -3.2l1 -.5l1 -2l1 -1.5l1 -3.1l1 .4l1 -2.6l1 -.5l1 -3.3l1 .1l1 -2.5l1 -1.3l1 -3.3l1 1.2l1 -4.7l1 1.5l1 -3.3l1 .6l1 -3.4l1 -1.6l1 -1.8l1 -.3l1 -4.5l1 .8l1 -3.7l1 .4l1 -2.5l1 -1.3l1 -3.1l1 .7l1 -3l1 -.9l1 -2.1l1 -1.3l1 -2l1 .2l1 -4.3l1 -.1l1 -3.1l1 .3l1 -3.2l1 -.7l1 -2.6l1 -.2l1 -2.8l1 .1l1 -2.8l1 -.2l1 -5.1l1 .7l1 -2.1l1 -.5l1 -2.3l1 -1.3l1 -2.2l1 -1l1 -2.3l1 -.7l1 -2.9l1 -.1l1 -2.2l1 -1.1l1 -2.6l1 .5l1 -3.8l1 -.3l1 -2.4l1 -.6l1 -2.5l1 -1.1l1 -2.3l1 -.1l1 -4.9l1 1.8l1 -2.9l1 .2l1 -3.4l1 1.1l1 -4.9l1 1.6l1 -5.3l1 1.9l1 -3.8l1 -.2l1 -2.9l1 -.8l1 -1.9l1 -.9l1 -2l1 -.4l1 -2.6l1 -1.2l1 -1.8l1 0l1 -3.2l1 -1l1 -3.1l1 1.5l1 -3.8l1 -.7l1 -1.8l1 -.7l1 -2l1 -.9l1 -2.1l1 .1l1 -3.7l1 .3l1 -2.9l1 .4l1 -3.8l1 .2l1 -3.3l1 .2l1 -2.5l1 .1l1 -3.3l1 -.2l1 -1.9l1 -.7l1 -2.5l1 .6l1 -3.3l1 -.6l1 -2.2l1 -.9l1 -1.9l1 -.4l1 -2.7l1 0l1 -2.7l1 .3l1 -3.2l1 .1l1 -3.6l1 .7l1 -2.2l1 -.8l1 -2.5l1 .2l1 -2.6l1 -.9l1 -1.5l1 0l1 -3.8l1 .1l1 -1.6l1 -1.1l1 -2.1l1 -.3l1 -1.9l1 -.5l1 -2.5l1 -.7l1 -1.3l1 -1.1l1 -1.9l1 -.5l1 -2l1 .4l1 -3.4l1 -.4l1 -1.8l1 .5l1 -3.3l1 -.2l1 -2.2l1 -.1l1 -2.6l1 .2l1 -2.3l1 .4l1 -2.5l1 -.4l1 -2.3l1 -.2l1 -1.8l1 -1.1l1 -2l1 -.3l1 -3.6l1 1.4l1 -2.1l1 1.1l1 -3.7l1 -.1l1 -2.7l1 1.6l1 -2.7l1 -.5l1 -2.2l1 1.1l1 -3.2l1 -.2l1 -1.6l1 -.6l1 -1.6l1 -.4l1 -1.7l1 -.1l1 -2.3l1 -.1l1 -2.2l1 0l1 -1.8l1 -.1l1 -2.1l1 .4l1 -1.9l1 -.7l1 -2.2l1 2.3l1 -3.7l1 0l1 -2.1l1 -.3l1 -1.7l1 -.3l1 -1.7l1 -.1l1 -1.9l1 .4l1 -2.4l1 1l1 -3l1 .4l1 -1.7l1 .6l1 -2.5l1 .2l1 -3.4l1 1.7l1 -1.7l1 .9l1 -2.9l1 1.3l1 -3.8l1 1.2l1 -1.9l1 .4l1 -3l1 .6l1 -2l1 0l1 -1.2l1 1.9l1 -3.7l1 -.2l1 -1.7l1 .1l1 -1.1l1 0l1 -1.8l1 .9l1 -2.5l1 -.2l1 -1.2l1 .6l1 -1.8l1 -.1l1 -1.9l1 0l1 -1.6l1 .8l1 -1.8l1 -.3l1 -3l1 2.3l1 -1.8l1 1l1 -2.7l1 1.1l1 -2.7l1 .4l1 -2.2l1 1.2l1 -1.4l1 .3l1 -1.6l1 0l1 -1.7l1 .8l1 -2.8l1 2.4l1 -4.2l1 1.7l1 -2.2l1 .8l1 -1.3l1 .7l1 -2.6l1 .9l1 -1.3l1 -.2l1 -1.2l1 .6l1 -2.1l1 1.1l1 -1.9l1 -.3l1 -1.2l1 .3l1 -1l1 .2l1 -1.7l1 .2l1 -1.3l1 1.6l1 -2.7l1 .1l1 -1.4l1 .8l1 -1.3l1 .9l1 -2.6l1 .4l1 -1.4l1 1.1l1 -2.4l1 1.1l1 -2l1 1.5l1 -2.1l1 .5l1 -1.2l1 .3l1 -3.7l1 2.1l1 -1.6l1 1l1 -1.9l1 1.4l1 -2.5l1 1.6l1 -1.5l1 .1l1 -1.3l1 .6l1 -1.1l1 0l1 -1.1l1 .8l1 -2.6l1 .8l1 -1.1l1 .8l1 -1.7l1 .4l1 -.5l1 -.2l1 -.7l1 .5l1 -1.5l1 1.2l1 -2.9l1 1.8l1 -1.7l1 .7l1 -1.8l1 1.5l1 -1.9l1 1l1 -2.8l1 1.8l1 -2.3l1 1.4l1 -1.4l1 .3l1 -1.1l1 .4l1 -2.2l1 2.3l1 -1.9l1 1l1 -2.2l1 1l1 -.9l1 1.3l1 -2.2l1 1.3l1 -1.8l1 .6l1 -1.4l1 .6l1 -1.6l1 .9l1 -1.1l1 .2l1 -1.1l1 .8l1 -1.1l1 .9l1 -2.6l1 2.4l1 -1.6l1 .1l1 -1.4l1 1.3l1 -1.1l1 .8l1 -1.4l1 .5l1 -1.4l1 .9l1 -1l1 .2l1 -1.6l1 1.1l1 -1.4l1 .8l1 -1.7l1 1.3l1 -.9l1 1l1 -1.8l1 2.1l1 -1.9l1 .7l1 -2l1 1.4l1 -2.3l1 1.8l1 -2.1l1 1l1 -.9l1 .4l1 -.4l1 .1l1 -1.2l1 2l1 -1.8l1 .1l1 -.6l1 .8l1 -2.3l1 1.5l1 -1.2l1 .9l1 -.7l1 .4l1 -1.3l1 1.4l1 -3.1l1 2.2l1 -.7l1 .2l1 -.8l1 2l1 -2l1 .5l1 -1l1 .4l1 -1.9l1 2.1l1 -1.7l1 .6l1 -.4l1 .1l1 -.9l1 1.1l1 -1.1l1 .6l1 -2.6l1 2l1 -1.4l1 2.4l1 -1.8l1 .8l1 -1.1l1 .3l1 -.3l1 1.7l1 -2.7l1 2.7l1 -3.3l1 1.1l1 -1.8l1 1.8l1 -1.9l1 2.7l1 -2l1 .9l1 -.9l1 .9l1 -1l1 .6l1 -1.6l1 1.2l1 -1.5l1 1.8l1 -2.2l1 1.3l1 -2l1 2.4l1 -2.4l1 2.2l1 -1.7l1 1.3l1 -1.8l1 1.4l1 -.6l1 .4l1 -2.2l1 3.8l1 -4l1 2.4l1 -1.6l1 2.1l1 -2.1l1 1l1 -1.5l1 1.9l1 -1.3l1 .4l1 -.5l1 .3l1 -1.3l1 .9l1 -1.1l1 1l1 -.4l1 1.8l1 -2.1l1 .4l1 -.2l1 .1l1 -.4l1 1.1l1 -1l1 1.9l1 -2.8l1 1.1l1 -1.5l1 2.8l1 -2.5l1 1.5l1 -1.1l1 1.3l1 -2.3l1 1.5l1 -.5l1 1.1l1 -2l1 2l1 -2.8l1 2.4l1 -1.5l1 .9l1 -1.3l1 2.3l1 -2.2l1 .9l1 -1.9l1 2l1 -1.5l1 1.9l1 -1.4l1 1.4l1 -1.3l1 .2l1 -.6l1 1.1l1 -1l1 1.4l1 -1.5l1 .8l1 -1.1l1 .8l1 -1.5l1 2.1l1 -1.7l1 .9l1 -.8l1 1.5l1 -1.7l1 1l1 -.4l1 .8l1 -.8l1 .8l1 -1.1l1 1.7l1 -2.7l1 2.2l1 -1.4l1 1.2l1 -1l1 .4l1 -.6l1 .5l1 -1.6l1 2.3l1 -.8l1 .1l1 -1.9l1 2.7l1 -1.2l1 .8l1 -1.8l1 1.5l1 -1.8l1 2.8l1 -1.8l1 1.1l1 -1.3l1 1.7l1 -1.7l1 1.2l1 -1.2l1 .8l1 -1.6l1 1.9l1 -1.8l1 1.7l1 -1.5l1 1.3l1 -1.3l1 1.3l1 -.8l1 1.7l1 -2.4l1 1.6l1 -1l1 .9l1 -.6l1 .4l1 -.4l1 .8l1 -1.2l1 .9l1 -.6l1 .8l1 -1.3l1 1.4l1 -1.7l1 1.6l1 -.6l1 .5l1 -1.4l1 1.9l1 -1.4l1 1.1l1 -1l1 1l1 -1.8l1 1.6l1 -.8l1 1l1 -.9l1 .5l1 -2.2l1 2.2l1 -3.3l1 3.3l1 -1.1l1 2l1 -1.7l1 .6l1 -.6l1 .5l1 -.5l1 .8l1 -2l1 2l1 -2l1 2.1l1 -.7l1 .9l1 -1.1l1 .8l1 -1.4l1 1l1 -.5l1 .7l1 -.4l1 .6l1 -1.1l1 .5l1 -.8l1 1.9l1 -1.4l1 .9l1 -.7l1 1.2l1 -1.3l1 .3l1 -.3l1 1l1 -.9l1 .5l1 -.7l1 .4l1 -.4l1 .7l1 -.8l1 1.1l1 -1.1l1 1.4l1 -1.3l1 .5l1 -1.1l1 2.1l1 -1.8l1 1.4l1 -2l1 2.3l1 -2.3l1 2.2l1 -1.3l1 .9l1 -1.5l1 1.2l1 -1.4l1 1.1l1 -1.5l1 2.2l1 -2.4l1 2.6l1 -1.6l1 2l1 -1.6l1 1.8l1 -2.3l1 1.4l1 -1.8l1 1.8l1 -1.1l1 .9l1 -1.3l1 1l1 -.9l1 .6l1 -.6l1 1.2l1 -2.4l1 4l1 -2.8l1 .9l1 -1.9l1 2.7l1 -2.3l1 2.5l1 -2l1 .8l1 -.3l1 1.8l1 -2.7l1 2.2l1 -1.8l1 .6l1 -.3l1 2.1l1 -2.5l1 1.1l1 -.5l1 .4l1 -.4l1 .2l1 -1.9l1 2.4l1 -1.4l1 1.6l1 -1.1l1 1.2l1 -1.2l1 .8l1 -1.7l1 1.3l1 -1l1 1.1l1 -1.4l1 1.4l1 -2l1 1.7l1 -.2l1 .7l1 -1.1l1 .8l1 -2l1 3.2l1 -2.4l1 1.5l1 -1.9l1 1.4l1 -.2l1 .5l1 -.6l1 1.2l1 -1.1l1 .6l1 -.9l1 1.3l1 -1l1 .6l1 -.7l1 .4l1 -.8l1 1.5l1 -1.5l1 1l1 -1.3l1 1.1l1 -.8l1 1.5l1 -1.2l1 .4l1 -.8l1 2.8l1 -2.3l1 .4l1 -1.5l1 3.3l1 -2.3l1 .5l1 -1.2l1 1l1 -.1l1 1l1 -1.4l1 .9l1 -1.2l1 2l1 -2.2l1 1.7l1 -1.4l1 .8l1 -.2l1 .3l1 -.4l1 1.8l1 -2.7l1 1.2l1 -1.1l1 1.5l1 -.8l1 1.3l1 -1.6l1 1.7l1 -2l1 1.1l1 -.6l1 .8l1 -1.5l1 1.1l1 -.8l1 .9l1 -.4l1 .3l1 -.3l1 1.1l1 -1l1 .9l1 -2.2l1 3.2l1 -1.9l1 .2l1 -.3l1 1l1 -1.5l1 1l1 -.9l1 1.1l1 -1.1l1 1.2l1 -.6l1 .4l1 -.4l1 .9l1 -1.7l1 2l1 -2.9l1 2.1l1 -.4l1 .5l1 -1.5l1 1.8l1 -1.6l1 1.7l1 -1.2l1 .9l1 -1.7l1 1.5l1 -1.3l1 1l1 -.9l1 .9l1 -1.2l1 1.6l1 -.5l1 .2l1 -.6l1 .7l1 -.4l1 .8l1 -1.7l1 1.4l1 -1.1l1 1.5l1 -.7l1 .8l1 -1.8l1 1.8l1 -1l1 1.1l1 -1.4l1 .6l1 -.1l1 1.6l1 -2l1 1.1l1 -1.1l1 1.7l1 -1.4l1 .6l1 -1.8l1 2.2l1 -.9l1 1.7l1 -3.1l1 1.7l1 -.8l1 2.4l1 -3.9l1 3.5l1 -1.8l1 1.6l1 -2.4l1 1.8" stroke="#ff0000" stroke-width="6.5"/>
</g>
<g stroke="#000" fill="none">
<path d="M274.9 56.0H2297.7V750.8H274.9Z" stroke-width="4" stroke-linejoin="miter"/>
<path d="M274.7 750.8v9.5M274.7 56.0v9.0M458.6 750.8v19.5M458.6 56.0v19.0M642.6 750.8v9.5M642.6 56.0v9.0M826.5 750.8v19.5M826.5 56.0v19.0M1010.5 750.8v9.5M1010.5 56.0v9.0M1194.4 750.8v19.5M1194.4 56.0v19.0M1378.3 750.8v9.5M1378.3 56.0v9.0M1562.3 750.8v19.5M1562.3 56.0v19.0M1746.2 750.8v9.5M1746.2 56.0v9.0M1930.2 750.8v19.5M1930.2 56.0v19.0M2114.1 750.8v9.5M2114.1 56.0v9.0M2298.0 750.8v19.5M2298.0 56.0v19.0M274.9 736.8h-22.0M2297.7 736.8h-19.5M274.9 670.0h-11.5M2297.7 670.0h-9.5M274.9 603.2h-22.0M2297.7 603.2h-19.5M274.9 536.4h-11.5M2297.7 536.4h-9.5M274.9 469.6h-22.0M2297.7 469.6h-19.5M274.9 402.8h-11.5M2297.7 402.8h-9.5M274.9 336.0h-22.0M2297.7 336.0h-19.5M274.9 269.2h-11.5M2297.7 269.2h-9.5M274.9 202.4h-22.0M2297.7 202.4h-19.5M274.9 135.6h-11.5M2297.7 135.6h-9.5M274.9 68.8h-22.0M2297.7 68.8h-19.5" stroke-width="3"/>
</g>
<g font-family="Liberation Serif, Times New Roman, serif" font-size="67" fill="#000">
<text x="240" y="755.5" text-anchor="end">0</text>
<text x="240" y="621.9" text-anchor="end">20</text>
<text x="240" y="488.3" text-anchor="end">40</text>
<text x="240" y="354.7" text-anchor="end">60</text>
<text x="240" y="221.1" text-anchor="end">80</text>
<text x="240" y="87.5" text-anchor="end" textLength="96" lengthAdjust="spacingAndGlyphs">100</text>
<text x="458.6" y="834.0" text-anchor="middle">200</text>
<text x="826.5" y="834.0" text-anchor="middle">300</text>
<text x="1194.4" y="834.0" text-anchor="middle">400</text>
<text x="1562.3" y="834.0" text-anchor="middle">500</text>
<text x="1930.2" y="834.0" text-anchor="middle">600</text>
<text x="2298.0" y="834.0" text-anchor="middle">700</text>
</g>
<g stroke="#000" fill="none">
<path d="M274.9 883.5H2297.7V1579.3H274.9Z" stroke-width="4" stroke-linejoin="miter"/>
<path d="M274.7 1579.3v9.5M274.7 883.5v9.0M458.6 1579.3v19.5M458.6 883.5v19.0M642.6 1579.3v9.5M642.6 883.5v9.0M826.5 1579.3v19.5M826.5 883.5v19.0M1010.5 1579.3v9.5M1010.5 883.5v9.0M1194.4 1579.3v19.5M1194.4 883.5v19.0M1378.3 1579.3v9.5M1378.3 883.5v9.0M1562.3 1579.3v19.5M1562.3 883.5v19.0M1746.2 1579.3v9.5M1746.2 883.5v9.0M1930.2 1579.3v19.5M1930.2 883.5v19.0M2114.1 1579.3v9.5M2114.1 883.5v9.0M2298.0 1579.3v19.5M2298.0 883.5v19.0M274.9 1565.4h-22.0M2297.7 1565.4h-19.5M274.9 1498.6h-11.5M2297.7 1498.6h-9.5M274.9 1431.8h-22.0M2297.7 1431.8h-19.5M274.9 1365.0h-11.5M2297.7 1365.0h-9.5M274.9 1298.2h-22.0M2297.7 1298.2h-19.5M274.9 1231.4h-11.5M2297.7 1231.4h-9.5M274.9 1164.6h-22.0M2297.7 1164.6h-19.5M274.9 1097.8h-11.5M2297.7 1097.8h-9.5M274.9 1031.0h-22.0M2297.7 1031.0h-19.5M274.9 964.2h-11.5M2297.7 964.2h-9.5M274.9 897.4h-22.0M2297.7 897.4h-19.5" stroke-width="3"/>
</g>
<g font-family="Liberation Serif, Times New Roman, serif" font-size="67" fill="#000">
<text x="240" y="1584.1" text-anchor="end">0</text>
<text x="240" y="1450.5" text-anchor="end">20</text>
<text x="240" y="1316.9" text-anchor="end">40</text>
<text x="240" y="1183.3" text-anchor="end">60</text>
<text x="240" y="1049.7" text-anchor="end">80</text>
<text x="240" y="916.1" text-anchor="end" textLength="96" lengthAdjust="spacingAndGlyphs">100</text>
<text x="458.6" y="1662.6" text-anchor="middle">200</text>
<text x="826.5" y="1662.6" text-anchor="middle">300</text>
<text x="1194.4" y="1662.6" text-anchor="middle">400</text>
<text x="1562.3" y="1662.6" text-anchor="middle">500</text>
<text x="1930.2" y="1662.6" text-anchor="middle">600</text>
<text x="2298.0" y="1662.6" text-anchor="middle">700</text>
</g>
<g font-family="Liberation Serif, Times New Roman, serif" fill="#000" style="font-kerning:none">
<text x="287" y="145.3" font-size="80" textLength="319" lengthAdjust="spacingAndGlyphs">a) PdLTA</text>
<text x="284.5" y="976.7" font-size="80" textLength="248" lengthAdjust="spacingAndGlyphs">b) PdAl</text>
<text x="881.5" y="1789.6" font-size="80" textLength="809" lengthAdjust="spacingAndGlyphs">Catalyst temperature (°C)</text>
<text transform="translate(104.5 819.6) rotate(-90) scale(0.993 1)" text-anchor="middle" font-size="80">CH<tspan font-size="54" dy="15">4</tspan><tspan dy="-15"> conversion (%)</tspan></text>
<path d="M300 1132.6H412" stroke="#000000" stroke-width="5.5" stroke-linecap="round"/>
<text x="427.3" y="1148.8" font-size="62.5" textLength="259.9" lengthAdjust="spacingAndGlyphs">Degreened</text>
<path d="M300 1214.1H412" stroke="#400000" stroke-width="5.5" stroke-linecap="round"/>
<text x="427.3" y="1230.3" font-size="62.5" textLength="313.7" lengthAdjust="spacingAndGlyphs">Aged, 700°C</text>
<path d="M300 1295.6H412" stroke="#800000" stroke-width="5.5" stroke-linecap="round"/>
<text x="427.3" y="1311.8" font-size="62.5" textLength="313.7" lengthAdjust="spacingAndGlyphs">Aged, 800°C</text>
<path d="M300 1377.1H412" stroke="#ff0000" stroke-width="5.5" stroke-linecap="round"/>
<text x="427.3" y="1393.3" font-size="62.5" textLength="313.7" lengthAdjust="spacingAndGlyphs">Aged, 900°C</text>
</g>
</svg>
</body></html>
